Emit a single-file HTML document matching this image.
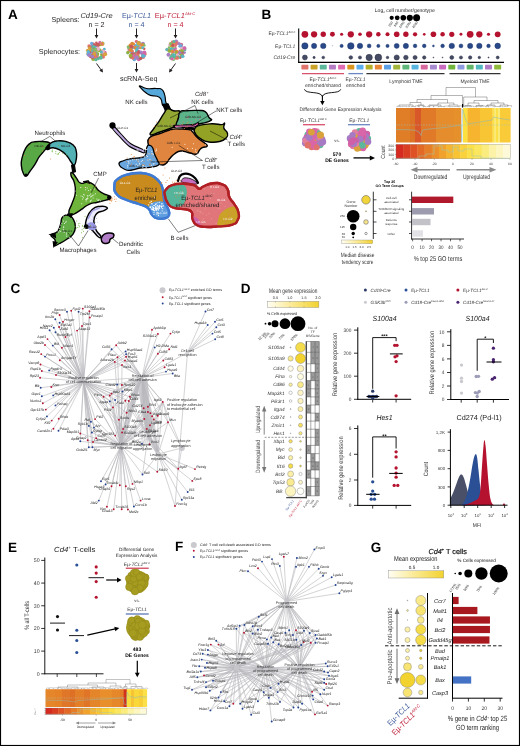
<!DOCTYPE html>
<html lang="en"><head><meta charset="utf-8"><title>Figure</title>
<style>
html,body{margin:0;padding:0;background:#fff;}
body{width:520px;height:746px;overflow:hidden;}
svg{display:block;text-rendering:geometricPrecision;font-family:'Liberation Sans', sans-serif;}
</style></head><body>
<svg width="520" height="746" viewBox="0 0 520 746">
<rect x="0" y="0" width="520" height="746" fill="#fff"/>
<g id="panel_a">
<text x="8.00" y="19.00" font-size="13.5" font-weight="bold" fill="#000">A</text>
<text x="79.50" y="21.50" font-size="7.2" text-anchor="end" fill="#231f20">Spleens:</text>
<text x="80.00" y="53.50" font-size="7.2" text-anchor="end" fill="#231f20">Splenocytes:</text>
<text x="96.50" y="17.50" font-size="7.2" text-anchor="middle" font-style="italic" fill="#231f20" textLength="32.00" lengthAdjust="spacingAndGlyphs">Cd19-Cre</text>
<text x="96.50" y="26.50" font-size="7.2" text-anchor="middle" fill="#231f20">n = 2</text>
<text x="136.50" y="17.50" font-size="7.2" text-anchor="middle" fill="#3d5a99" textLength="29.00" lengthAdjust="spacingAndGlyphs">Eµ-<tspan font-style="italic">TCL1</tspan></text>
<text x="136.50" y="26.50" font-size="7.2" text-anchor="middle" fill="#3d5a99">n = 4</text>
<text x="154.80" y="17.50" font-size="7.2" fill="#c0243c" textLength="40.50" lengthAdjust="spacingAndGlyphs">Eµ-<tspan font-style="italic">TCL1</tspan><tspan font-size="4" dy="-3" font-style="italic">Akt-C</tspan></text>
<text x="175.50" y="26.50" font-size="7.2" text-anchor="middle" fill="#c0243c">n = 4</text>
<line x1="96.50" y1="28.50" x2="96.50" y2="35.40" stroke="#231f20" stroke-width="1.0" />
<path d="M96.50,38.50 L94.60,34.90 L98.40,34.90 Z" fill="#231f20" />
<circle cx="97.32" cy="57.34" r="1.59" fill="#c85a5a" />
<circle cx="89.81" cy="51.65" r="1.79" fill="#e08a3a" />
<circle cx="96.54" cy="54.99" r="2.12" fill="#e08a3a" />
<circle cx="90.13" cy="48.74" r="1.61" fill="#5cb89a" />
<circle cx="97.21" cy="54.10" r="2.06" fill="#9aae3a" />
<circle cx="96.38" cy="42.89" r="1.33" fill="#c85a5a" />
<circle cx="104.72" cy="52.68" r="1.98" fill="#d268a8" />
<circle cx="89.03" cy="51.84" r="2.02" fill="#e5b4c8" />
<circle cx="98.24" cy="44.60" r="1.89" fill="#c85a5a" />
<circle cx="88.34" cy="53.57" r="2.02" fill="#d9a23a" />
<circle cx="103.18" cy="51.96" r="1.49" fill="#7fbf6a" />
<circle cx="90.02" cy="53.37" r="1.53" fill="#58b6c7" />
<circle cx="100.33" cy="44.40" r="1.73" fill="#9aae3a" />
<circle cx="89.17" cy="46.03" r="1.85" fill="#e0736c" />
<circle cx="102.54" cy="43.23" r="1.85" fill="#5cb89a" />
<circle cx="95.11" cy="45.46" r="1.74" fill="#c85a5a" />
<circle cx="89.67" cy="47.19" r="1.45" fill="#c85a5a" />
<circle cx="96.45" cy="53.76" r="1.68" fill="#7fbf6a" />
<circle cx="99.56" cy="50.32" r="1.96" fill="#9aae3a" />
<circle cx="97.85" cy="49.71" r="1.64" fill="#9aae3a" />
<circle cx="98.16" cy="49.10" r="1.80" fill="#e0736c" />
<circle cx="91.68" cy="55.45" r="1.74" fill="#d268a8" />
<circle cx="87.51" cy="50.18" r="1.54" fill="#d9a23a" />
<circle cx="102.10" cy="54.78" r="2.08" fill="#9aae3a" />
<circle cx="95.57" cy="55.11" r="1.86" fill="#a57fc4" />
<circle cx="93.25" cy="58.88" r="2.04" fill="#9aae3a" />
<circle cx="90.60" cy="56.57" r="1.60" fill="#c85a5a" />
<circle cx="95.55" cy="47.80" r="2.10" fill="#58b6c7" />
<circle cx="95.81" cy="57.84" r="1.88" fill="#d268a8" />
<circle cx="92.43" cy="52.31" r="1.53" fill="#a57fc4" />
<circle cx="102.78" cy="50.93" r="1.77" fill="#e0736c" />
<circle cx="91.70" cy="55.50" r="1.39" fill="#7fbf6a" />
<circle cx="92.38" cy="45.94" r="1.85" fill="#a57fc4" />
<circle cx="92.99" cy="47.40" r="1.69" fill="#c85a5a" />
<circle cx="103.90" cy="53.34" r="2.09" fill="#d268a8" />
<circle cx="93.27" cy="46.84" r="1.79" fill="#5cb89a" />
<circle cx="93.39" cy="54.42" r="1.59" fill="#c85a5a" />
<circle cx="96.07" cy="58.72" r="1.36" fill="#e0736c" />
<circle cx="104.37" cy="49.12" r="1.39" fill="#58b6c7" />
<circle cx="98.23" cy="58.71" r="1.48" fill="#5cb89a" />
<circle cx="93.53" cy="43.76" r="1.36" fill="#c85a5a" />
<circle cx="94.45" cy="55.33" r="1.98" fill="#e08a3a" />
<circle cx="100.14" cy="42.02" r="1.34" fill="#e5b4c8" />
<circle cx="91.67" cy="43.41" r="1.66" fill="#6aa9dc" />
<circle cx="97.19" cy="48.83" r="2.09" fill="#a57fc4" />
<circle cx="99.77" cy="42.52" r="1.43" fill="#d268a8" />
<circle cx="92.26" cy="57.64" r="1.35" fill="#c85a5a" />
<circle cx="94.91" cy="53.27" r="1.52" fill="#d268a8" />
<circle cx="89.58" cy="52.13" r="1.52" fill="#c85a5a" />
<circle cx="89.28" cy="55.30" r="1.41" fill="#e0736c" />
<circle cx="88.40" cy="51.70" r="1.80" fill="#58b6c7" />
<circle cx="88.50" cy="54.13" r="2.06" fill="#6aa9dc" />
<circle cx="102.96" cy="51.77" r="1.92" fill="#e5b4c8" />
<circle cx="91.84" cy="49.90" r="1.56" fill="#6aa9dc" />
<circle cx="102.35" cy="43.92" r="2.10" fill="#d9a23a" />
<circle cx="97.53" cy="48.67" r="2.04" fill="#e5b4c8" />
<circle cx="92.67" cy="50.18" r="2.03" fill="#9aae3a" />
<circle cx="95.86" cy="50.00" r="1.91" fill="#5cb89a" />
<circle cx="92.25" cy="50.41" r="1.29" fill="#58b6c7" />
<circle cx="89.08" cy="55.15" r="1.80" fill="#a57fc4" />
<circle cx="103.27" cy="57.00" r="1.73" fill="#e0736c" />
<circle cx="94.33" cy="53.81" r="1.73" fill="#d9a23a" />
<circle cx="100.73" cy="57.78" r="2.06" fill="#5cb89a" />
<circle cx="97.16" cy="49.78" r="1.81" fill="#9aae3a" />
<circle cx="101.41" cy="52.00" r="1.50" fill="#58b6c7" />
<circle cx="94.72" cy="50.24" r="1.55" fill="#e0736c" />
<circle cx="101.90" cy="44.09" r="1.31" fill="#e0736c" />
<circle cx="105.15" cy="54.33" r="2.00" fill="#d9a23a" />
<circle cx="90.32" cy="49.87" r="1.41" fill="#d9a23a" />
<circle cx="92.35" cy="56.52" r="1.77" fill="#a57fc4" />
<circle cx="95.93" cy="59.70" r="1.64" fill="#5cb89a" />
<circle cx="89.40" cy="47.81" r="1.60" fill="#d9a23a" />
<circle cx="95.04" cy="49.72" r="1.67" fill="#7fbf6a" />
<circle cx="97.97" cy="44.89" r="1.96" fill="#c85a5a" />
<circle cx="98.42" cy="49.10" r="1.81" fill="#e5b4c8" />
<line x1="136.50" y1="28.50" x2="136.50" y2="35.40" stroke="#231f20" stroke-width="1.0" />
<path d="M136.50,38.50 L134.60,34.90 L138.40,34.90 Z" fill="#231f20" />
<circle cx="137.06" cy="53.48" r="1.61" fill="#5cb89a" />
<circle cx="137.90" cy="51.20" r="1.74" fill="#d268a8" />
<circle cx="139.34" cy="42.77" r="1.46" fill="#58b6c7" />
<circle cx="131.56" cy="56.82" r="1.98" fill="#d268a8" />
<circle cx="138.79" cy="59.23" r="1.98" fill="#d268a8" />
<circle cx="138.07" cy="46.61" r="1.54" fill="#7fbf6a" />
<circle cx="142.93" cy="43.75" r="2.00" fill="#a57fc4" />
<circle cx="142.99" cy="54.25" r="1.85" fill="#58b6c7" />
<circle cx="136.83" cy="55.12" r="1.51" fill="#58b6c7" />
<circle cx="137.23" cy="49.83" r="1.52" fill="#e5b4c8" />
<circle cx="143.13" cy="44.73" r="1.71" fill="#9aae3a" />
<circle cx="132.37" cy="52.80" r="1.66" fill="#6aa9dc" />
<circle cx="133.95" cy="58.39" r="1.31" fill="#e0736c" />
<circle cx="127.77" cy="52.66" r="1.72" fill="#7fbf6a" />
<circle cx="131.44" cy="51.48" r="2.12" fill="#6aa9dc" />
<circle cx="144.93" cy="54.10" r="1.81" fill="#e08a3a" />
<circle cx="135.89" cy="55.97" r="1.91" fill="#a57fc4" />
<circle cx="134.05" cy="47.40" r="1.55" fill="#e0736c" />
<circle cx="135.53" cy="45.77" r="1.77" fill="#6aa9dc" />
<circle cx="143.27" cy="56.74" r="1.52" fill="#e0736c" />
<circle cx="144.29" cy="52.56" r="2.04" fill="#d268a8" />
<circle cx="135.94" cy="41.43" r="1.29" fill="#d268a8" />
<circle cx="135.22" cy="53.77" r="1.83" fill="#c85a5a" />
<circle cx="135.70" cy="48.15" r="1.80" fill="#e08a3a" />
<circle cx="135.59" cy="54.99" r="1.78" fill="#5cb89a" />
<circle cx="136.36" cy="51.29" r="1.31" fill="#5cb89a" />
<circle cx="131.28" cy="56.75" r="2.12" fill="#c85a5a" />
<circle cx="144.35" cy="55.78" r="1.64" fill="#6aa9dc" />
<circle cx="138.55" cy="52.02" r="1.90" fill="#c85a5a" />
<circle cx="135.20" cy="47.28" r="1.31" fill="#e08a3a" />
<circle cx="132.22" cy="47.88" r="1.31" fill="#58b6c7" />
<circle cx="134.33" cy="59.45" r="1.83" fill="#6aa9dc" />
<circle cx="132.27" cy="51.14" r="1.62" fill="#e0736c" />
<circle cx="138.00" cy="56.58" r="1.83" fill="#9aae3a" />
<circle cx="140.00" cy="44.77" r="1.30" fill="#d268a8" />
<circle cx="136.66" cy="57.24" r="1.93" fill="#9aae3a" />
<circle cx="139.19" cy="47.94" r="1.32" fill="#a57fc4" />
<circle cx="128.31" cy="46.81" r="1.62" fill="#7fbf6a" />
<circle cx="132.11" cy="43.69" r="1.91" fill="#e08a3a" />
<circle cx="132.16" cy="54.46" r="2.07" fill="#c85a5a" />
<circle cx="144.03" cy="45.23" r="1.56" fill="#7fbf6a" />
<circle cx="128.12" cy="52.09" r="1.54" fill="#9aae3a" />
<circle cx="129.39" cy="49.18" r="1.86" fill="#d268a8" />
<circle cx="133.72" cy="55.45" r="1.70" fill="#d268a8" />
<circle cx="144.18" cy="48.69" r="1.31" fill="#c85a5a" />
<circle cx="143.16" cy="57.08" r="1.84" fill="#e0736c" />
<circle cx="142.08" cy="44.88" r="1.67" fill="#e08a3a" />
<circle cx="136.60" cy="41.55" r="1.46" fill="#e0736c" />
<circle cx="137.69" cy="54.07" r="1.79" fill="#d268a8" />
<circle cx="143.05" cy="56.07" r="1.94" fill="#6aa9dc" />
<circle cx="128.52" cy="47.77" r="1.45" fill="#7fbf6a" />
<circle cx="130.26" cy="45.21" r="1.75" fill="#e08a3a" />
<circle cx="142.11" cy="47.37" r="1.34" fill="#e5b4c8" />
<circle cx="131.41" cy="46.86" r="2.01" fill="#c85a5a" />
<circle cx="137.09" cy="48.63" r="1.34" fill="#58b6c7" />
<circle cx="140.99" cy="47.65" r="1.57" fill="#d9a23a" />
<circle cx="142.70" cy="53.99" r="1.60" fill="#d268a8" />
<circle cx="130.60" cy="55.72" r="2.00" fill="#9aae3a" />
<circle cx="139.40" cy="52.27" r="1.80" fill="#a57fc4" />
<circle cx="130.69" cy="50.02" r="2.00" fill="#e08a3a" />
<circle cx="144.77" cy="54.06" r="1.44" fill="#d268a8" />
<circle cx="142.62" cy="47.75" r="1.38" fill="#58b6c7" />
<circle cx="141.11" cy="58.05" r="1.42" fill="#5cb89a" />
<circle cx="132.81" cy="58.15" r="1.49" fill="#e0736c" />
<circle cx="136.63" cy="49.83" r="1.54" fill="#58b6c7" />
<circle cx="143.13" cy="55.79" r="1.79" fill="#58b6c7" />
<circle cx="140.90" cy="52.61" r="2.00" fill="#a57fc4" />
<circle cx="137.31" cy="54.42" r="2.01" fill="#e0736c" />
<circle cx="133.57" cy="44.00" r="1.54" fill="#e08a3a" />
<circle cx="138.22" cy="43.63" r="2.07" fill="#58b6c7" />
<circle cx="138.47" cy="43.41" r="1.65" fill="#5cb89a" />
<circle cx="136.72" cy="57.69" r="2.11" fill="#a57fc4" />
<circle cx="138.59" cy="52.48" r="1.40" fill="#c85a5a" />
<circle cx="140.68" cy="58.44" r="1.59" fill="#c85a5a" />
<circle cx="138.88" cy="43.15" r="2.03" fill="#d9a23a" />
<line x1="175.50" y1="28.50" x2="175.50" y2="35.40" stroke="#231f20" stroke-width="1.0" />
<path d="M175.50,38.50 L173.60,34.90 L177.40,34.90 Z" fill="#231f20" />
<circle cx="170.06" cy="44.91" r="1.95" fill="#e5b4c8" />
<circle cx="171.89" cy="44.97" r="1.99" fill="#6aa9dc" />
<circle cx="170.57" cy="43.39" r="1.37" fill="#e08a3a" />
<circle cx="179.69" cy="46.28" r="1.36" fill="#6aa9dc" />
<circle cx="180.11" cy="50.86" r="1.51" fill="#9aae3a" />
<circle cx="180.27" cy="57.50" r="1.39" fill="#c85a5a" />
<circle cx="172.62" cy="51.65" r="2.10" fill="#e0736c" />
<circle cx="176.89" cy="54.68" r="2.11" fill="#5cb89a" />
<circle cx="173.57" cy="59.34" r="1.73" fill="#7fbf6a" />
<circle cx="173.01" cy="47.68" r="2.10" fill="#6aa9dc" />
<circle cx="184.40" cy="48.67" r="1.53" fill="#a57fc4" />
<circle cx="168.06" cy="55.08" r="1.50" fill="#a57fc4" />
<circle cx="173.51" cy="57.35" r="1.28" fill="#7fbf6a" />
<circle cx="175.17" cy="48.19" r="1.58" fill="#d268a8" />
<circle cx="170.61" cy="51.13" r="1.68" fill="#e5b4c8" />
<circle cx="177.91" cy="54.71" r="2.07" fill="#e5b4c8" />
<circle cx="172.10" cy="55.11" r="1.74" fill="#9aae3a" />
<circle cx="171.08" cy="55.77" r="1.28" fill="#e0736c" />
<circle cx="173.87" cy="43.41" r="2.09" fill="#d9a23a" />
<circle cx="176.12" cy="41.54" r="2.08" fill="#a57fc4" />
<circle cx="167.04" cy="49.81" r="1.49" fill="#e08a3a" />
<circle cx="182.06" cy="55.55" r="1.95" fill="#d268a8" />
<circle cx="184.61" cy="52.56" r="1.35" fill="#a57fc4" />
<circle cx="170.22" cy="50.05" r="1.40" fill="#d268a8" />
<circle cx="181.90" cy="47.35" r="1.54" fill="#a57fc4" />
<circle cx="172.93" cy="58.30" r="1.81" fill="#e5b4c8" />
<circle cx="172.34" cy="41.89" r="1.41" fill="#e0736c" />
<circle cx="182.10" cy="54.01" r="2.06" fill="#e0736c" />
<circle cx="176.37" cy="57.64" r="1.98" fill="#e08a3a" />
<circle cx="173.73" cy="47.62" r="2.11" fill="#7fbf6a" />
<circle cx="182.20" cy="51.83" r="1.99" fill="#5cb89a" />
<circle cx="182.74" cy="49.68" r="1.39" fill="#9aae3a" />
<circle cx="180.61" cy="54.31" r="1.40" fill="#9aae3a" />
<circle cx="174.06" cy="56.51" r="2.12" fill="#5cb89a" />
<circle cx="181.99" cy="49.56" r="1.69" fill="#e5b4c8" />
<circle cx="173.79" cy="54.93" r="1.67" fill="#5cb89a" />
<circle cx="182.21" cy="55.98" r="1.73" fill="#5cb89a" />
<circle cx="171.21" cy="45.80" r="1.56" fill="#d9a23a" />
<circle cx="169.13" cy="50.84" r="1.74" fill="#58b6c7" />
<circle cx="170.49" cy="56.81" r="1.93" fill="#e5b4c8" />
<circle cx="174.33" cy="49.60" r="1.53" fill="#58b6c7" />
<circle cx="174.41" cy="45.77" r="1.69" fill="#e5b4c8" />
<circle cx="173.87" cy="41.61" r="1.56" fill="#5cb89a" />
<circle cx="174.92" cy="50.01" r="1.74" fill="#d268a8" />
<circle cx="173.57" cy="54.82" r="1.52" fill="#58b6c7" />
<circle cx="170.81" cy="43.86" r="1.57" fill="#7fbf6a" />
<circle cx="170.71" cy="57.93" r="1.62" fill="#5cb89a" />
<circle cx="181.08" cy="44.87" r="2.10" fill="#a57fc4" />
<circle cx="169.08" cy="49.73" r="1.42" fill="#a57fc4" />
<circle cx="181.73" cy="48.04" r="1.86" fill="#e5b4c8" />
<circle cx="172.94" cy="45.22" r="1.80" fill="#c85a5a" />
<circle cx="166.85" cy="49.57" r="1.53" fill="#58b6c7" />
<circle cx="176.95" cy="43.17" r="1.89" fill="#e0736c" />
<circle cx="178.19" cy="57.21" r="1.81" fill="#5cb89a" />
<circle cx="177.29" cy="58.06" r="1.81" fill="#e0736c" />
<circle cx="184.97" cy="49.72" r="1.42" fill="#5cb89a" />
<circle cx="182.82" cy="56.37" r="1.69" fill="#58b6c7" />
<circle cx="181.99" cy="51.91" r="1.60" fill="#c85a5a" />
<circle cx="179.58" cy="52.34" r="1.89" fill="#a57fc4" />
<circle cx="181.72" cy="50.52" r="1.51" fill="#9aae3a" />
<circle cx="180.96" cy="44.76" r="1.74" fill="#e0736c" />
<circle cx="170.94" cy="48.92" r="1.53" fill="#58b6c7" />
<circle cx="172.03" cy="56.50" r="2.09" fill="#5cb89a" />
<circle cx="168.47" cy="54.58" r="1.82" fill="#a57fc4" />
<circle cx="172.19" cy="51.25" r="1.60" fill="#e08a3a" />
<circle cx="184.62" cy="48.07" r="1.79" fill="#a57fc4" />
<circle cx="179.07" cy="43.68" r="1.60" fill="#a57fc4" />
<circle cx="169.12" cy="47.57" r="1.39" fill="#7fbf6a" />
<circle cx="180.79" cy="45.61" r="1.64" fill="#6aa9dc" />
<circle cx="169.37" cy="50.77" r="1.88" fill="#9aae3a" />
<circle cx="184.43" cy="48.35" r="1.78" fill="#d268a8" />
<circle cx="175.51" cy="45.41" r="1.49" fill="#e0736c" />
<circle cx="171.92" cy="58.87" r="1.69" fill="#d268a8" />
<circle cx="176.69" cy="51.62" r="1.84" fill="#e08a3a" />
<circle cx="175.85" cy="52.36" r="1.39" fill="#9aae3a" />
<line x1="96.50" y1="63.50" x2="101.18" y2="69.99" stroke="#231f20" stroke-width="1.0" />
<path d="M103.00,72.50 L99.35,70.69 L102.43,68.47 Z" fill="#231f20" />
<line x1="136.50" y1="63.00" x2="136.50" y2="69.40" stroke="#231f20" stroke-width="1.0" />
<path d="M136.50,72.50 L134.60,68.90 L138.40,68.90 Z" fill="#231f20" />
<line x1="175.50" y1="63.50" x2="170.82" y2="69.99" stroke="#231f20" stroke-width="1.0" />
<path d="M169.00,72.50 L169.57,68.47 L172.65,70.69 Z" fill="#231f20" />
<text x="138.70" y="81.00" font-size="7.2" text-anchor="middle" fill="#231f20">scRNA-Seq</text>
<path d="M113.00,127.00 C114.17,128.33 117.17,132.00 120.00,135.00 C122.83,138.00 126.00,142.25 130.00,145.00 C134.00,147.75 141.67,150.42 144.00,151.50" fill="none" stroke="#000" stroke-width="4.0" stroke-linecap="round"/>
<path d="M114.00,128.50 C115.00,129.58 117.33,132.25 120.00,135.00 C122.67,137.75 126.08,142.28 130.00,145.00 C133.92,147.72 141.25,150.25 143.50,151.30" fill="none" stroke="#b9a3d9" stroke-width="2.0" stroke-linecap="round"/>
<circle cx="112.50" cy="125.40" r="3.10" fill="#000" />
<path d="M139.80,85.80 C141.08,85.69 142.13,87.78 146.50,88.50 C150.87,89.22 152.07,88.21 156.20,88.50 C160.33,88.79 159.71,87.76 162.00,89.60 C164.29,91.44 163.79,92.07 164.80,95.40 C165.81,98.73 165.03,99.46 165.80,102.10 C166.57,104.74 168.45,104.39 167.70,105.30 C166.95,106.21 164.79,107.13 163.00,105.50 C161.21,103.87 162.57,101.65 161.00,99.20 C159.43,96.75 159.93,97.31 157.10,96.30 C154.27,95.29 153.47,96.41 150.40,95.40 C147.33,94.39 147.92,94.23 145.60,92.50 C143.28,90.77 143.25,90.69 141.70,88.90 C140.15,87.11 138.52,85.91 139.80,85.80 Z" fill="#56a9da" stroke="#000" stroke-width="1.2" stroke-linejoin="round"/>
<path d="M162.6,104.3 L168,103.8 L171,110.5 L166,112 Z" fill="#000" stroke="#000" stroke-width="1.2" stroke-linejoin="round"/>
<path d="M149.40,137.70 C152.47,134.53 154.11,135.69 160.00,133.50 C165.89,131.31 166.38,130.70 171.50,129.50 C176.62,128.30 174.59,128.97 179.20,129.00 C183.81,129.03 185.20,128.80 188.80,129.60 C192.40,130.40 190.38,129.84 192.70,132.00 C195.02,134.16 194.17,134.63 197.50,137.70 C200.83,140.77 202.67,141.21 205.20,143.50 C207.73,145.79 207.77,145.18 207.00,146.30 C206.23,147.42 204.33,146.66 202.30,147.70 C200.27,148.74 200.95,148.52 199.40,150.20 C197.85,151.88 199.06,153.25 196.50,154.00 C193.94,154.75 193.93,153.80 189.80,153.00 C185.67,152.20 185.11,150.73 181.00,151.00 C176.89,151.27 177.44,151.92 174.40,154.00 C171.36,156.08 171.89,156.24 169.60,158.80 C167.31,161.36 168.36,162.05 165.80,163.60 C163.24,165.15 163.09,165.35 160.00,164.60 C156.91,163.85 156.52,163.63 154.20,160.80 C151.88,157.97 152.82,158.11 151.30,154.00 C149.78,149.89 149.01,149.75 148.50,145.40 C147.99,141.05 146.33,140.87 149.40,137.70 Z" fill="#e0853f" stroke="#000" stroke-width="1.4" stroke-linejoin="round"/>
<path d="M119.00,164.00 C118.73,161.60 120.53,161.97 124.00,160.50 C127.47,159.03 127.47,159.27 132.00,158.50 C136.53,157.73 137.40,158.53 141.00,157.60 C144.60,156.67 143.90,157.83 145.50,155.00 C147.10,152.17 145.93,149.59 147.00,147.00 C148.07,144.41 148.03,145.17 149.50,145.30 C150.97,145.43 151.17,145.18 152.50,147.50 C153.83,149.82 153.17,150.53 154.50,154.00 C155.83,157.47 156.43,157.57 157.50,160.50 C158.57,163.43 160.50,163.19 158.50,165.00 C156.50,166.81 154.93,166.50 150.00,167.30 C145.07,168.10 144.80,167.28 140.00,168.00 C135.20,168.72 136.00,169.60 132.00,170.00 C128.00,170.40 128.47,171.10 125.00,169.50 C121.53,167.90 119.27,166.40 119.00,164.00 Z" fill="#6aa7de" stroke="#000" stroke-width="1.3" stroke-linejoin="round"/>
<circle cx="136.71" cy="151.02" r="0.50" fill="#fff" />
<circle cx="146.53" cy="149.45" r="0.50" fill="#fff" />
<circle cx="143.08" cy="155.31" r="0.50" fill="#fff" />
<circle cx="128.74" cy="158.15" r="0.50" fill="#fff" />
<circle cx="128.12" cy="156.67" r="0.50" fill="#fff" />
<circle cx="129.10" cy="149.81" r="0.50" fill="#fff" />
<circle cx="139.74" cy="164.54" r="0.50" fill="#fff" />
<circle cx="130.71" cy="152.46" r="0.50" fill="#fff" />
<circle cx="145.82" cy="166.95" r="0.50" fill="#fff" />
<circle cx="144.31" cy="155.93" r="0.50" fill="#fff" />
<circle cx="156.29" cy="148.93" r="0.50" fill="#fff" />
<circle cx="152.75" cy="153.79" r="0.50" fill="#fff" />
<circle cx="131.33" cy="150.36" r="0.50" fill="#fff" />
<circle cx="136.25" cy="164.32" r="0.50" fill="#fff" />
<circle cx="132.42" cy="159.63" r="0.50" fill="#fff" />
<circle cx="146.17" cy="155.45" r="0.50" fill="#fff" />
<circle cx="143.43" cy="149.26" r="0.50" fill="#fff" />
<circle cx="128.79" cy="152.12" r="0.50" fill="#fff" />
<circle cx="147.41" cy="156.55" r="0.50" fill="#fff" />
<circle cx="136.42" cy="159.71" r="0.50" fill="#fff" />
<circle cx="140.60" cy="154.00" r="0.50" fill="#fff" />
<circle cx="150.83" cy="161.98" r="0.50" fill="#fff" />
<circle cx="134.32" cy="159.49" r="0.50" fill="#fff" />
<circle cx="142.76" cy="165.50" r="0.50" fill="#fff" />
<circle cx="148.88" cy="153.76" r="0.50" fill="#fff" />
<circle cx="156.41" cy="150.36" r="0.50" fill="#fff" />
<circle cx="139.54" cy="163.14" r="0.50" fill="#fff" />
<circle cx="131.56" cy="157.78" r="0.50" fill="#fff" />
<circle cx="128.18" cy="161.36" r="0.50" fill="#fff" />
<circle cx="149.94" cy="159.46" r="0.50" fill="#fff" />
<circle cx="153.26" cy="154.27" r="0.50" fill="#fff" />
<circle cx="147.86" cy="159.89" r="0.50" fill="#fff" />
<circle cx="144.40" cy="157.12" r="0.50" fill="#fff" />
<circle cx="152.20" cy="166.89" r="0.50" fill="#fff" />
<circle cx="141.22" cy="161.28" r="0.50" fill="#fff" />
<circle cx="128.82" cy="162.03" r="0.50" fill="#fff" />
<circle cx="146.41" cy="167.86" r="0.50" fill="#fff" />
<circle cx="151.66" cy="153.69" r="0.50" fill="#fff" />
<circle cx="138.57" cy="161.37" r="0.50" fill="#fff" />
<circle cx="127.68" cy="157.23" r="0.50" fill="#fff" />
<circle cx="132.04" cy="150.34" r="0.50" fill="#fff" />
<circle cx="128.77" cy="163.36" r="0.50" fill="#fff" />
<circle cx="130.88" cy="152.95" r="0.50" fill="#fff" />
<circle cx="138.73" cy="165.43" r="0.50" fill="#fff" />
<circle cx="129.42" cy="156.98" r="0.50" fill="#fff" />
<circle cx="143.48" cy="165.67" r="0.50" fill="#fff" />
<circle cx="151.58" cy="165.28" r="0.50" fill="#fff" />
<circle cx="135.35" cy="156.31" r="0.50" fill="#fff" />
<circle cx="137.76" cy="165.68" r="0.50" fill="#fff" />
<circle cx="155.73" cy="151.02" r="0.50" fill="#fff" />
<circle cx="132.29" cy="152.64" r="0.50" fill="#fff" />
<circle cx="134.00" cy="157.70" r="0.50" fill="#fff" />
<circle cx="144.67" cy="153.25" r="0.50" fill="#fff" />
<circle cx="127.12" cy="156.38" r="0.50" fill="#fff" />
<circle cx="138.08" cy="159.33" r="0.50" fill="#fff" />
<circle cx="155.59" cy="161.81" r="0.50" fill="#fff" />
<circle cx="142.46" cy="160.35" r="0.50" fill="#fff" />
<circle cx="147.29" cy="149.08" r="0.50" fill="#fff" />
<circle cx="153.99" cy="163.60" r="0.50" fill="#fff" />
<circle cx="153.24" cy="163.96" r="0.50" fill="#fff" />
<circle cx="138.77" cy="155.98" r="0.50" fill="#fff" />
<circle cx="130.11" cy="160.69" r="0.50" fill="#fff" />
<circle cx="128.87" cy="149.35" r="0.50" fill="#fff" />
<circle cx="133.26" cy="151.25" r="0.50" fill="#fff" />
<circle cx="137.20" cy="149.05" r="0.50" fill="#fff" />
<circle cx="127.01" cy="151.03" r="0.50" fill="#fff" />
<circle cx="130.04" cy="155.27" r="0.50" fill="#fff" />
<circle cx="127.77" cy="165.49" r="0.50" fill="#fff" />
<circle cx="145.42" cy="150.97" r="0.50" fill="#fff" />
<circle cx="134.57" cy="154.95" r="0.50" fill="#fff" />
<circle cx="137.92" cy="150.46" r="0.50" fill="#fff" />
<circle cx="152.47" cy="167.86" r="0.50" fill="#fff" />
<circle cx="140.98" cy="157.68" r="0.50" fill="#fff" />
<circle cx="129.58" cy="150.04" r="0.50" fill="#fff" />
<circle cx="137.28" cy="153.30" r="0.50" fill="#fff" />
<circle cx="151.87" cy="151.23" r="0.50" fill="#fff" />
<circle cx="127.69" cy="167.02" r="0.50" fill="#fff" />
<circle cx="142.85" cy="150.93" r="0.50" fill="#fff" />
<circle cx="143.30" cy="148.54" r="0.50" fill="#fff" />
<circle cx="142.84" cy="167.57" r="0.50" fill="#fff" />
<path d="M167.70,108.80 C170.29,108.03 170.17,110.03 173.50,110.80 C176.83,111.57 178.92,109.65 180.20,111.70 C181.48,113.75 179.34,114.74 178.30,118.50 C177.26,122.26 178.11,123.27 176.30,125.80 C174.49,128.33 175.85,126.35 171.50,128.00 C167.15,129.65 165.63,130.19 160.00,132.00 C154.37,133.81 151.95,135.87 150.40,134.80 C148.85,133.73 151.91,131.60 154.20,128.00 C156.49,124.40 156.44,125.11 159.00,121.30 C161.56,117.49 161.48,117.03 163.80,113.70 C166.12,110.37 165.11,109.57 167.70,108.80 Z" fill="#93a832" stroke="#000" stroke-width="1.4" stroke-linejoin="round"/>
<path d="M180.20,111.70 C182.52,109.65 182.12,111.15 187.00,110.80 C191.88,110.45 193.65,110.16 198.50,110.40 C203.35,110.64 202.40,109.81 205.20,111.70 C208.00,113.59 207.45,115.18 209.00,117.50 C210.55,119.82 212.79,118.85 211.00,120.40 C209.21,121.95 207.18,122.18 202.30,123.30 C197.42,124.42 197.85,124.09 192.70,124.60 C187.55,125.11 187.37,124.88 183.00,125.20 C178.63,125.52 177.55,127.59 176.30,125.80 C175.05,124.01 177.26,122.26 178.30,118.50 C179.34,114.74 177.88,113.75 180.20,111.70 Z" fill="#5cb389" stroke="#000" stroke-width="1.4" stroke-linejoin="round"/>
<path d="M174.40,126.10 C176.00,126.18 180.63,126.58 184.00,126.60 C187.37,126.62 192.27,126.72 194.60,126.20 C196.93,125.68 197.43,123.95 198.00,123.50" fill="none" stroke="#000" stroke-width="2.8" stroke-linecap="round"/>
<path d="M183.00,127.30 C184.17,127.45 187.75,127.75 190.00,128.20 C192.25,128.65 195.42,129.70 196.50,130.00" fill="none" stroke="#000" stroke-width="2.4" stroke-linecap="round"/>
<path d="M175.40,126.30 C176.83,126.27 180.90,126.15 184.00,126.10 C187.10,126.05 191.78,126.38 194.00,126.00 C196.22,125.62 196.75,124.17 197.30,123.80" fill="none" stroke="#e06bb2" stroke-width="1.2" stroke-linecap="round"/>
<path d="M194.60,129.00 C195.88,126.71 195.76,126.59 200.40,125.20 C205.04,123.81 206.37,123.96 212.00,123.80 C217.63,123.64 218.14,124.76 221.50,124.60 C224.86,124.44 223.99,122.29 224.60,123.20 C225.21,124.11 223.08,125.41 223.80,128.00 C224.52,130.59 226.63,130.31 227.30,132.90 C227.97,135.49 228.35,135.41 226.30,137.70 C224.25,139.99 224.21,140.35 219.60,141.50 C214.99,142.65 214.12,142.75 209.00,142.00 C203.88,141.25 203.97,140.89 200.40,138.70 C196.83,136.51 197.15,136.39 195.60,133.80 C194.05,131.21 193.32,131.29 194.60,129.00 Z" fill="#93a225" stroke="#000" stroke-width="1.4" stroke-linejoin="round"/>
<circle cx="187.10" cy="123.33" r="0.50" fill="#e0853f" />
<circle cx="174.20" cy="131.81" r="0.50" fill="#e0853f" />
<circle cx="185.27" cy="133.96" r="0.50" fill="#e0853f" />
<circle cx="154.58" cy="126.59" r="0.50" fill="#e0853f" />
<circle cx="170.91" cy="130.49" r="0.50" fill="#e0853f" />
<circle cx="188.10" cy="117.27" r="0.50" fill="#e0853f" />
<circle cx="188.06" cy="122.21" r="0.50" fill="#e0853f" />
<circle cx="183.20" cy="122.03" r="0.50" fill="#e0853f" />
<circle cx="177.11" cy="132.78" r="0.50" fill="#e0853f" />
<circle cx="173.21" cy="128.76" r="0.50" fill="#e0853f" />
<circle cx="184.57" cy="128.57" r="0.50" fill="#e0853f" />
<circle cx="173.94" cy="134.13" r="0.50" fill="#e0853f" />
<circle cx="187.58" cy="126.82" r="0.50" fill="#e0853f" />
<circle cx="207.94" cy="123.41" r="0.50" fill="#e0853f" />
<circle cx="185.98" cy="126.94" r="0.50" fill="#e0853f" />
<circle cx="176.59" cy="130.82" r="0.50" fill="#e0853f" />
<circle cx="177.67" cy="130.55" r="0.50" fill="#e0853f" />
<circle cx="156.67" cy="121.96" r="0.50" fill="#e0853f" />
<circle cx="182.38" cy="124.15" r="0.50" fill="#e0853f" />
<circle cx="162.68" cy="122.12" r="0.50" fill="#e0853f" />
<circle cx="190.20" cy="130.99" r="0.50" fill="#e0853f" />
<circle cx="192.68" cy="124.25" r="0.50" fill="#e0853f" />
<circle cx="188.01" cy="116.58" r="0.50" fill="#e06bb2" />
<circle cx="194.13" cy="124.77" r="0.50" fill="#e06bb2" />
<circle cx="180.88" cy="124.68" r="0.50" fill="#e06bb2" />
<circle cx="195.90" cy="119.47" r="0.50" fill="#e06bb2" />
<circle cx="172.22" cy="124.22" r="0.50" fill="#e06bb2" />
<circle cx="187.23" cy="118.19" r="0.50" fill="#e06bb2" />
<circle cx="191.20" cy="121.23" r="0.50" fill="#e06bb2" />
<circle cx="199.98" cy="116.94" r="0.50" fill="#e06bb2" />
<circle cx="197.09" cy="124.46" r="0.50" fill="#e06bb2" />
<circle cx="199.62" cy="119.46" r="0.50" fill="#e06bb2" />
<circle cx="142.56" cy="165.09" r="0.50" fill="#e0853f" />
<circle cx="151.15" cy="160.62" r="0.50" fill="#e0853f" />
<circle cx="164.24" cy="158.68" r="0.50" fill="#e0853f" />
<circle cx="127.03" cy="158.06" r="0.50" fill="#e0853f" />
<circle cx="131.46" cy="164.09" r="0.50" fill="#e0853f" />
<circle cx="153.17" cy="156.94" r="0.50" fill="#e0853f" />
<circle cx="149.90" cy="164.16" r="0.50" fill="#e0853f" />
<circle cx="150.79" cy="166.63" r="0.50" fill="#e0853f" />
<circle cx="149.39" cy="165.20" r="0.50" fill="#e0853f" />
<circle cx="164.91" cy="168.05" r="0.50" fill="#e0853f" />
<circle cx="143.28" cy="164.40" r="0.50" fill="#e0853f" />
<circle cx="131.24" cy="154.58" r="0.50" fill="#e0853f" />
<circle cx="130.37" cy="165.34" r="0.50" fill="#e0853f" />
<circle cx="137.68" cy="159.94" r="0.50" fill="#e0853f" />
<circle cx="148.08" cy="159.86" r="0.50" fill="#e0853f" />
<circle cx="144.08" cy="161.17" r="0.50" fill="#e0853f" />
<circle cx="167.91" cy="160.22" r="0.50" fill="#e0853f" />
<circle cx="155.31" cy="165.00" r="0.50" fill="#e0853f" />
<circle cx="148.02" cy="153.70" r="0.50" fill="#e0853f" />
<circle cx="144.45" cy="165.37" r="0.50" fill="#e0853f" />
<circle cx="133.54" cy="157.01" r="0.50" fill="#e0853f" />
<circle cx="160.07" cy="163.96" r="0.50" fill="#e0853f" />
<circle cx="150.08" cy="164.03" r="0.50" fill="#e0853f" />
<circle cx="151.66" cy="154.11" r="0.50" fill="#e0853f" />
<circle cx="134.36" cy="156.81" r="0.50" fill="#e0853f" />
<circle cx="159.23" cy="157.17" r="0.50" fill="#e0853f" />
<circle cx="140.98" cy="156.15" r="0.50" fill="#e0853f" />
<circle cx="134.68" cy="159.41" r="0.50" fill="#e0853f" />
<circle cx="138.20" cy="161.82" r="0.50" fill="#e0853f" />
<circle cx="126.40" cy="161.64" r="0.50" fill="#e0853f" />
<circle cx="184.87" cy="144.17" r="0.50" fill="#fff" />
<circle cx="195.80" cy="149.17" r="0.50" fill="#fff" />
<circle cx="172.16" cy="147.37" r="0.50" fill="#fff" />
<circle cx="192.33" cy="148.62" r="0.50" fill="#fff" />
<circle cx="196.24" cy="152.24" r="0.50" fill="#fff" />
<circle cx="195.33" cy="150.98" r="0.50" fill="#fff" />
<circle cx="200.67" cy="151.98" r="0.50" fill="#fff" />
<circle cx="193.61" cy="143.75" r="0.50" fill="#fff" />
<circle cx="197.17" cy="153.93" r="0.50" fill="#fff" />
<circle cx="187.62" cy="148.59" r="0.50" fill="#fff" />
<circle cx="205.52" cy="144.73" r="0.50" fill="#fff" />
<circle cx="193.75" cy="157.27" r="0.50" fill="#fff" />
<circle cx="182.58" cy="152.07" r="0.50" fill="#fff" />
<circle cx="205.09" cy="149.64" r="0.50" fill="#fff" />
<path d="M34.00,141.90 C37.39,141.34 38.26,141.05 42.50,141.50 C46.74,141.95 49.34,141.23 49.90,143.60 C50.46,145.97 47.43,146.91 44.60,150.40 C41.77,153.89 41.83,153.05 39.30,156.70 C36.77,160.35 37.63,160.15 35.10,164.10 C32.57,168.05 32.07,168.38 29.80,171.50 C27.53,174.62 28.28,175.21 26.60,175.80 C24.92,176.39 24.91,176.53 23.50,173.70 C22.09,170.87 21.59,169.73 21.30,165.20 C21.01,160.67 21.25,161.21 22.40,156.70 C23.55,152.19 23.63,151.79 25.60,148.30 C27.57,144.81 27.56,145.31 29.80,143.60 C32.04,141.89 30.61,142.46 34.00,141.90 Z" fill="#58a846" stroke="#000" stroke-width="1.4" stroke-linejoin="round"/>
<circle cx="26.00" cy="175.00" r="1.60" fill="#000" />
<path d="M49.90,143.60 C52.73,141.36 53.06,141.46 57.30,140.90 C61.54,140.34 61.56,140.38 65.80,141.50 C70.04,142.62 70.40,142.46 73.20,145.10 C76.00,147.74 75.47,147.75 76.30,151.40 C77.13,155.05 76.86,155.12 76.30,158.80 C75.74,162.48 75.59,164.35 74.20,165.20 C72.81,166.05 73.07,164.53 71.10,162.00 C69.13,159.47 69.63,158.79 66.80,155.70 C63.97,152.61 64.15,152.51 60.50,150.40 C56.85,148.29 56.78,148.09 53.10,147.80 C49.42,147.51 47.55,150.42 46.70,149.30 C45.85,148.18 47.07,145.84 49.90,143.60 Z" fill="#52b1b5" stroke="#000" stroke-width="1.4" stroke-linejoin="round"/>
<path d="M45.5,148 L50,144.5 L49,149.5 Z" fill="#000" stroke="#000" stroke-width="1" />
<path d="M71.6,165.4 L74.4,164.8 L75.4,171.6 L72.8,172.4 Z" fill="#000" stroke="#000" stroke-width="1.2" stroke-linejoin="round"/>
<circle cx="58.24" cy="154.26" r="0.50" fill="#6fb53b" />
<circle cx="52.38" cy="151.78" r="0.50" fill="#6fb53b" />
<circle cx="57.17" cy="154.06" r="0.50" fill="#6fb53b" />
<circle cx="55.86" cy="151.51" r="0.50" fill="#6fb53b" />
<circle cx="51.94" cy="151.10" r="0.50" fill="#6fb53b" />
<circle cx="59.57" cy="152.25" r="0.50" fill="#6fb53b" />
<circle cx="52.59" cy="149.90" r="0.50" fill="#6fb53b" />
<circle cx="66.67" cy="154.85" r="0.50" fill="#6fb53b" />
<circle cx="58.55" cy="145.52" r="0.50" fill="#6fb53b" />
<circle cx="58.49" cy="153.20" r="0.50" fill="#6fb53b" />
<circle cx="62.74" cy="153.07" r="0.50" fill="#6fb53b" />
<circle cx="55.73" cy="153.31" r="0.50" fill="#6fb53b" />
<circle cx="24.45" cy="155.17" r="0.50" fill="#e0853f" />
<circle cx="42.60" cy="146.49" r="0.50" fill="#e0853f" />
<circle cx="50.60" cy="159.05" r="0.50" fill="#e0853f" />
<circle cx="28.78" cy="146.67" r="0.50" fill="#e0853f" />
<circle cx="42.33" cy="150.92" r="0.50" fill="#e0853f" />
<path d="M72.10,172.60 C73.49,173.16 74.03,175.07 76.30,177.90 C78.57,180.73 77.48,182.08 80.60,183.20 C83.72,184.32 84.35,181.54 88.00,182.10 C91.65,182.66 91.47,183.03 94.30,185.30 C97.13,187.57 96.04,188.33 98.60,190.60 C101.16,192.87 101.10,192.39 103.90,193.80 C106.70,195.21 107.47,194.65 109.10,195.90 C110.73,197.15 110.83,197.38 110.00,198.50 C109.17,199.62 109.33,199.11 106.00,200.10 C102.67,201.09 102.03,201.08 97.50,202.20 C92.97,203.32 92.95,202.59 89.00,204.30 C85.05,206.01 86.09,206.33 82.70,208.60 C79.31,210.87 79.39,211.12 76.30,212.80 C73.21,214.48 73.07,215.19 71.10,214.90 C69.13,214.61 68.63,214.79 68.90,211.70 C69.17,208.61 70.39,208.37 72.10,203.30 C73.81,198.23 74.74,198.35 75.30,192.70 C75.86,187.05 75.32,186.61 74.20,182.10 C73.08,177.59 71.66,178.33 71.10,175.80 C70.54,173.27 70.71,172.04 72.10,172.60 Z" fill="#6fb53b" stroke="#000" stroke-width="1.4" stroke-linejoin="round"/>
<circle cx="109.30" cy="197.60" r="2.30" fill="#000" />
<path d="M83,181.6 L88.5,180.6 L90,183.5 Z" fill="#000" stroke="#000" stroke-width="0.8" />
<circle cx="85.61" cy="189.64" r="0.50" fill="#fff" />
<circle cx="100.72" cy="200.71" r="0.50" fill="#fff" />
<circle cx="80.83" cy="187.60" r="0.50" fill="#fff" />
<circle cx="98.22" cy="200.44" r="0.50" fill="#fff" />
<circle cx="98.93" cy="199.46" r="0.50" fill="#fff" />
<circle cx="82.77" cy="196.43" r="0.50" fill="#fff" />
<circle cx="75.04" cy="190.89" r="0.50" fill="#fff" />
<circle cx="87.65" cy="197.88" r="0.50" fill="#fff" />
<circle cx="83.63" cy="194.32" r="0.50" fill="#fff" />
<circle cx="90.75" cy="197.07" r="0.50" fill="#fff" />
<circle cx="91.83" cy="196.15" r="0.50" fill="#fff" />
<circle cx="86.06" cy="199.34" r="0.50" fill="#fff" />
<circle cx="88.30" cy="190.46" r="0.50" fill="#fff" />
<circle cx="84.24" cy="195.00" r="0.50" fill="#fff" />
<circle cx="87.34" cy="195.86" r="0.50" fill="#fff" />
<circle cx="88.00" cy="195.97" r="0.50" fill="#fff" />
<circle cx="87.19" cy="188.08" r="0.50" fill="#fff" />
<circle cx="90.53" cy="200.80" r="0.50" fill="#fff" />
<circle cx="90.61" cy="193.96" r="0.50" fill="#fff" />
<circle cx="90.68" cy="189.69" r="0.50" fill="#fff" />
<circle cx="76.62" cy="195.33" r="0.50" fill="#fff" />
<circle cx="82.42" cy="199.07" r="0.50" fill="#fff" />
<circle cx="81.50" cy="180.54" r="0.50" fill="#fff" />
<circle cx="81.76" cy="203.68" r="0.50" fill="#fff" />
<circle cx="85.71" cy="187.47" r="0.50" fill="#fff" />
<circle cx="83.42" cy="197.86" r="0.50" fill="#fff" />
<circle cx="90.98" cy="195.97" r="0.50" fill="#fff" />
<circle cx="96.90" cy="198.89" r="0.50" fill="#fff" />
<circle cx="87.87" cy="198.28" r="0.50" fill="#fff" />
<circle cx="97.93" cy="200.34" r="0.50" fill="#fff" />
<circle cx="94.14" cy="189.04" r="0.50" fill="#fff" />
<circle cx="87.11" cy="199.01" r="0.50" fill="#fff" />
<circle cx="86.22" cy="200.88" r="0.50" fill="#fff" />
<circle cx="91.58" cy="200.00" r="0.50" fill="#fff" />
<circle cx="86.73" cy="209.01" r="0.50" fill="#fff" />
<circle cx="95.44" cy="193.82" r="0.50" fill="#fff" />
<circle cx="88.54" cy="209.27" r="0.50" fill="#fff" />
<circle cx="85.94" cy="199.81" r="0.50" fill="#fff" />
<circle cx="93.88" cy="195.04" r="0.50" fill="#fff" />
<circle cx="81.00" cy="196.03" r="0.50" fill="#fff" />
<circle cx="90.16" cy="201.21" r="0.50" fill="#fff" />
<circle cx="92.70" cy="195.13" r="0.50" fill="#fff" />
<circle cx="93.12" cy="197.97" r="0.50" fill="#fff" />
<circle cx="89.24" cy="195.30" r="0.50" fill="#fff" />
<circle cx="86.54" cy="198.77" r="0.50" fill="#fff" />
<circle cx="84.73" cy="187.49" r="0.45" fill="#e0853f" />
<circle cx="90.02" cy="184.14" r="0.45" fill="#e0853f" />
<circle cx="87.82" cy="181.96" r="0.45" fill="#e0853f" />
<circle cx="86.59" cy="192.27" r="0.45" fill="#e0853f" />
<circle cx="92.83" cy="189.78" r="0.45" fill="#e0853f" />
<circle cx="88.84" cy="184.33" r="0.45" fill="#e0853f" />
<circle cx="99.14" cy="192.06" r="0.45" fill="#e0853f" />
<circle cx="95.47" cy="186.47" r="0.45" fill="#e0853f" />
<path d="M62.60,217.00 C64.84,214.63 66.07,214.94 68.90,215.50 C71.73,216.06 71.49,216.17 73.20,219.10 C74.91,222.03 75.30,222.55 75.30,226.50 C75.30,230.45 75.47,230.51 73.20,233.90 C70.93,237.29 70.48,236.64 66.80,239.20 C63.12,241.76 62.79,241.79 59.40,243.50 C56.01,245.21 55.22,246.45 54.10,245.60 C52.98,244.75 56.03,243.13 55.20,240.30 C54.37,237.47 50.44,237.27 51.00,235.00 C51.56,232.73 54.77,234.63 57.30,231.80 C59.83,228.97 59.09,228.35 60.50,224.40 C61.91,220.45 60.36,219.37 62.60,217.00 Z" fill="#62ad46" stroke="#000" stroke-width="1.4" stroke-linejoin="round"/>
<path d="M50,234.5 L55,233.5 L55.5,237.5 Z" fill="#000" stroke="#000" stroke-width="1.1" />
<path d="M53.2,241.8 L57,242.5 L53.8,246.6 Z" fill="#000" stroke="#000" stroke-width="1.1" />
<path d="M67,214.2 L72.5,213.6 L71,217.5 Z" fill="#000" stroke="#000" stroke-width="0.9" />
<circle cx="63.35" cy="220.99" r="0.50" fill="#fff" />
<circle cx="66.73" cy="236.14" r="0.50" fill="#fff" />
<circle cx="57.36" cy="230.71" r="0.50" fill="#fff" />
<circle cx="66.21" cy="221.31" r="0.50" fill="#fff" />
<circle cx="57.61" cy="225.14" r="0.50" fill="#fff" />
<circle cx="61.80" cy="223.28" r="0.50" fill="#fff" />
<circle cx="64.11" cy="232.37" r="0.50" fill="#fff" />
<circle cx="66.22" cy="234.86" r="0.50" fill="#fff" />
<circle cx="69.26" cy="237.40" r="0.50" fill="#fff" />
<circle cx="59.41" cy="228.22" r="0.50" fill="#fff" />
<circle cx="60.29" cy="225.08" r="0.50" fill="#fff" />
<circle cx="63.72" cy="231.03" r="0.50" fill="#fff" />
<circle cx="65.72" cy="222.27" r="0.50" fill="#fff" />
<circle cx="59.67" cy="230.87" r="0.50" fill="#fff" />
<circle cx="63.30" cy="229.29" r="0.50" fill="#fff" />
<circle cx="63.78" cy="226.82" r="0.50" fill="#fff" />
<circle cx="66.45" cy="232.95" r="0.50" fill="#fff" />
<circle cx="63.69" cy="227.30" r="0.50" fill="#fff" />
<circle cx="63.39" cy="216.03" r="0.50" fill="#fff" />
<circle cx="60.57" cy="231.21" r="0.50" fill="#fff" />
<circle cx="58.74" cy="232.10" r="0.50" fill="#fff" />
<circle cx="64.52" cy="223.42" r="0.50" fill="#fff" />
<path d="M85.90,226.50 C85.07,223.73 85.22,222.61 86.90,218.10 C88.58,213.59 88.81,212.72 92.20,209.60 C95.59,206.48 95.65,206.96 99.60,206.40 C103.55,205.84 105.85,206.35 107.00,207.50 C108.15,208.65 106.43,209.29 103.90,210.70 C101.37,212.11 100.06,210.83 97.50,212.80 C94.94,214.77 95.15,215.01 94.30,218.10 C93.45,221.19 93.71,221.01 94.30,224.40 C94.89,227.79 94.79,227.68 96.50,230.80 C98.21,233.92 100.17,234.45 100.70,236.10 C101.23,237.75 100.55,238.36 98.50,237.00 C96.45,235.64 95.27,233.27 93.00,231.00 C90.73,228.73 91.89,229.70 90.00,228.50 C88.11,227.30 86.73,229.27 85.90,226.50 Z" fill="#ecebfb" stroke="#000" stroke-width="1.5" stroke-linejoin="round"/>
<path d="M87.00,227.50 C86.58,226.33 87.50,223.83 88.50,223.00 C89.50,222.17 91.75,222.00 93.00,222.50 C94.25,223.00 95.58,224.83 96.00,226.00 C96.42,227.17 96.33,228.83 95.50,229.50 C94.67,230.17 92.42,230.33 91.00,230.00 C89.58,229.67 87.42,228.67 87.00,227.50 Z" fill="#9a98e4" />
<path d="M88.00,219.00 C88.75,217.67 90.58,212.83 92.50,211.00 C94.42,209.17 98.33,208.50 99.50,208.00" fill="none" stroke="#a9a7e6" stroke-width="1.6" />
<circle cx="86.20" cy="226.60" r="2.40" fill="#000" />
<circle cx="78.87" cy="225.59" r="0.50" fill="#6fb53b" />
<circle cx="82.07" cy="229.75" r="0.50" fill="#6fb53b" />
<circle cx="79.84" cy="223.17" r="0.50" fill="#6fb53b" />
<circle cx="79.35" cy="226.71" r="0.50" fill="#6fb53b" />
<circle cx="83.31" cy="228.32" r="0.50" fill="#6fb53b" />
<circle cx="76.75" cy="220.91" r="0.50" fill="#6fb53b" />
<circle cx="78.32" cy="223.67" r="0.50" fill="#6fb53b" />
<circle cx="75.00" cy="226.48" r="0.50" fill="#6fb53b" />
<circle cx="77.79" cy="227.47" r="0.50" fill="#6fb53b" />
<circle cx="82.35" cy="225.14" r="0.50" fill="#6fb53b" />
<circle cx="90.46" cy="225.55" r="0.50" fill="#6fb53b" />
<circle cx="84.96" cy="227.55" r="0.50" fill="#6fb53b" />
<circle cx="85.02" cy="216.31" r="0.50" fill="#6fb53b" />
<circle cx="76.62" cy="228.11" r="0.50" fill="#6fb53b" />
<circle cx="82.71" cy="237.51" r="0.50" fill="#6fb53b" />
<circle cx="81.45" cy="232.76" r="0.50" fill="#6fb53b" />
<circle cx="83.45" cy="231.26" r="0.50" fill="#6fb53b" />
<circle cx="82.30" cy="226.30" r="0.50" fill="#6fb53b" />
<circle cx="93.04" cy="216.61" r="0.45" fill="#7f8fe0" />
<circle cx="95.73" cy="216.91" r="0.45" fill="#7f8fe0" />
<circle cx="92.00" cy="232.60" r="0.45" fill="#7f8fe0" />
<circle cx="90.11" cy="222.10" r="0.45" fill="#7f8fe0" />
<circle cx="95.65" cy="222.13" r="0.45" fill="#7f8fe0" />
<circle cx="87.77" cy="223.29" r="0.45" fill="#7f8fe0" />
<circle cx="93.33" cy="225.55" r="0.45" fill="#7f8fe0" />
<circle cx="87.91" cy="230.76" r="0.45" fill="#7f8fe0" />
<circle cx="97.67" cy="222.09" r="0.45" fill="#7f8fe0" />
<circle cx="92.07" cy="219.86" r="0.45" fill="#7f8fe0" />
<circle cx="96.66" cy="218.48" r="0.45" fill="#7f8fe0" />
<circle cx="93.70" cy="219.60" r="0.45" fill="#7f8fe0" />
<path d="M101.70,237.10 C102.55,235.10 102.93,235.02 104.90,233.90 C106.87,232.78 106.83,232.90 109.10,232.90 C111.37,232.90 112.25,232.78 113.40,233.90 C114.55,235.02 114.25,235.69 113.40,237.10 C112.55,238.51 111.35,237.79 110.20,239.20 C109.05,240.61 110.51,241.25 109.10,242.40 C107.69,243.55 106.87,243.77 104.90,243.50 C102.93,243.23 102.55,243.11 101.70,241.40 C100.85,239.69 100.85,239.10 101.70,237.10 Z" fill="#b07cc6" stroke="#000" stroke-width="1.5" stroke-linejoin="round"/>
<path d="M181.00,181.50 C180.67,180.67 182.50,178.50 184.00,178.00 C185.50,177.50 188.17,178.00 190.00,178.50 C191.83,179.00 193.75,180.12 195.00,181.00 C196.25,181.88 198.00,183.30 197.50,183.80 C197.00,184.30 193.92,184.13 192.00,184.00 C190.08,183.87 187.83,183.42 186.00,183.00 C184.17,182.58 181.33,182.33 181.00,181.50 Z" fill="#c66fc0" stroke="#000" stroke-width="0.8" stroke-linejoin="round"/>
<path d="M178.00,181.00 C178.33,180.17 179.00,177.20 180.00,176.00 C181.00,174.80 182.33,174.05 184.00,173.80 C185.67,173.55 188.17,173.80 190.00,174.50 C191.83,175.20 193.67,176.62 195.00,178.00 C196.33,179.38 197.50,182.00 198.00,182.80" fill="none" stroke="#000" stroke-width="2.2" stroke-linecap="round"/>
<path d="M114.40,185.20 C114.80,180.91 114.90,181.38 118.50,178.50 C122.10,175.62 122.17,175.87 127.90,174.40 C133.63,172.93 133.89,172.79 140.00,173.00 C146.11,173.21 145.76,173.01 150.80,175.20 C155.84,177.39 155.81,177.81 158.90,181.20 C161.99,184.59 161.12,183.95 162.40,187.90 C163.68,191.85 163.06,192.05 163.70,196.00 C164.34,199.95 163.57,199.13 164.80,202.70 C166.03,206.27 167.18,206.17 168.30,209.40 C169.42,212.63 169.72,212.51 169.00,214.80 C168.28,217.09 168.67,217.07 165.60,218.00 C162.53,218.93 161.13,219.15 157.50,218.30 C153.87,217.45 154.53,217.55 152.00,214.80 C149.47,212.05 151.55,210.88 148.00,208.00 C144.45,205.12 144.43,206.13 138.70,204.00 C132.97,201.87 132.29,202.51 126.50,200.00 C120.71,197.49 120.23,198.55 117.00,194.60 C113.77,190.65 114.00,189.49 114.40,185.20 Z" fill="#c98a1e" stroke="#3f7bd3" stroke-width="2.4" stroke-linejoin="round"/>
<clipPath id="cllclip"><path d="M114.40,185.20 C114.80,180.91 114.90,181.38 118.50,178.50 C122.10,175.62 122.17,175.87 127.90,174.40 C133.63,172.93 133.89,172.79 140.00,173.00 C146.11,173.21 145.76,173.01 150.80,175.20 C155.84,177.39 155.81,177.81 158.90,181.20 C161.99,184.59 161.12,183.95 162.40,187.90 C163.68,191.85 163.06,192.05 163.70,196.00 C164.34,199.95 163.57,199.13 164.80,202.70 C166.03,206.27 167.18,206.17 168.30,209.40 C169.42,212.63 169.72,212.51 169.00,214.80 C168.28,217.09 168.67,217.07 165.60,218.00 C162.53,218.93 161.13,219.15 157.50,218.30 C153.87,217.45 154.53,217.55 152.00,214.80 C149.47,212.05 151.55,210.88 148.00,208.00 C144.45,205.12 144.43,206.13 138.70,204.00 C132.97,201.87 132.29,202.51 126.50,200.00 C120.71,197.49 120.23,198.55 117.00,194.60 C113.77,190.65 114.00,189.49 114.40,185.20 Z"/></clipPath><g clip-path="url(#cllclip)"><path d="M149.00,206.00 C149.67,204.00 151.83,202.75 154.00,202.00 C156.17,201.25 159.33,200.83 162.00,201.50 C164.67,202.17 168.50,203.58 170.00,206.00 C171.50,208.42 171.67,213.67 171.00,216.00 C170.33,218.33 168.50,219.33 166.00,220.00 C163.50,220.67 158.67,221.00 156.00,220.00 C153.33,219.00 151.17,216.33 150.00,214.00 C148.83,211.67 148.33,208.00 149.00,206.00 Z" fill="#5f9fe0" />
<circle cx="153.22" cy="209.66" r="0.55" fill="#fff" />
<circle cx="161.34" cy="207.47" r="0.55" fill="#fff" />
<circle cx="153.29" cy="209.93" r="0.55" fill="#fff" />
<circle cx="155.80" cy="208.43" r="0.55" fill="#fff" />
<circle cx="162.09" cy="210.89" r="0.55" fill="#fff" />
<circle cx="153.92" cy="214.35" r="0.55" fill="#fff" />
<circle cx="156.01" cy="209.86" r="0.55" fill="#fff" />
<circle cx="153.41" cy="207.37" r="0.55" fill="#fff" />
<circle cx="149.00" cy="212.86" r="0.55" fill="#fff" />
<circle cx="161.46" cy="203.85" r="0.55" fill="#fff" />
<circle cx="149.98" cy="202.64" r="0.55" fill="#fff" />
<circle cx="160.70" cy="206.12" r="0.55" fill="#fff" />
<circle cx="155.76" cy="206.56" r="0.55" fill="#fff" />
<circle cx="155.52" cy="204.24" r="0.55" fill="#fff" />
<circle cx="156.10" cy="203.19" r="0.55" fill="#fff" />
<circle cx="155.71" cy="208.43" r="0.55" fill="#fff" />
<circle cx="157.87" cy="206.80" r="0.55" fill="#fff" />
<circle cx="152.39" cy="207.98" r="0.55" fill="#fff" />
<circle cx="154.06" cy="212.20" r="0.55" fill="#fff" />
<circle cx="159.07" cy="207.15" r="0.55" fill="#fff" />
<circle cx="154.12" cy="205.39" r="0.55" fill="#fff" />
<circle cx="152.25" cy="206.44" r="0.55" fill="#fff" />
<circle cx="157.18" cy="209.05" r="0.55" fill="#fff" />
<circle cx="158.28" cy="213.80" r="0.55" fill="#fff" />
<circle cx="153.18" cy="207.54" r="0.55" fill="#fff" />
<circle cx="167.18" cy="201.90" r="0.55" fill="#fff" />
<circle cx="153.91" cy="208.01" r="0.55" fill="#fff" />
<circle cx="156.62" cy="208.72" r="0.55" fill="#fff" />
<circle cx="155.05" cy="208.60" r="0.55" fill="#fff" />
<circle cx="156.21" cy="209.81" r="0.55" fill="#fff" />
<circle cx="148.43" cy="204.84" r="0.55" fill="#fff" />
<circle cx="155.99" cy="204.40" r="0.55" fill="#fff" />
<circle cx="151.82" cy="209.38" r="0.55" fill="#fff" />
<circle cx="153.40" cy="209.40" r="0.55" fill="#fff" />
<circle cx="158.98" cy="208.42" r="0.55" fill="#fff" />
<circle cx="158.03" cy="207.19" r="0.55" fill="#fff" />
<circle cx="150.36" cy="207.41" r="0.55" fill="#fff" />
<circle cx="157.82" cy="205.91" r="0.55" fill="#fff" />
<circle cx="155.60" cy="209.75" r="0.55" fill="#fff" />
<circle cx="152.49" cy="209.42" r="0.55" fill="#fff" />
<circle cx="163.45" cy="205.84" r="0.55" fill="#fff" />
<circle cx="156.59" cy="207.05" r="0.55" fill="#fff" />
<circle cx="162.16" cy="208.45" r="0.55" fill="#fff" />
<circle cx="159.59" cy="205.43" r="0.55" fill="#fff" />
<circle cx="155.94" cy="207.47" r="0.55" fill="#fff" />
<circle cx="148.90" cy="211.82" r="0.55" fill="#fff" />
<circle cx="159.60" cy="202.25" r="0.55" fill="#fff" />
<circle cx="158.98" cy="207.11" r="0.55" fill="#fff" />
<circle cx="157.79" cy="208.60" r="0.55" fill="#fff" />
<circle cx="150.00" cy="206.86" r="0.55" fill="#fff" />
<circle cx="161.97" cy="205.78" r="0.55" fill="#fff" />
<circle cx="151.91" cy="203.42" r="0.55" fill="#fff" />
<circle cx="151.12" cy="208.51" r="0.55" fill="#fff" />
<circle cx="162.77" cy="208.79" r="0.55" fill="#fff" />
<circle cx="156.98" cy="214.20" r="0.55" fill="#fff" />
<circle cx="153.92" cy="205.48" r="0.55" fill="#fff" />
<circle cx="158.11" cy="209.15" r="0.55" fill="#fff" />
<circle cx="151.94" cy="203.99" r="0.55" fill="#fff" />
<circle cx="157.16" cy="208.24" r="0.55" fill="#fff" />
<circle cx="150.77" cy="206.89" r="0.55" fill="#fff" />
<circle cx="153.83" cy="208.88" r="0.55" fill="#fff" />
<circle cx="155.53" cy="207.24" r="0.55" fill="#fff" />
<circle cx="154.59" cy="210.66" r="0.55" fill="#fff" />
<circle cx="161.56" cy="206.40" r="0.55" fill="#fff" />
<circle cx="159.38" cy="205.23" r="0.55" fill="#fff" />
<circle cx="156.29" cy="209.75" r="0.55" fill="#fff" />
<circle cx="162.06" cy="206.35" r="0.55" fill="#fff" />
<circle cx="155.70" cy="208.09" r="0.55" fill="#fff" />
<circle cx="150.01" cy="207.55" r="0.55" fill="#fff" />
<circle cx="153.30" cy="208.61" r="0.55" fill="#fff" />
<circle cx="151.48" cy="201.57" r="0.55" fill="#fff" />
<circle cx="156.15" cy="208.28" r="0.55" fill="#fff" />
<circle cx="153.80" cy="210.17" r="0.55" fill="#fff" />
<circle cx="154.91" cy="205.68" r="0.55" fill="#fff" />
<circle cx="157.91" cy="202.80" r="0.55" fill="#fff" />
<circle cx="153.29" cy="207.44" r="0.55" fill="#fff" />
<circle cx="159.40" cy="207.01" r="0.55" fill="#fff" />
<circle cx="157.23" cy="205.53" r="0.55" fill="#fff" />
<circle cx="157.21" cy="212.49" r="0.55" fill="#fff" />
<circle cx="153.25" cy="214.60" r="0.55" fill="#fff" />
<circle cx="153.42" cy="207.55" r="0.55" fill="#fff" />
<circle cx="156.69" cy="210.57" r="0.55" fill="#fff" />
<circle cx="151.05" cy="201.20" r="0.55" fill="#fff" />
<circle cx="158.42" cy="209.89" r="0.55" fill="#fff" />
<circle cx="158.49" cy="215.39" r="0.55" fill="#fff" />
<circle cx="156.82" cy="208.26" r="0.55" fill="#fff" />
<circle cx="159.72" cy="208.61" r="0.55" fill="#fff" />
<circle cx="162.65" cy="203.79" r="0.55" fill="#fff" />
<circle cx="154.50" cy="197.17" r="0.55" fill="#fff" />
<circle cx="159.25" cy="206.38" r="0.55" fill="#fff" />
</g>
<path d="M114.40,185.20 C114.80,180.91 114.90,181.38 118.50,178.50 C122.10,175.62 122.17,175.87 127.90,174.40 C133.63,172.93 133.89,172.79 140.00,173.00 C146.11,173.21 145.76,173.01 150.80,175.20 C155.84,177.39 155.81,177.81 158.90,181.20 C161.99,184.59 161.12,183.95 162.40,187.90 C163.68,191.85 163.06,192.05 163.70,196.00 C164.34,199.95 163.57,199.13 164.80,202.70 C166.03,206.27 167.18,206.17 168.30,209.40 C169.42,212.63 169.72,212.51 169.00,214.80 C168.28,217.09 168.67,217.07 165.60,218.00 C162.53,218.93 161.13,219.15 157.50,218.30 C153.87,217.45 154.53,217.55 152.00,214.80 C149.47,212.05 151.55,210.88 148.00,208.00 C144.45,205.12 144.43,206.13 138.70,204.00 C132.97,201.87 132.29,202.51 126.50,200.00 C120.71,197.49 120.23,198.55 117.00,194.60 C113.77,190.65 114.00,189.49 114.40,185.20 Z" fill="none" stroke="#3f7bd3" stroke-width="2.4" stroke-linejoin="round"/>
<path d="M164.80,194.60 C164.29,190.65 164.40,191.71 166.40,189.20 C168.40,186.69 167.87,186.64 172.30,185.20 C176.73,183.76 177.24,183.80 183.00,183.80 C188.76,183.80 189.58,183.89 193.90,185.20 C198.22,186.51 196.69,188.35 199.20,188.70 C201.71,189.05 199.70,187.94 203.30,186.50 C206.90,185.06 207.69,183.86 212.70,183.30 C217.71,182.74 218.15,182.83 222.10,184.40 C226.05,185.97 225.55,185.76 227.50,189.20 C229.45,192.64 227.61,193.35 229.40,197.30 C231.19,201.25 231.83,200.05 234.20,204.00 C236.57,207.95 237.42,207.78 238.30,212.10 C239.18,216.42 239.31,216.81 237.50,220.20 C235.69,223.59 236.67,223.15 231.50,224.80 C226.33,226.45 225.27,225.84 218.10,226.40 C210.93,226.96 210.36,227.33 204.60,226.90 C198.84,226.47 199.73,226.96 196.50,224.80 C193.27,222.64 193.78,222.19 192.50,218.80 C191.22,215.41 193.49,214.61 191.70,212.10 C189.91,209.59 190.25,210.47 185.80,209.40 C181.35,208.33 179.67,209.54 175.00,208.10 C170.33,206.66 171.02,207.60 168.30,204.00 C165.58,200.40 165.31,198.55 164.80,194.60 Z" fill="#e0767a" stroke="#b01f24" stroke-width="2.4" stroke-linejoin="round"/>
<clipPath id="rtclip"><path d="M164.80,194.60 C164.29,190.65 164.40,191.71 166.40,189.20 C168.40,186.69 167.87,186.64 172.30,185.20 C176.73,183.76 177.24,183.80 183.00,183.80 C188.76,183.80 189.58,183.89 193.90,185.20 C198.22,186.51 196.69,188.35 199.20,188.70 C201.71,189.05 199.70,187.94 203.30,186.50 C206.90,185.06 207.69,183.86 212.70,183.30 C217.71,182.74 218.15,182.83 222.10,184.40 C226.05,185.97 225.55,185.76 227.50,189.20 C229.45,192.64 227.61,193.35 229.40,197.30 C231.19,201.25 231.83,200.05 234.20,204.00 C236.57,207.95 237.42,207.78 238.30,212.10 C239.18,216.42 239.31,216.81 237.50,220.20 C235.69,223.59 236.67,223.15 231.50,224.80 C226.33,226.45 225.27,225.84 218.10,226.40 C210.93,226.96 210.36,227.33 204.60,226.90 C198.84,226.47 199.73,226.96 196.50,224.80 C193.27,222.64 193.78,222.19 192.50,218.80 C191.22,215.41 193.49,214.61 191.70,212.10 C189.91,209.59 190.25,210.47 185.80,209.40 C181.35,208.33 179.67,209.54 175.00,208.10 C170.33,206.66 171.02,207.60 168.30,204.00 C165.58,200.40 165.31,198.55 164.80,194.60 Z"/></clipPath><g clip-path="url(#rtclip)"><path d="M163.00,190.00 C164.50,187.67 168.83,185.00 172.00,184.00 C175.17,183.00 179.58,183.17 182.00,184.00 C184.42,184.83 185.83,186.67 186.50,189.00 C187.17,191.33 186.58,195.42 186.00,198.00 C185.42,200.58 184.67,203.00 183.00,204.50 C181.33,206.00 178.50,206.75 176.00,207.00 C173.50,207.25 170.17,207.50 168.00,206.00 C165.83,204.50 163.83,200.67 163.00,198.00 C162.17,195.33 161.50,192.33 163.00,190.00 Z" fill="#55b59a" />
<path d="M221.00,213.00 C222.67,211.00 225.50,209.00 228.00,208.00 C230.50,207.00 233.67,206.00 236.00,207.00 C238.33,208.00 241.33,210.83 242.00,214.00 C242.67,217.17 242.67,223.33 240.00,226.00 C237.33,228.67 229.67,229.67 226.00,230.00 C222.33,230.33 219.33,229.67 218.00,228.00 C216.67,226.33 217.50,222.50 218.00,220.00 C218.50,217.50 219.33,215.00 221.00,213.00 Z" fill="#c9a227" />
<path d="M191.00,217.00 C192.00,215.92 194.50,216.67 196.00,217.50 C197.50,218.33 199.33,220.25 200.00,222.00 C200.67,223.75 201.00,226.83 200.00,228.00 C199.00,229.17 195.67,229.67 194.00,229.00 C192.33,228.33 190.50,226.00 190.00,224.00 C189.50,222.00 190.00,218.08 191.00,217.00 Z" fill="#cf5fa6" />
<circle cx="216.09" cy="223.23" r="0.50" fill="#e8a0a2" />
<circle cx="204.93" cy="203.96" r="0.50" fill="#e8a0a2" />
<circle cx="199.01" cy="199.30" r="0.50" fill="#e8a0a2" />
<circle cx="197.44" cy="211.11" r="0.50" fill="#e8a0a2" />
<circle cx="205.44" cy="206.53" r="0.50" fill="#e8a0a2" />
<circle cx="202.92" cy="213.31" r="0.50" fill="#e8a0a2" />
<circle cx="210.93" cy="204.87" r="0.50" fill="#e8a0a2" />
<circle cx="212.98" cy="204.79" r="0.50" fill="#e8a0a2" />
<circle cx="191.17" cy="217.64" r="0.50" fill="#e8a0a2" />
<circle cx="210.58" cy="198.34" r="0.50" fill="#e8a0a2" />
<circle cx="217.95" cy="208.76" r="0.50" fill="#e8a0a2" />
<circle cx="186.23" cy="218.88" r="0.50" fill="#e8a0a2" />
<circle cx="209.00" cy="213.13" r="0.50" fill="#e8a0a2" />
<circle cx="207.37" cy="204.80" r="0.50" fill="#e8a0a2" />
<circle cx="186.42" cy="213.77" r="0.50" fill="#e8a0a2" />
<circle cx="205.36" cy="203.71" r="0.50" fill="#e8a0a2" />
<circle cx="209.21" cy="206.62" r="0.50" fill="#e8a0a2" />
<circle cx="213.11" cy="203.03" r="0.50" fill="#e8a0a2" />
<circle cx="204.56" cy="188.89" r="0.50" fill="#e8a0a2" />
<circle cx="199.92" cy="211.41" r="0.50" fill="#e8a0a2" />
<circle cx="221.04" cy="203.09" r="0.50" fill="#e8a0a2" />
<circle cx="203.54" cy="218.67" r="0.50" fill="#e8a0a2" />
<circle cx="201.09" cy="211.87" r="0.50" fill="#e8a0a2" />
<circle cx="225.14" cy="206.32" r="0.50" fill="#e8a0a2" />
<circle cx="219.72" cy="200.32" r="0.50" fill="#e8a0a2" />
<circle cx="207.49" cy="205.38" r="0.50" fill="#e8a0a2" />
<circle cx="206.38" cy="215.04" r="0.50" fill="#e8a0a2" />
<circle cx="233.68" cy="200.68" r="0.50" fill="#e8a0a2" />
<circle cx="198.10" cy="209.98" r="0.50" fill="#e8a0a2" />
<circle cx="192.34" cy="209.98" r="0.50" fill="#e8a0a2" />
<circle cx="211.86" cy="203.78" r="0.50" fill="#e8a0a2" />
<circle cx="211.37" cy="193.61" r="0.50" fill="#e8a0a2" />
<circle cx="214.12" cy="193.64" r="0.50" fill="#e8a0a2" />
<circle cx="196.64" cy="201.55" r="0.50" fill="#e8a0a2" />
<circle cx="200.19" cy="212.87" r="0.50" fill="#e8a0a2" />
<circle cx="205.98" cy="202.82" r="0.50" fill="#e8a0a2" />
<circle cx="211.52" cy="218.65" r="0.50" fill="#e8a0a2" />
<circle cx="205.07" cy="208.93" r="0.50" fill="#e8a0a2" />
<circle cx="219.88" cy="208.14" r="0.50" fill="#e8a0a2" />
<circle cx="189.59" cy="225.92" r="0.50" fill="#e8a0a2" />
<circle cx="191.04" cy="188.08" r="0.45" fill="#e0853f" />
<circle cx="179.80" cy="200.09" r="0.45" fill="#e0853f" />
<circle cx="184.83" cy="201.35" r="0.45" fill="#e0853f" />
<circle cx="178.64" cy="192.73" r="0.45" fill="#e0853f" />
<circle cx="180.51" cy="203.17" r="0.45" fill="#e0853f" />
<circle cx="174.55" cy="192.86" r="0.45" fill="#e0853f" />
<circle cx="179.88" cy="188.31" r="0.45" fill="#e0853f" />
<circle cx="178.70" cy="195.82" r="0.45" fill="#e0853f" />
<circle cx="182.25" cy="194.49" r="0.45" fill="#e0853f" />
<circle cx="175.59" cy="196.03" r="0.45" fill="#e0853f" />
<circle cx="179.75" cy="194.68" r="0.45" fill="#e0853f" />
<circle cx="180.06" cy="201.75" r="0.45" fill="#e0853f" />
<circle cx="185.93" cy="206.52" r="0.45" fill="#e0853f" />
<circle cx="176.08" cy="195.90" r="0.45" fill="#e0853f" />
<circle cx="167.59" cy="207.50" r="0.45" fill="#e0853f" />
<circle cx="176.38" cy="197.83" r="0.45" fill="#e0853f" />
<circle cx="182.61" cy="191.21" r="0.45" fill="#e0853f" />
<circle cx="182.32" cy="197.87" r="0.45" fill="#e0853f" />
<circle cx="216.87" cy="215.46" r="0.45" fill="#e0767a" />
<circle cx="231.97" cy="204.66" r="0.45" fill="#e0767a" />
<circle cx="230.04" cy="215.05" r="0.45" fill="#e0767a" />
<circle cx="228.37" cy="216.21" r="0.45" fill="#e0767a" />
<circle cx="232.52" cy="212.88" r="0.45" fill="#e0767a" />
<circle cx="230.37" cy="211.95" r="0.45" fill="#e0767a" />
<circle cx="229.64" cy="209.93" r="0.45" fill="#e0767a" />
<circle cx="225.46" cy="222.66" r="0.45" fill="#e0767a" />
<circle cx="228.23" cy="213.21" r="0.45" fill="#e0767a" />
<circle cx="220.28" cy="210.05" r="0.45" fill="#e0767a" />
<circle cx="226.97" cy="218.70" r="0.45" fill="#e0767a" />
<circle cx="228.13" cy="216.62" r="0.45" fill="#e0767a" />
<circle cx="225.79" cy="220.76" r="0.45" fill="#e0767a" />
<circle cx="224.05" cy="211.25" r="0.45" fill="#e0767a" />
</g>
<path d="M164.80,194.60 C164.29,190.65 164.40,191.71 166.40,189.20 C168.40,186.69 167.87,186.64 172.30,185.20 C176.73,183.76 177.24,183.80 183.00,183.80 C188.76,183.80 189.58,183.89 193.90,185.20 C198.22,186.51 196.69,188.35 199.20,188.70 C201.71,189.05 199.70,187.94 203.30,186.50 C206.90,185.06 207.69,183.86 212.70,183.30 C217.71,182.74 218.15,182.83 222.10,184.40 C226.05,185.97 225.55,185.76 227.50,189.20 C229.45,192.64 227.61,193.35 229.40,197.30 C231.19,201.25 231.83,200.05 234.20,204.00 C236.57,207.95 237.42,207.78 238.30,212.10 C239.18,216.42 239.31,216.81 237.50,220.20 C235.69,223.59 236.67,223.15 231.50,224.80 C226.33,226.45 225.27,225.84 218.10,226.40 C210.93,226.96 210.36,227.33 204.60,226.90 C198.84,226.47 199.73,226.96 196.50,224.80 C193.27,222.64 193.78,222.19 192.50,218.80 C191.22,215.41 193.49,214.61 191.70,212.10 C189.91,209.59 190.25,210.47 185.80,209.40 C181.35,208.33 179.67,209.54 175.00,208.10 C170.33,206.66 171.02,207.60 168.30,204.00 C165.58,200.40 165.31,198.55 164.80,194.60 Z" fill="none" stroke="#b01f24" stroke-width="2.4" stroke-linejoin="round"/>
<circle cx="116.11" cy="199.11" r="0.50" fill="#e0853f" />
<circle cx="112.03" cy="197.96" r="0.50" fill="#e0853f" />
<circle cx="112.10" cy="200.12" r="0.50" fill="#e0853f" />
<circle cx="114.24" cy="196.82" r="0.50" fill="#e0853f" />
<circle cx="114.49" cy="199.32" r="0.50" fill="#e0853f" />
<circle cx="109.50" cy="200.39" r="0.50" fill="#e0853f" />
<circle cx="112.02" cy="198.40" r="0.50" fill="#e0853f" />
<circle cx="115.79" cy="201.38" r="0.50" fill="#e0853f" />
<circle cx="110.59" cy="199.79" r="0.50" fill="#e0853f" />
<circle cx="109.93" cy="203.17" r="0.50" fill="#e0853f" />
<circle cx="111.27" cy="201.15" r="0.50" fill="#e0853f" />
<circle cx="110.73" cy="200.46" r="0.50" fill="#e0853f" />
<circle cx="120.77" cy="194.43" r="0.50" fill="#e0853f" />
<circle cx="111.48" cy="199.90" r="0.50" fill="#e0853f" />
<circle cx="169.54" cy="177.99" r="0.50" fill="#e0853f" />
<circle cx="180.76" cy="180.24" r="0.50" fill="#e0853f" />
<circle cx="161.78" cy="182.56" r="0.50" fill="#e0853f" />
<circle cx="161.39" cy="183.45" r="0.50" fill="#e0853f" />
<circle cx="167.11" cy="180.43" r="0.50" fill="#e0853f" />
<circle cx="176.30" cy="180.35" r="0.50" fill="#e0853f" />
<circle cx="163.04" cy="174.91" r="0.50" fill="#e0853f" />
<circle cx="175.91" cy="182.22" r="0.50" fill="#e0853f" />
<circle cx="165.92" cy="182.58" r="0.50" fill="#e0853f" />
<circle cx="172.48" cy="181.94" r="0.50" fill="#e0853f" />
<circle cx="158.71" cy="179.09" r="0.50" fill="#e0853f" />
<circle cx="174.50" cy="182.20" r="0.50" fill="#e0853f" />
<text x="49.90" y="135.20" font-size="6.1" text-anchor="middle" fill="#231f20">Neutrophils</text>
<line x1="49.90" y1="136.40" x2="40.40" y2="141.90" stroke="#000" stroke-width="0.5" />
<line x1="49.90" y1="136.40" x2="56.30" y2="141.90" stroke="#000" stroke-width="0.5" />
<text x="100.00" y="176.30" font-size="6.1" text-anchor="middle" fill="#231f20">CMP</text>
<line x1="98.60" y1="177.90" x2="91.20" y2="192.70" stroke="#000" stroke-width="0.5" />
<text x="78.00" y="252.00" font-size="6.1" text-anchor="middle" fill="#231f20">Macrophages</text>
<line x1="78.50" y1="246.00" x2="67.90" y2="232.90" stroke="#000" stroke-width="0.5" />
<line x1="78.50" y1="246.00" x2="88.00" y2="230.80" stroke="#000" stroke-width="0.5" />
<text x="119.00" y="245.70" font-size="6.1" fill="#231f20">Dendritic</text>
<text x="126.50" y="253.50" font-size="6.1" fill="#231f20">Cells</text>
<line x1="118.50" y1="243.50" x2="112.50" y2="238.50" stroke="#000" stroke-width="0.5" />
<text x="125.30" y="103.60" font-size="6.1" fill="#231f20">NK cells</text>
<text x="200.50" y="96.00" font-size="6.1" text-anchor="middle" font-style="italic" fill="#231f20">Cd8</text>
<text x="206.80" y="93.50" font-size="3.4" fill="#231f20">+</text>
<text x="202.50" y="103.60" font-size="6.1" text-anchor="middle" fill="#231f20">NK cells</text>
<line x1="195.00" y1="105.50" x2="170.00" y2="118.00" stroke="#000" stroke-width="0.5" />
<line x1="195.00" y1="105.50" x2="198.00" y2="113.50" stroke="#000" stroke-width="0.5" />
<text x="216.30" y="111.80" font-size="6.1" fill="#231f20">NKT cells</text>
<line x1="216.00" y1="111.00" x2="191.50" y2="126.00" stroke="#000" stroke-width="0.5" />
<text x="229.50" y="139.30" font-size="6.1" font-style="italic" fill="#231f20">Cd4</text>
<text x="240.50" y="136.80" font-size="3.4" fill="#231f20">+</text>
<text x="227.50" y="146.20" font-size="6.1" fill="#231f20">T cells</text>
<line x1="227.50" y1="140.00" x2="210.00" y2="131.00" stroke="#000" stroke-width="0.5" />
<text x="204.50" y="162.30" font-size="6.1" font-style="italic" fill="#231f20">Cd8</text>
<text x="215.50" y="159.80" font-size="3.4" fill="#231f20">+</text>
<text x="202.00" y="169.20" font-size="6.1" fill="#231f20">T cells</text>
<line x1="202.50" y1="160.50" x2="178.80" y2="145.50" stroke="#000" stroke-width="0.5" />
<line x1="202.50" y1="160.50" x2="150.00" y2="162.00" stroke="#000" stroke-width="0.5" />
<text x="170.50" y="239.50" font-size="6.1" fill="#231f20">B cells</text>
<line x1="178.20" y1="232.30" x2="168.30" y2="218.80" stroke="#000" stroke-width="0.5" />
<line x1="178.20" y1="232.30" x2="195.20" y2="225.60" stroke="#000" stroke-width="0.5" />
<text x="135.40" y="192.00" font-size="6.2" fill="#231f20" textLength="22.00" lengthAdjust="spacingAndGlyphs">Eµ-<tspan font-style="italic">TCL1</tspan></text>
<text x="134.60" y="199.50" font-size="6.2" fill="#231f20" textLength="21.60" lengthAdjust="spacingAndGlyphs">enriched</text>
<text x="181.20" y="200.00" font-size="6.2" fill="#231f20" textLength="31.50" lengthAdjust="spacingAndGlyphs">Eµ-<tspan font-style="italic">TCL1</tspan><tspan font-size="3.4" dy="-2.6" font-style="italic">Akt-C</tspan></text>
<text x="175.50" y="207.00" font-size="6.2" fill="#231f20" textLength="44.00" lengthAdjust="spacingAndGlyphs">enriched/shared</text>
<text x="117.30" y="129.00" font-size="3.1" fill="#222">CLP-C1</text>
<text x="34.50" y="146.50" font-size="3.1" fill="#222">NB-C1</text>
<text x="61.00" y="146.50" font-size="3.1" fill="#222">NB-C2</text>
<text x="62.30" y="231.80" font-size="3.1" fill="#222">MB-C1</text>
<text x="87.00" y="228.20" font-size="3.1" fill="#222">MB-C2</text>
<text x="157.00" y="127.00" font-size="3.1" fill="#222">Cd8-NK-C1</text>
<text x="185.00" y="118.20" font-size="3.1" fill="#222">Cd8-NK-C2</text>
<text x="166.70" y="143.60" font-size="3.1" fill="#222">Cd8-T-C1</text>
<text x="128.80" y="166.80" font-size="3.1" fill="#222">Cd8-T-C2</text>
<text x="171.00" y="172.00" font-size="3.1" fill="#222">CLP-C2</text>
<text x="119.80" y="183.50" font-size="3.1" fill="#fff">CLL-C1</text>
<text x="156.20" y="214.00" font-size="3.1" fill="#fff">CLL-C2</text>
<text x="174.50" y="193.80" font-size="3.1" fill="#fff">RT-C3</text>
<text x="210.00" y="188.00" font-size="3.1" fill="#fff">RT-C4</text>
<text x="216.70" y="200.50" font-size="3.1" fill="#fff">RT-C1</text>
<text x="223.50" y="219.80" font-size="3.1" fill="#fff">RT-C2</text>
<text x="196.50" y="222.60" font-size="3.1" fill="#fff">RT-C5</text>
</g>
<g id="panel_b">
<text x="261.50" y="19.30" font-size="13.5" font-weight="bold" fill="#000">B</text>
<text x="404.80" y="12.20" font-size="5.1" text-anchor="middle" fill="#231f20" textLength="60.00" lengthAdjust="spacingAndGlyphs">Log<tspan font-size="2.8" dy="1">2</tspan><tspan dy="-1"> cell number/genotype</tspan></text>
<circle cx="391.70" cy="17.80" r="2.10" fill="#000" />
<text x="393.10" y="22.60" font-size="3.3" text-anchor="end" fill="#222" transform="rotate(-55 393.10 22.60)">250</text>
<circle cx="397.20" cy="17.80" r="2.40" fill="#000" />
<text x="398.60" y="22.60" font-size="3.3" text-anchor="end" fill="#222" transform="rotate(-55 398.60 22.60)">500</text>
<circle cx="403.30" cy="17.80" r="2.80" fill="#000" />
<text x="404.70" y="22.60" font-size="3.3" text-anchor="end" fill="#222" transform="rotate(-55 404.70 22.60)">1000</text>
<circle cx="409.80" cy="17.80" r="3.10" fill="#000" />
<text x="411.20" y="22.60" font-size="3.3" text-anchor="end" fill="#222" transform="rotate(-55 411.20 22.60)">2000</text>
<circle cx="416.60" cy="17.80" r="3.50" fill="#000" />
<text x="418.00" y="22.60" font-size="3.3" text-anchor="end" fill="#222" transform="rotate(-55 418.00 22.60)">4000</text>
<line x1="298.70" y1="28.50" x2="298.70" y2="62.90" stroke="#000" stroke-width="1.1" />
<line x1="298.20" y1="62.35" x2="504.00" y2="62.35" stroke="#000" stroke-width="1.1" />
<text x="295.60" y="35.00" font-size="5.0" text-anchor="end" fill="#333">Eµ-<tspan font-style="italic">TCL1</tspan><tspan font-size="2.8" dy="-2" font-style="italic">Akt-C</tspan></text>
<text x="295.20" y="47.50" font-size="5.0" text-anchor="end" fill="#333">Eµ-<tspan font-style="italic">TCL1</tspan></text>
<text x="295.20" y="59.00" font-size="5.0" text-anchor="end" font-style="italic" fill="#333">Cd19-Cre</text>
<circle cx="304.90" cy="34.30" r="3.36" fill="#b5122f" />
<circle cx="304.90" cy="45.90" r="3.16" fill="#284887" stroke="#1c3870" stroke-width="0.5" />
<circle cx="304.90" cy="57.50" r="2.49" fill="#454b63" stroke="#2a2f45" stroke-width="0.5" />
<rect x="301.40" y="64.80" width="7.00" height="4.60" fill="#e0736c" rx="0.6"/>
<circle cx="314.08" cy="34.30" r="3.14" fill="#b5122f" />
<circle cx="314.08" cy="45.90" r="2.60" fill="#284887" stroke="#1c3870" stroke-width="0.5" />
<circle cx="314.08" cy="57.50" r="1.14" fill="#454b63" stroke="#2a2f45" stroke-width="0.5" />
<rect x="310.58" y="64.80" width="7.00" height="4.60" fill="#c9a227" rx="0.6"/>
<circle cx="323.26" cy="34.30" r="2.69" fill="#b5122f" />
<circle cx="323.26" cy="45.90" r="2.71" fill="#284887" stroke="#1c3870" stroke-width="0.5" />
<circle cx="323.26" cy="57.50" r="1.37" fill="#454b63" stroke="#2a2f45" stroke-width="0.5" />
<rect x="319.76" y="64.80" width="7.00" height="4.60" fill="#5cb89a" rx="0.6"/>
<circle cx="332.44" cy="34.30" r="2.46" fill="#b5122f" />
<circle cx="332.44" cy="45.90" r="0.14" fill="#284887" stroke="#1c3870" stroke-width="0.5" />
<rect x="328.94" y="64.80" width="7.00" height="4.60" fill="#b57cc4" rx="0.6"/>
<circle cx="341.62" cy="34.30" r="1.57" fill="#b5122f" />
<circle cx="341.62" cy="45.90" r="1.59" fill="#284887" stroke="#1c3870" stroke-width="0.5" />
<rect x="338.12" y="64.80" width="7.00" height="4.60" fill="#e06bb2" rx="0.6"/>
<circle cx="350.80" cy="34.30" r="3.14" fill="#b5122f" />
<circle cx="350.80" cy="45.90" r="3.27" fill="#284887" stroke="#1c3870" stroke-width="0.5" />
<circle cx="350.80" cy="57.50" r="1.82" fill="#454b63" stroke="#2a2f45" stroke-width="0.5" />
<rect x="347.30" y="64.80" width="7.00" height="4.60" fill="#d9951e" rx="0.6"/>
<circle cx="359.98" cy="34.30" r="1.79" fill="#b5122f" />
<circle cx="359.98" cy="45.90" r="2.71" fill="#284887" stroke="#1c3870" stroke-width="0.5" />
<circle cx="359.98" cy="57.50" r="1.59" fill="#454b63" stroke="#2a2f45" stroke-width="0.5" />
<rect x="356.48" y="64.80" width="7.00" height="4.60" fill="#5aaef0" rx="0.6"/>
<circle cx="369.16" cy="34.30" r="3.14" fill="#b5122f" />
<circle cx="369.16" cy="45.90" r="1.93" fill="#284887" stroke="#1c3870" stroke-width="0.5" />
<circle cx="369.16" cy="57.50" r="3.16" fill="#454b63" stroke="#2a2f45" stroke-width="0.5" />
<rect x="365.66" y="64.80" width="7.00" height="4.60" fill="#b5b02a" rx="0.6"/>
<circle cx="378.34" cy="34.30" r="2.24" fill="#b5122f" />
<circle cx="378.34" cy="45.90" r="1.59" fill="#284887" stroke="#1c3870" stroke-width="0.5" />
<circle cx="378.34" cy="57.50" r="3.38" fill="#454b63" stroke="#2a2f45" stroke-width="0.5" />
<rect x="374.84" y="64.80" width="7.00" height="4.60" fill="#e8863a" rx="0.6"/>
<circle cx="387.52" cy="34.30" r="2.02" fill="#b5122f" />
<circle cx="387.52" cy="45.90" r="1.59" fill="#284887" stroke="#1c3870" stroke-width="0.5" />
<circle cx="387.52" cy="57.50" r="1.26" fill="#454b63" stroke="#2a2f45" stroke-width="0.5" />
<rect x="384.02" y="64.80" width="7.00" height="4.60" fill="#5b9fe6" rx="0.6"/>
<circle cx="396.70" cy="34.30" r="2.80" fill="#b5122f" />
<circle cx="396.70" cy="45.90" r="2.49" fill="#284887" stroke="#1c3870" stroke-width="0.5" />
<circle cx="396.70" cy="57.50" r="2.60" fill="#454b63" stroke="#2a2f45" stroke-width="0.5" />
<rect x="393.20" y="64.80" width="7.00" height="4.60" fill="#a0b53a" rx="0.6"/>
<circle cx="405.88" cy="34.30" r="2.69" fill="#b5122f" />
<circle cx="405.88" cy="45.90" r="2.60" fill="#284887" stroke="#1c3870" stroke-width="0.5" />
<circle cx="405.88" cy="57.50" r="2.26" fill="#454b63" stroke="#2a2f45" stroke-width="0.5" />
<rect x="402.38" y="64.80" width="7.00" height="4.60" fill="#5fb87a" rx="0.6"/>
<circle cx="415.06" cy="34.30" r="2.13" fill="#b5122f" />
<circle cx="415.06" cy="45.90" r="1.82" fill="#284887" stroke="#1c3870" stroke-width="0.5" />
<circle cx="415.06" cy="57.50" r="2.04" fill="#454b63" stroke="#2a2f45" stroke-width="0.5" />
<rect x="411.56" y="64.80" width="7.00" height="4.60" fill="#58b5e0" rx="0.6"/>
<circle cx="424.24" cy="34.30" r="1.34" fill="#b5122f" />
<circle cx="424.24" cy="45.90" r="1.82" fill="#284887" stroke="#1c3870" stroke-width="0.5" />
<circle cx="424.24" cy="57.50" r="1.70" fill="#454b63" stroke="#2a2f45" stroke-width="0.5" />
<rect x="420.74" y="64.80" width="7.00" height="4.60" fill="#d8699f" rx="0.6"/>
<circle cx="433.42" cy="34.30" r="2.80" fill="#b5122f" />
<circle cx="433.42" cy="45.90" r="0.92" fill="#284887" stroke="#1c3870" stroke-width="0.5" />
<circle cx="433.42" cy="57.50" r="0.47" fill="#454b63" stroke="#2a2f45" stroke-width="0.5" />
<rect x="429.92" y="64.80" width="7.00" height="4.60" fill="#a78ad0" rx="0.6"/>
<circle cx="442.60" cy="34.30" r="2.24" fill="#b5122f" />
<circle cx="442.60" cy="45.90" r="1.82" fill="#284887" stroke="#1c3870" stroke-width="0.5" />
<circle cx="442.60" cy="57.50" r="0.47" fill="#454b63" stroke="#2a2f45" stroke-width="0.5" />
<rect x="439.10" y="64.80" width="7.00" height="4.60" fill="#c86bc0" rx="0.6"/>
<circle cx="451.78" cy="34.30" r="2.58" fill="#b5122f" />
<circle cx="451.78" cy="45.90" r="2.71" fill="#284887" stroke="#1c3870" stroke-width="0.5" />
<circle cx="451.78" cy="57.50" r="1.93" fill="#454b63" stroke="#2a2f45" stroke-width="0.5" />
<rect x="448.28" y="64.80" width="7.00" height="4.60" fill="#6fb53b" rx="0.6"/>
<circle cx="460.96" cy="34.30" r="1.46" fill="#b5122f" />
<circle cx="460.96" cy="45.90" r="1.93" fill="#284887" stroke="#1c3870" stroke-width="0.5" />
<circle cx="460.96" cy="57.50" r="1.59" fill="#454b63" stroke="#2a2f45" stroke-width="0.5" />
<rect x="457.46" y="64.80" width="7.00" height="4.60" fill="#8f9be0" rx="0.6"/>
<circle cx="470.14" cy="34.30" r="3.36" fill="#b5122f" />
<circle cx="470.14" cy="45.90" r="2.60" fill="#284887" stroke="#1c3870" stroke-width="0.5" />
<circle cx="470.14" cy="57.50" r="1.70" fill="#454b63" stroke="#2a2f45" stroke-width="0.5" />
<rect x="466.64" y="64.80" width="7.00" height="4.60" fill="#62b566" rx="0.6"/>
<circle cx="479.32" cy="34.30" r="3.14" fill="#b5122f" />
<circle cx="479.32" cy="45.90" r="2.71" fill="#284887" stroke="#1c3870" stroke-width="0.5" />
<circle cx="479.32" cy="57.50" r="1.26" fill="#454b63" stroke="#2a2f45" stroke-width="0.5" />
<rect x="475.82" y="64.80" width="7.00" height="4.60" fill="#52b8c0" rx="0.6"/>
<circle cx="488.50" cy="34.30" r="1.57" fill="#b5122f" />
<circle cx="488.50" cy="45.90" r="1.82" fill="#284887" stroke="#1c3870" stroke-width="0.5" />
<circle cx="488.50" cy="57.50" r="0.58" fill="#454b63" stroke="#2a2f45" stroke-width="0.5" />
<rect x="485.00" y="64.80" width="7.00" height="4.60" fill="#b07cc6" rx="0.6"/>
<circle cx="497.68" cy="34.30" r="2.91" fill="#b5122f" />
<circle cx="497.68" cy="45.90" r="2.82" fill="#284887" stroke="#1c3870" stroke-width="0.5" />
<circle cx="497.68" cy="57.50" r="1.48" fill="#454b63" stroke="#2a2f45" stroke-width="0.5" />
<rect x="494.18" y="64.80" width="7.00" height="4.60" fill="#8fba3a" rx="0.6"/>
<line x1="302.00" y1="73.60" x2="344.00" y2="73.60" stroke="#d9506c" stroke-width="1.3" />
<line x1="348.40" y1="73.60" x2="363.00" y2="73.60" stroke="#6b86c2" stroke-width="1.3" />
<line x1="366.40" y1="73.60" x2="444.50" y2="73.60" stroke="#333" stroke-width="1.3" />
<line x1="449.50" y1="73.60" x2="500.50" y2="73.60" stroke="#333" stroke-width="1.3" />
<text x="323.00" y="80.50" font-size="5.0" text-anchor="middle" fill="#333">Eµ-<tspan font-style="italic">TCL1</tspan><tspan font-size="2.8" dy="-2" font-style="italic">Akt-C</tspan></text>
<text x="323.00" y="86.80" font-size="5.0" text-anchor="middle" fill="#333">enriched/shared</text>
<text x="355.60" y="80.50" font-size="5.0" text-anchor="middle" fill="#333">Eµ-<tspan font-style="italic">TCL1</tspan></text>
<text x="355.60" y="86.80" font-size="5.0" text-anchor="middle" fill="#333">enriched</text>
<text x="406.00" y="82.90" font-size="5.0" text-anchor="middle" fill="#333">Lymphoid TME</text>
<text x="475.00" y="82.90" font-size="5.0" text-anchor="middle" fill="#333">Myeloid TME</text>
<path d="M304.4,89.3 C306,94.5 320.5,90.5 322.4,96.5 C324.3,90.5 339,94.5 340.8,89.3" fill="none" stroke="#000" stroke-width="0.9" />
<line x1="322.40" y1="95.50" x2="322.40" y2="101.60" stroke="#000" stroke-width="1.1" />
<path d="M322.40,105.30 L320.20,101.10 L324.60,101.10 Z" fill="#000" />
<text x="340.50" y="110.60" font-size="5.1" text-anchor="middle" fill="#333" textLength="82.00" lengthAdjust="spacingAndGlyphs">Differential Gene Expression Analysis</text>
<text x="313.50" y="122.00" font-size="5.0" text-anchor="middle" fill="#333">Eµ-<tspan font-style="italic">TCL1</tspan><tspan font-size="2.8" dy="-2" font-style="italic">Akt-C</tspan></text>
<line x1="303.00" y1="124.70" x2="325.00" y2="124.70" stroke="#d9506c" stroke-width="1.3" />
<text x="359.30" y="122.00" font-size="5.0" text-anchor="middle" fill="#333">Eµ-<tspan font-style="italic">TCL1</tspan></text>
<line x1="348.00" y1="124.70" x2="370.00" y2="124.70" stroke="#6b86c2" stroke-width="1.3" />
<circle cx="315.07" cy="135.10" r="3.36" fill="#5cb89a" />
<circle cx="315.82" cy="133.80" r="3.49" fill="#5cb89a" />
<circle cx="305.09" cy="143.18" r="3.10" fill="#a77bc4" />
<circle cx="317.69" cy="140.36" r="2.98" fill="#d966a8" />
<circle cx="321.94" cy="139.40" r="3.49" fill="#a77bc4" />
<circle cx="312.63" cy="134.82" r="2.94" fill="#d966a8" />
<circle cx="311.29" cy="138.89" r="2.95" fill="#5cb89a" />
<circle cx="316.65" cy="131.39" r="3.14" fill="#e27f9f" />
<circle cx="320.07" cy="140.88" r="3.43" fill="#a77bc4" />
<circle cx="311.46" cy="136.52" r="2.91" fill="#d966a8" />
<circle cx="311.16" cy="145.55" r="3.29" fill="#5cb89a" />
<circle cx="318.05" cy="133.80" r="3.44" fill="#5cb89a" />
<circle cx="319.00" cy="137.99" r="3.19" fill="#5cb89a" />
<circle cx="314.73" cy="141.91" r="3.58" fill="#cf5fa6" />
<circle cx="317.83" cy="135.93" r="3.05" fill="#e0736c" />
<circle cx="307.75" cy="134.91" r="3.30" fill="#5cb89a" />
<circle cx="314.33" cy="131.12" r="3.08" fill="#d966a8" />
<circle cx="317.94" cy="142.74" r="2.95" fill="#e0736c" />
<circle cx="314.36" cy="139.66" r="2.91" fill="#d966a8" />
<circle cx="316.38" cy="137.77" r="3.57" fill="#a77bc4" />
<circle cx="317.62" cy="144.77" r="3.17" fill="#5cb89a" />
<circle cx="319.97" cy="137.12" r="3.47" fill="#e27f9f" />
<circle cx="310.84" cy="143.23" r="3.34" fill="#cf5fa6" />
<circle cx="320.50" cy="134.99" r="3.52" fill="#d9a23a" />
<circle cx="311.57" cy="147.28" r="2.98" fill="#e0736c" />
<circle cx="312.96" cy="140.29" r="3.39" fill="#d9a23a" />
<circle cx="309.46" cy="135.36" r="3.24" fill="#a77bc4" />
<circle cx="307.74" cy="143.37" r="2.95" fill="#d9a23a" />
<circle cx="306.79" cy="137.64" r="3.33" fill="#cf5fa6" />
<circle cx="307.46" cy="140.23" r="3.04" fill="#d966a8" />
<circle cx="313.38" cy="137.30" r="3.07" fill="#d966a8" />
<circle cx="309.24" cy="140.91" r="3.30" fill="#d966a8" />
<circle cx="312.92" cy="144.93" r="3.22" fill="#d966a8" />
<circle cx="322.88" cy="142.02" r="3.31" fill="#a77bc4" />
<circle cx="312.86" cy="143.28" r="3.23" fill="#d966a8" />
<circle cx="305.10" cy="139.29" r="2.91" fill="#a77bc4" />
<circle cx="305.55" cy="140.85" r="3.12" fill="#e27f9f" />
<circle cx="309.39" cy="131.74" r="3.28" fill="#d966a8" />
<circle cx="315.63" cy="144.09" r="3.39" fill="#d966a8" />
<circle cx="309.15" cy="137.36" r="3.53" fill="#a77bc4" />
<circle cx="320.12" cy="144.97" r="3.25" fill="#5cb89a" />
<circle cx="315.23" cy="146.83" r="3.31" fill="#d966a8" />
<circle cx="316.83" cy="147.32" r="2.98" fill="#e0736c" />
<circle cx="321.03" cy="143.13" r="3.17" fill="#a77bc4" />
<circle cx="307.86" cy="145.27" r="3.28" fill="#e0736c" />
<circle cx="311.42" cy="132.25" r="3.32" fill="#d9a23a" />
<circle cx="359.49" cy="145.25" r="3.19" fill="#d9a23a" />
<circle cx="360.99" cy="141.61" r="3.28" fill="#e0736c" />
<circle cx="363.59" cy="141.39" r="3.58" fill="#e27f9f" />
<circle cx="353.33" cy="145.85" r="3.51" fill="#e27f9f" />
<circle cx="367.98" cy="138.39" r="3.06" fill="#5cb89a" />
<circle cx="363.59" cy="133.31" r="3.44" fill="#a77bc4" />
<circle cx="355.85" cy="139.40" r="3.20" fill="#d966a8" />
<circle cx="356.25" cy="133.03" r="2.93" fill="#d9a23a" />
<circle cx="366.89" cy="133.97" r="3.28" fill="#cf5fa6" />
<circle cx="364.03" cy="138.18" r="3.20" fill="#d966a8" />
<circle cx="355.06" cy="135.04" r="2.94" fill="#5cb89a" />
<circle cx="359.28" cy="131.27" r="3.22" fill="#5cb89a" />
<circle cx="358.36" cy="134.89" r="3.23" fill="#5cb89a" />
<circle cx="365.12" cy="145.16" r="3.42" fill="#d9a23a" />
<circle cx="365.38" cy="140.04" r="3.44" fill="#e0736c" />
<circle cx="357.21" cy="136.62" r="3.25" fill="#a77bc4" />
<circle cx="352.66" cy="138.04" r="3.60" fill="#cf5fa6" />
<circle cx="360.37" cy="147.49" r="3.52" fill="#d9a23a" />
<circle cx="354.89" cy="132.42" r="3.06" fill="#e27f9f" />
<circle cx="355.03" cy="137.13" r="3.15" fill="#d9a23a" />
<circle cx="357.04" cy="146.41" r="3.01" fill="#e27f9f" />
<circle cx="363.98" cy="142.44" r="3.13" fill="#a77bc4" />
<circle cx="359.77" cy="137.34" r="3.45" fill="#d9a23a" />
<circle cx="366.11" cy="136.06" r="2.90" fill="#a77bc4" />
<circle cx="363.32" cy="135.93" r="3.19" fill="#d966a8" />
<circle cx="357.75" cy="140.57" r="2.94" fill="#cf5fa6" />
<circle cx="358.60" cy="143.28" r="3.57" fill="#e0736c" />
<circle cx="361.27" cy="135.70" r="3.53" fill="#d966a8" />
<circle cx="362.33" cy="137.64" r="3.16" fill="#cf5fa6" />
<circle cx="360.93" cy="143.22" r="3.40" fill="#5cb89a" />
<circle cx="351.37" cy="143.98" r="3.54" fill="#d966a8" />
<circle cx="357.41" cy="148.34" r="3.45" fill="#d9a23a" />
<circle cx="350.19" cy="138.46" r="3.46" fill="#a77bc4" />
<circle cx="356.32" cy="143.79" r="2.99" fill="#e27f9f" />
<circle cx="366.40" cy="143.08" r="3.31" fill="#d9a23a" />
<circle cx="362.60" cy="130.97" r="3.38" fill="#d966a8" />
<circle cx="363.26" cy="148.07" r="3.12" fill="#d966a8" />
<circle cx="361.23" cy="133.40" r="3.55" fill="#d966a8" />
<circle cx="360.02" cy="139.15" r="3.34" fill="#a77bc4" />
<circle cx="362.54" cy="145.41" r="3.14" fill="#5cb89a" />
<circle cx="355.79" cy="140.58" r="3.06" fill="#cf5fa6" />
<circle cx="353.67" cy="143.52" r="3.38" fill="#a77bc4" />
<circle cx="352.52" cy="135.29" r="3.25" fill="#a77bc4" />
<circle cx="367.99" cy="141.75" r="3.32" fill="#a77bc4" />
<circle cx="353.37" cy="140.07" r="2.93" fill="#cf5fa6" />
<circle cx="351.65" cy="141.61" r="3.45" fill="#cf5fa6" />
<text x="337.00" y="141.50" font-size="4.2" text-anchor="middle" fill="#333">vs.</text>
<text x="337.00" y="156.20" font-size="5.0" text-anchor="middle" font-weight="bold" fill="#000">570</text>
<text x="337.00" y="162.40" font-size="5.0" text-anchor="middle" font-weight="bold" fill="#000">DE Genes</text>
<line x1="353.50" y1="157.90" x2="370.30" y2="157.90" stroke="#000" stroke-width="1.3" />
<path d="M375.00,157.90 L369.80,160.40 L369.80,155.40 Z" fill="#000" />
<rect x="396.00" y="108.00" width="14.30" height="34.50" fill="#e07e28" />
<rect x="410.00" y="108.00" width="5.30" height="34.50" fill="#dc7427" />
<rect x="415.00" y="108.00" width="6.30" height="34.50" fill="#d9582a" />
<rect x="421.00" y="108.00" width="15.30" height="34.50" fill="#e07a28" />
<rect x="436.00" y="108.00" width="18.30" height="34.50" fill="#e58c2c" />
<rect x="454.00" y="108.00" width="7.50" height="34.50" fill="#e6902c" />
<rect x="461.20" y="108.00" width="1.00" height="34.50" fill="#e0e0d8" />
<rect x="461.90" y="108.00" width="1.40" height="34.50" fill="#ffffff" />
<rect x="463.00" y="108.00" width="4.80" height="34.50" fill="#fbe040" />
<rect x="467.50" y="108.00" width="12.80" height="34.50" fill="#f7b52f" />
<rect x="480.00" y="108.00" width="12.80" height="34.50" fill="#f8c535" />
<rect x="492.50" y="108.00" width="2.30" height="34.50" fill="#fbe04a" />
<rect x="494.50" y="108.00" width="1.80" height="34.50" fill="#fcea78" />
<rect x="496.00" y="108.00" width="2.30" height="34.50" fill="#fbe04a" />
<rect x="498.00" y="108.00" width="2.30" height="34.50" fill="#fcea78" />
<rect x="500.00" y="108.00" width="10.60" height="34.50" fill="#f9cb38" />
<line x1="396.00" y1="125.00" x2="510.30" y2="125.00" stroke="#9fc4b8" stroke-width="0.5" stroke-dasharray="1.5 1.2"/>
<path d="M396.00,129.50 L406.00,129.70 L415.00,130.20 L419.00,132.00 L421.00,135.50 L422.50,130.00 L428.00,129.20 L440.00,128.00 L452.00,126.50 L461.00,125.00 L461.80,141.50 L462.60,109.00 L464.00,113.80 L466.00,121.00 L468.00,123.80 L480.00,122.00 L492.00,120.00 L493.50,117.00 L500.00,118.50 L510.00,120.00" fill="none" stroke="#8fb9b4" stroke-width="0.55" />
<rect x="396.00" y="144.30" width="7.44" height="14.50" fill="#d42a20" />
<rect x="403.14" y="144.30" width="7.44" height="14.50" fill="#d93d22" />
<rect x="410.29" y="144.30" width="7.44" height="14.50" fill="#de5224" />
<rect x="417.43" y="144.30" width="7.44" height="14.50" fill="#e26a26" />
<rect x="424.57" y="144.30" width="7.44" height="14.50" fill="#e67d28" />
<rect x="431.72" y="144.30" width="7.44" height="14.50" fill="#ea8f2a" />
<rect x="438.86" y="144.30" width="7.44" height="14.50" fill="#f0a22c" />
<rect x="446.01" y="144.30" width="7.44" height="14.50" fill="#f5b530" />
<rect x="453.15" y="144.30" width="7.44" height="14.50" fill="#f8c434" />
<rect x="460.29" y="144.30" width="7.44" height="14.50" fill="#fad23c" />
<rect x="467.44" y="144.30" width="7.44" height="14.50" fill="#fbe048" />
<rect x="474.58" y="144.30" width="7.44" height="14.50" fill="#fbe660" />
<rect x="481.73" y="144.30" width="7.44" height="14.50" fill="#fbec80" />
<rect x="488.87" y="144.30" width="7.44" height="14.50" fill="#fcf2a8" />
<rect x="496.01" y="144.30" width="7.44" height="14.50" fill="#fdf6c0" />
<rect x="503.16" y="144.30" width="7.44" height="14.50" fill="#fef9d8" />
<rect x="396.00" y="144.30" width="114.30" height="14.50" fill="none" stroke="#777" stroke-width="0.3" />
<path d="M396.00,158.30 L419.00,158.30 L419.00,156.00 L426.00,156.00 L426.00,154.00 L434.00,154.00 L434.00,146.00 L442.00,146.00 L442.00,150.00 L448.00,150.00 L448.00,152.00 L453.00,152.00 L453.00,147.00 L458.00,147.00 L458.00,151.00 L464.00,151.00 L464.00,149.00 L472.00,149.00 L472.00,156.00 L481.00,156.00 L481.00,158.00 L510.00,158.30" fill="none" stroke="#9fc4b8" stroke-width="0.5" />
<line x1="453.00" y1="144.30" x2="453.00" y2="158.80" stroke="#9fc4b8" stroke-width="0.4" stroke-dasharray="1.2 1"/>
<text x="394.20" y="146.80" font-size="3.5" text-anchor="end" fill="#333">300</text>
<line x1="394.80" y1="145.60" x2="396.00" y2="145.60" stroke="#333" stroke-width="0.3" />
<text x="394.20" y="151.20" font-size="3.5" text-anchor="end" fill="#333">200</text>
<line x1="394.80" y1="150.00" x2="396.00" y2="150.00" stroke="#333" stroke-width="0.3" />
<text x="394.20" y="155.60" font-size="3.5" text-anchor="end" fill="#333">100</text>
<line x1="394.80" y1="154.40" x2="396.00" y2="154.40" stroke="#333" stroke-width="0.3" />
<text x="394.20" y="160.00" font-size="3.5" text-anchor="end" fill="#333">0</text>
<line x1="394.80" y1="158.80" x2="396.00" y2="158.80" stroke="#333" stroke-width="0.3" />
<text x="384.60" y="152.00" font-size="6.0" text-anchor="middle" fill="#333" textLength="13.50" lengthAdjust="spacingAndGlyphs" transform="rotate(-90 384.60 152.00)">Count</text>
<text x="396.00" y="165.30" font-size="3.4" text-anchor="middle" fill="#333">-60</text>
<line x1="396.00" y1="158.80" x2="396.00" y2="160.00" stroke="#333" stroke-width="0.3" />
<text x="415.00" y="165.30" font-size="3.4" text-anchor="middle" fill="#333">-40</text>
<line x1="415.00" y1="158.80" x2="415.00" y2="160.00" stroke="#333" stroke-width="0.3" />
<text x="434.30" y="165.30" font-size="3.4" text-anchor="middle" fill="#333">-20</text>
<line x1="434.30" y1="158.80" x2="434.30" y2="160.00" stroke="#333" stroke-width="0.3" />
<text x="453.00" y="165.30" font-size="3.4" text-anchor="middle" fill="#333">0</text>
<line x1="453.00" y1="158.80" x2="453.00" y2="160.00" stroke="#333" stroke-width="0.3" />
<text x="472.00" y="165.30" font-size="3.4" text-anchor="middle" fill="#333">20</text>
<line x1="472.00" y1="158.80" x2="472.00" y2="160.00" stroke="#333" stroke-width="0.3" />
<text x="491.00" y="165.30" font-size="3.4" text-anchor="middle" fill="#333">40</text>
<line x1="491.00" y1="158.80" x2="491.00" y2="160.00" stroke="#333" stroke-width="0.3" />
<text x="510.00" y="165.30" font-size="3.4" text-anchor="middle" fill="#333">60</text>
<line x1="510.00" y1="158.80" x2="510.00" y2="160.00" stroke="#333" stroke-width="0.3" />
<line x1="416.00" y1="169.70" x2="450.00" y2="169.70" stroke="#8a8a8a" stroke-width="1.6" />
<path d="M410.50,169.70 L417.50,166.90 L417.50,172.50 Z" fill="#8a8a8a" />
<line x1="456.50" y1="169.70" x2="491.00" y2="169.70" stroke="#8a8a8a" stroke-width="1.6" />
<path d="M496.50,169.70 L489.50,166.90 L489.50,172.50 Z" fill="#8a8a8a" />
<text x="430.60" y="178.80" font-size="6.6" text-anchor="middle" fill="#333" textLength="33.50" lengthAdjust="spacingAndGlyphs">Downregulated</text>
<text x="476.50" y="178.80" font-size="6.6" text-anchor="middle" fill="#333" textLength="27.00" lengthAdjust="spacingAndGlyphs">Upregulated</text>
<path d="M446,95.5 V87.5 H475.5 V97 M431,99.5 V95.5 H462.5 V106.5 M463.7,106.5 V97 H487 V100.5 M417,102.5 V99.5 H447.5 V103 M410,105 V102.5 H421 V105 M438,105 V103 H454 V105 M474,103 V100.5 H498 V103 M468,105.5 V103 H479 V105.5 M491,105 V103 H504 V105 M399,106.5 V105 H413 V106.5 M418,106.5 V105 H424 V106.5 M429,106.5 V105 H441 V106.5 M449,106.5 V105 H458 V106.5 M465,106.5 V105.5 H471 V106.5 M476,106.5 V105.5 H483 V106.5 M487,106.5 V105 H495 V106.5 M500,106.5 V105 H508 V106.5 " fill="none" stroke="#444" stroke-width="0.4" />
<path d="M397.0,107.2 V106.3 H400.7 V107.2 M401.9,107.2 V106.3 H406.7 V107.2 M408.1,107.2 V106.1 H409.7 V107.2 M411.2,107.2 V106.5 H414.9 V107.2 M415.4,107.2 V105.8 H418.5 V107.2 M419.5,107.2 V105.6 H423.0 V107.2 M423.5,107.2 V106.5 H426.0 V107.2 M427.2,107.2 V106.4 H429.3 V107.2 M429.8,107.2 V105.7 H433.4 V107.2 M433.7,107.2 V105.8 H438.3 V107.2 M438.8,107.2 V106.5 H443.8 V107.2 M444.4,107.2 V106.1 H449.3 V107.2 M450.4,107.2 V106.5 H452.6 V107.2 M453.7,107.2 V106.5 H458.6 V107.2 M459.3,107.2 V105.8 H462.1 V107.2 M462.5,107.2 V105.9 H464.3 V107.2 M465.3,107.2 V106.3 H466.8 V107.2 M467.5,107.2 V106.4 H470.1 V107.2 M471.0,107.2 V106.1 H473.6 V107.2 M474.7,107.2 V106.6 H476.4 V107.2 M476.7,107.2 V106.4 H480.9 V107.2 M481.2,107.2 V106.0 H485.4 V107.2 M486.4,107.2 V105.6 H488.0 V107.2 M488.5,107.2 V105.8 H493.3 V107.2 M494.5,107.2 V106.5 H499.3 V107.2 M500.0,107.2 V106.1 H502.7 V107.2 M504.0,107.2 V106.3 H505.9 V107.2 M507.1,107.2 V105.6 H511.6 V107.2 " fill="none" stroke="#444" stroke-width="0.3" />
<line x1="462.60" y1="104.00" x2="462.60" y2="107.50" stroke="#000" stroke-width="1.2" />
<text x="389.60" y="183.00" font-size="3.5" text-anchor="middle" font-weight="bold" fill="#000">Top 25</text>
<text x="389.60" y="187.30" font-size="3.5" text-anchor="middle" font-weight="bold" fill="#000">GO Term Groups</text>
<line x1="373.30" y1="191.70" x2="373.30" y2="239.00" stroke="#000" stroke-width="0.8" />
<line x1="373.30" y1="199.80" x2="376.50" y2="199.80" stroke="#000" stroke-width="0.7" />
<line x1="373.30" y1="211.30" x2="376.50" y2="211.30" stroke="#000" stroke-width="0.7" />
<line x1="373.30" y1="222.00" x2="376.50" y2="222.00" stroke="#000" stroke-width="0.7" />
<line x1="373.30" y1="233.50" x2="376.50" y2="233.50" stroke="#000" stroke-width="0.7" />
<circle cx="366.00" cy="199.80" r="4.30" fill="#f1d33a" stroke="#555" stroke-width="0.5" />
<circle cx="366.00" cy="211.30" r="0.60" fill="#e5c84a" stroke="#555" stroke-width="0.3" />
<circle cx="366.00" cy="222.00" r="2.30" fill="#f8e48c" stroke="#555" stroke-width="0.5" />
<circle cx="366.00" cy="233.50" r="1.20" fill="#fff" stroke="#444" stroke-width="0.5" />
<text x="351.00" y="203.00" font-size="3.6" text-anchor="middle" fill="#333">Gene</text>
<text x="351.00" y="207.30" font-size="3.6" text-anchor="middle" fill="#333">Number</text>
<circle cx="353.20" cy="216.20" r="6.30" fill="#000" />
<text x="345.00" y="217.30" font-size="3.0" text-anchor="end" fill="#333">250</text>
<circle cx="353.20" cy="227.00" r="3.20" fill="#000" />
<text x="345.00" y="228.10" font-size="3.0" text-anchor="end" fill="#333">125</text>
<circle cx="353.20" cy="233.50" r="1.70" fill="#000" />
<text x="345.00" y="234.60" font-size="3.0" text-anchor="end" fill="#333">63</text>
<circle cx="353.20" cy="237.30" r="0.90" fill="#000" />
<text x="345.00" y="238.40" font-size="3.0" text-anchor="end" fill="#333">31</text>
<defs><linearGradient id="key2" x1="0" x2="1" y1="0" y2="0"><stop offset="0" stop-color="#fffef2"/><stop offset="0.5" stop-color="#fbeb94"/><stop offset="1" stop-color="#f0cf2e"/></linearGradient></defs>
<rect x="341.50" y="240.00" width="31.20" height="3.70" fill="url(#key2)" stroke="#777" stroke-width="0.3" />
<text x="347.30" y="248.00" font-size="3.0" text-anchor="middle" fill="#333">1.0</text>
<text x="354.50" y="248.00" font-size="3.0" text-anchor="middle" fill="#333">1.5</text>
<text x="361.70" y="248.00" font-size="3.0" text-anchor="middle" fill="#333">2.0</text>
<text x="369.00" y="248.00" font-size="3.0" text-anchor="middle" fill="#333">2.5</text>
<text x="357.60" y="257.00" font-size="6.2" text-anchor="middle" fill="#333" textLength="33.70" lengthAdjust="spacingAndGlyphs">Median disease</text>
<text x="357.60" y="264.30" font-size="6.2" text-anchor="middle" fill="#333" textLength="31.50" lengthAdjust="spacingAndGlyphs">tendency score</text>
<text x="391.30" y="198.60" font-size="3.0" text-anchor="middle" fill="#333">Cell-cell</text>
<text x="391.30" y="202.60" font-size="3.0" text-anchor="middle" fill="#333">associated</text>
<text x="391.30" y="210.10" font-size="3.0" text-anchor="middle" fill="#333">TCR/BCR signaling</text>
<text x="391.30" y="214.10" font-size="3.0" text-anchor="middle" fill="#333">associated</text>
<text x="391.30" y="220.80" font-size="3.0" text-anchor="middle" fill="#333">Defence</text>
<text x="391.30" y="224.80" font-size="3.0" text-anchor="middle" fill="#333">response</text>
<text x="391.30" y="234.50" font-size="3.0" text-anchor="middle" fill="#333">Other</text>
<line x1="411.60" y1="191.70" x2="411.60" y2="239.40" stroke="#000" stroke-width="0.8" />
<line x1="411.20" y1="239.00" x2="464.00" y2="239.00" stroke="#000" stroke-width="0.8" />
<line x1="409.00" y1="199.80" x2="411.60" y2="199.80" stroke="#000" stroke-width="0.7" />
<line x1="409.00" y1="211.30" x2="411.60" y2="211.30" stroke="#000" stroke-width="0.7" />
<line x1="409.00" y1="222.00" x2="411.60" y2="222.00" stroke="#000" stroke-width="0.7" />
<line x1="409.00" y1="233.50" x2="411.60" y2="233.50" stroke="#000" stroke-width="0.7" />
<rect x="412.00" y="196.60" width="41.30" height="6.40" fill="#b0182b" />
<rect x="412.00" y="208.10" width="22.00" height="6.40" fill="#9c9cae" />
<rect x="412.00" y="218.80" width="18.50" height="6.40" fill="#c2c2c8" />
<rect x="412.00" y="230.30" width="11.00" height="6.40" fill="#e2e2e6" />
<line x1="412.60" y1="239.00" x2="412.60" y2="241.30" stroke="#000" stroke-width="0.6" />
<text x="412.60" y="249.00" font-size="5.0" text-anchor="middle" fill="#333" textLength="2.60" lengthAdjust="spacingAndGlyphs">0</text>
<line x1="422.08" y1="239.00" x2="422.08" y2="241.30" stroke="#000" stroke-width="0.6" />
<text x="422.08" y="249.00" font-size="5.0" text-anchor="middle" fill="#333" textLength="5.00" lengthAdjust="spacingAndGlyphs">10</text>
<line x1="431.56" y1="239.00" x2="431.56" y2="241.30" stroke="#000" stroke-width="0.6" />
<text x="431.56" y="249.00" font-size="5.0" text-anchor="middle" fill="#333" textLength="5.00" lengthAdjust="spacingAndGlyphs">20</text>
<line x1="441.04" y1="239.00" x2="441.04" y2="241.30" stroke="#000" stroke-width="0.6" />
<text x="441.04" y="249.00" font-size="5.0" text-anchor="middle" fill="#333" textLength="5.00" lengthAdjust="spacingAndGlyphs">30</text>
<line x1="450.52" y1="239.00" x2="450.52" y2="241.30" stroke="#000" stroke-width="0.6" />
<text x="450.52" y="249.00" font-size="5.0" text-anchor="middle" fill="#333" textLength="5.00" lengthAdjust="spacingAndGlyphs">40</text>
<line x1="460.00" y1="239.00" x2="460.00" y2="241.30" stroke="#000" stroke-width="0.6" />
<text x="460.00" y="249.00" font-size="5.0" text-anchor="middle" fill="#333" textLength="5.00" lengthAdjust="spacingAndGlyphs">50</text>
<text x="438.00" y="261.00" font-size="7.0" text-anchor="middle" fill="#333" textLength="48.50" lengthAdjust="spacingAndGlyphs">% top 25 GO terms</text>
</g>
<g id="panel_c">
<text x="10.50" y="292.50" font-size="13.5" font-weight="bold" fill="#000">C</text>
<circle cx="162.50" cy="290.20" r="3.00" fill="#c9c9ce" />
<text x="169.00" y="291.40" font-size="3.6" fill="#222" textLength="53.00" lengthAdjust="spacingAndGlyphs">Eµ-<tspan font-style="italic">TCL1</tspan><tspan font-size="2.2" dy="-1.2" font-style="italic">Akt-C</tspan><tspan dy="1.2"> enriched GO terms</tspan></text>
<circle cx="162.70" cy="297.30" r="0.95" fill="#b5122f" />
<text x="169.00" y="298.60" font-size="3.6" fill="#222" textLength="43.00" lengthAdjust="spacingAndGlyphs">Eµ-<tspan font-style="italic">TCL1</tspan><tspan font-size="2.2" dy="-1.2" font-style="italic">Akt-C</tspan><tspan dy="1.2"> significant genes</tspan></text>
<circle cx="162.70" cy="303.50" r="0.95" fill="#1f3f8f" />
<text x="169.00" y="304.80" font-size="3.6" fill="#222" textLength="41.50" lengthAdjust="spacingAndGlyphs">Eµ-<tspan font-style="italic">TCL1</tspan> significant genes</text>
<path d="M136.50,379.00 L147.50,379.00 L152.50,432.00 L145.50,433.00 Z" fill="#cbcbcf" />
<path d="M137.00,381.00 L142.00,381.00 L123.50,444.00 L119.50,443.00 Z" fill="#cfcfd3" />
<path d="M146.50,436.00 L150.50,435.00 L159.50,453.00 L156.50,454.50 Z" fill="#cfcfd3" />
<path d="M67.0,311.8L83.5,381.5M71.2,310.7L83.5,381.5M82.8,308.6L83.5,381.5M89.4,311.2L83.5,381.5M78.6,311.8L83.5,381.5M89.8,317.5L83.5,381.5M59.6,315.0L83.5,381.5M55.3,319.2L83.5,381.5M63.0,321.7L83.5,381.5M59.6,322.8L83.5,381.5M53.8,327.7L83.5,381.5M59.1,327.0L83.5,381.5M49.6,330.2L83.5,381.5M55.5,332.3L83.5,381.5M82.0,326.0L83.5,381.5M77.1,330.6L83.5,381.5M65.5,337.0L83.5,381.5M47.5,339.1L83.5,381.5M45.0,345.0L83.5,381.5M52.8,345.6L83.5,381.5M61.9,347.8L83.5,381.5M41.2,354.1L83.5,381.5M45.0,356.6L83.5,381.5M59.8,360.2L83.5,381.5M40.5,364.5L83.5,381.5M41.8,371.0L83.5,381.5M49.2,370.4L83.5,381.5M56.0,375.0L83.5,381.5M40.1,377.8L83.5,381.5M40.7,387.8L83.5,381.5M51.3,387.0L83.5,381.5M41.8,396.3L83.5,381.5M53.2,395.4L83.5,381.5M42.8,403.3L83.5,381.5M55.5,405.4L83.5,381.5M45.8,409.6L83.5,381.5M46.9,416.4L83.5,381.5M51.7,420.6L83.5,381.5M58.7,418.7L83.5,381.5M53.4,428.7L83.5,381.5M58.5,430.8L83.5,381.5M80.3,433.5L83.5,381.5M80.3,433.5L121.0,446.0M90.9,421.7L83.5,381.5M90.9,421.7L121.0,446.0M95.1,419.1L83.5,381.5M95.1,419.1L121.0,446.0M88.8,425.9L83.5,381.5M88.8,425.9L121.0,446.0M94.0,427.6L83.5,381.5M94.0,427.6L121.0,446.0M91.9,432.5L83.5,381.5M91.9,432.5L121.0,446.0M96.2,438.2L83.5,381.5M96.2,438.2L121.0,446.0M87.7,440.3L83.5,381.5M87.7,440.3L121.0,446.0M80.3,441.3L83.5,381.5M80.3,441.3L121.0,446.0M93.0,442.0L83.5,381.5M93.0,442.0L121.0,446.0M88.8,447.3L83.5,381.5M88.8,447.3L121.0,446.0M92.4,447.3L83.5,381.5M92.4,447.3L121.0,446.0M115.2,435.6L83.5,381.5M115.2,435.6L121.0,446.0M115.2,435.6L142.0,377.5M111.6,349.2L83.5,381.5M111.6,349.2L142.0,377.5M116.2,345.2L83.5,381.5M116.2,345.2L142.0,377.5M117.5,357.3L83.5,381.5M117.5,357.3L142.0,377.5M117.5,357.3L121.0,446.0M114.8,361.9L83.5,381.5M114.8,361.9L142.0,377.5M114.8,361.9L121.0,446.0M125.6,351.4L83.5,381.5M125.6,351.4L142.0,377.5M126.1,354.1L83.5,381.5M126.1,354.1L142.0,377.5M126.1,356.8L83.5,381.5M126.1,356.8L142.0,377.5M125.0,360.5L83.5,381.5M125.0,360.5L142.0,377.5M122.0,364.9L83.5,381.5M122.0,364.9L142.0,377.5M122.0,364.9L121.0,446.0M152.0,329.8L142.0,377.5M170.5,333.6L142.0,377.5M157.9,333.9L142.0,377.5M154.7,347.4L142.0,377.5M169.2,349.2L142.0,377.5M157.9,353.8L142.0,377.5M163.3,360.5L142.0,377.5M164.6,367.3L142.0,377.5M166.0,371.6L142.0,377.5M172.7,373.5L142.0,377.5M205.5,311.5L187.5,352.5M207.7,325.0L187.5,352.5M215.0,321.8L187.5,352.5M216.3,327.2L187.5,352.5M212.5,333.6L187.5,352.5M215.2,339.3L187.5,352.5M117.2,384.5L83.5,381.5M117.2,384.5L142.0,377.5M117.2,384.5L121.0,446.0M121.9,385.0L83.5,381.5M121.9,385.0L142.0,377.5M121.9,385.0L121.0,446.0M122.5,391.5L83.5,381.5M122.5,391.5L142.0,377.5M122.5,391.5L121.0,446.0M111.5,393.6L83.5,381.5M111.5,393.6L142.0,377.5M111.5,393.6L121.0,446.0M109.8,395.5L83.5,381.5M109.8,395.5L142.0,377.5M109.8,395.5L121.0,446.0M103.5,396.8L83.5,381.5M103.5,396.8L142.0,377.5M103.5,396.8L121.0,446.0M109.8,401.4L83.5,381.5M109.8,401.4L142.0,377.5M109.8,401.4L121.0,446.0M115.1,400.0L83.5,381.5M115.1,400.0L142.0,377.5M115.1,400.0L121.0,446.0M129.9,396.8L83.5,381.5M129.9,396.8L142.0,377.5M129.9,396.8L121.0,446.0M129.9,396.8L148.0,436.0M128.8,401.0L83.5,381.5M128.8,401.0L142.0,377.5M128.8,401.0L121.0,446.0M128.8,401.0L148.0,436.0M125.3,400.8L142.0,377.5M125.3,400.8L121.0,446.0M125.3,400.8L148.0,436.0M113.0,407.4L83.5,381.5M113.0,407.4L142.0,377.5M113.0,407.4L121.0,446.0M143.7,408.2L142.0,377.5M143.7,408.2L121.0,446.0M143.7,408.2L148.0,436.0M147.9,406.7L142.0,377.5M147.9,406.7L121.0,446.0M147.9,406.7L148.0,436.0M147.9,406.7L158.2,454.0M126.7,412.7L83.5,381.5M126.7,412.7L142.0,377.5M126.7,412.7L121.0,446.0M147.9,412.0L142.0,377.5M147.9,412.0L121.0,446.0M147.9,412.0L148.0,436.0M147.9,412.0L143.0,448.0M150.4,413.1L142.0,377.5M150.4,413.1L121.0,446.0M150.4,413.1L148.0,436.0M150.4,413.1L158.2,454.0M152.1,416.3L142.0,377.5M152.1,416.3L121.0,446.0M152.1,416.3L148.0,436.0M152.1,416.3L158.2,454.0M152.1,416.3L163.0,402.0M157.8,415.8L142.0,377.5M157.8,415.8L148.0,436.0M157.8,415.8L158.2,454.0M153.8,419.4L142.0,377.5M153.8,419.4L121.0,446.0M153.8,419.4L148.0,436.0M153.8,419.4L158.2,454.0M153.8,419.4L163.0,402.0M118.9,419.8L83.5,381.5M118.9,419.8L142.0,377.5M118.9,419.8L121.0,446.0M144.3,419.0L142.0,377.5M144.3,419.0L121.0,446.0M144.3,419.0L148.0,436.0M168.0,422.2L142.0,377.5M168.0,422.2L148.0,436.0M168.0,422.2L158.2,454.0M168.0,422.2L181.8,448.0M168.0,422.2L163.0,402.0M150.0,425.3L142.0,377.5M150.0,425.3L121.0,446.0M150.0,425.3L148.0,436.0M150.0,425.3L158.2,454.0M123.1,428.9L83.5,381.5M123.1,428.9L142.0,377.5M123.1,428.9L121.0,446.0M123.1,428.9L148.0,436.0M123.1,428.9L143.0,448.0M146.8,428.9L142.0,377.5M146.8,428.9L121.0,446.0M146.8,428.9L148.0,436.0M146.8,428.9L158.2,454.0M122.1,432.5L83.5,381.5M122.1,432.5L142.0,377.5M122.1,432.5L121.0,446.0M122.1,432.5L148.0,436.0M122.1,432.5L143.0,448.0M142.0,443.8L142.0,377.5M142.0,443.8L121.0,446.0M142.0,443.8L148.0,436.0M149.6,444.2L142.0,377.5M149.6,444.2L121.0,446.0M149.6,444.2L148.0,436.0M149.6,444.2L158.2,454.0M162.7,401.9L142.0,377.5M162.7,401.9L121.0,446.0M162.7,401.9L148.0,436.0M162.7,401.9L158.2,454.0M162.7,401.9L181.8,448.0M162.7,401.9L163.0,402.0M101.0,481.2L121.0,446.0M105.6,484.4L121.0,446.0M119.8,485.2L121.0,446.0M111.5,486.3L121.0,446.0M132.5,483.9L121.0,446.0M125.8,486.3L121.0,446.0M142.5,474.5L121.0,446.0M142.5,474.5L158.2,454.0M142.5,474.5L148.0,436.0M157.3,471.8L121.0,446.0M157.3,471.8L158.2,454.0M178.3,468.8L158.2,454.0M178.3,468.8L181.8,448.0M178.3,468.8L148.0,436.0M195.0,469.1L158.2,454.0M192.3,480.9L158.2,454.0M187.7,492.0L158.2,454.0M181.8,499.8L158.2,454.0M175.0,506.0L158.2,454.0M175.0,506.0L187.5,352.5M98.8,500.6L121.0,446.0M106.9,506.8L121.0,446.0M113.7,509.2L121.0,446.0M121.7,509.2L121.0,446.0M127.9,509.5L121.0,446.0M140.6,500.6L121.0,446.0M133.9,506.5L121.0,446.0M83.5,381.5L142.0,377.5M142.0,377.5L148.0,436.0M121.0,446.0L148.0,436.0M148.0,436.0L158.2,454.0M158.2,454.0L181.8,448.0M142.0,377.5L187.5,352.5M163.0,402.0L142.0,377.5M83.5,381.5L121.0,446.0M143.0,448.0L148.0,436.0M142.0,377.5L121.0,446.0" fill="none" stroke="#b7b7bc" stroke-width="0.62" />
<circle cx="181.80" cy="448.00" r="3.00" fill="#c9c9ce" />
<circle cx="158.20" cy="454.00" r="2.60" fill="#c9c9ce" />
<circle cx="187.50" cy="352.50" r="2.00" fill="#d5d5d9" />
<circle cx="67.00" cy="311.80" r="0.95" fill="#1f3f8f" />
<circle cx="71.20" cy="310.70" r="0.95" fill="#b5122f" />
<circle cx="82.80" cy="308.60" r="0.95" fill="#b5122f" />
<circle cx="89.40" cy="311.20" r="0.95" fill="#b5122f" />
<circle cx="78.60" cy="311.80" r="0.95" fill="#1f3f8f" />
<circle cx="89.80" cy="317.50" r="0.95" fill="#b5122f" />
<circle cx="59.60" cy="315.00" r="0.95" fill="#b5122f" />
<circle cx="55.30" cy="319.20" r="0.95" fill="#1f3f8f" />
<circle cx="63.00" cy="321.70" r="0.95" fill="#b5122f" />
<circle cx="59.60" cy="322.80" r="0.95" fill="#1f3f8f" />
<circle cx="53.80" cy="327.70" r="0.95" fill="#1f3f8f" />
<circle cx="59.10" cy="327.00" r="0.95" fill="#b5122f" />
<circle cx="49.60" cy="330.20" r="0.95" fill="#1f3f8f" />
<circle cx="55.50" cy="332.30" r="0.95" fill="#1f3f8f" />
<circle cx="82.00" cy="326.00" r="0.95" fill="#b5122f" />
<circle cx="77.10" cy="330.60" r="0.95" fill="#b5122f" />
<circle cx="65.50" cy="337.00" r="0.95" fill="#b5122f" />
<circle cx="47.50" cy="339.10" r="0.95" fill="#b5122f" />
<circle cx="45.00" cy="345.00" r="0.95" fill="#b5122f" />
<circle cx="52.80" cy="345.60" r="0.95" fill="#1f3f8f" />
<circle cx="61.90" cy="347.80" r="0.95" fill="#b5122f" />
<circle cx="41.20" cy="354.10" r="0.95" fill="#b5122f" />
<circle cx="45.00" cy="356.60" r="0.95" fill="#1f3f8f" />
<circle cx="59.80" cy="360.20" r="0.95" fill="#b5122f" />
<circle cx="40.50" cy="364.50" r="0.95" fill="#b5122f" />
<circle cx="41.80" cy="371.00" r="0.95" fill="#b5122f" />
<circle cx="49.20" cy="370.40" r="0.95" fill="#1f3f8f" />
<circle cx="56.00" cy="375.00" r="0.95" fill="#b5122f" />
<circle cx="40.10" cy="377.80" r="0.95" fill="#b5122f" />
<circle cx="40.70" cy="387.80" r="0.95" fill="#1f3f8f" />
<circle cx="51.30" cy="387.00" r="0.95" fill="#b5122f" />
<circle cx="41.80" cy="396.30" r="0.95" fill="#1f3f8f" />
<circle cx="53.20" cy="395.40" r="0.95" fill="#1f3f8f" />
<circle cx="42.80" cy="403.30" r="0.95" fill="#b5122f" />
<circle cx="55.50" cy="405.40" r="0.95" fill="#1f3f8f" />
<circle cx="45.80" cy="409.60" r="0.95" fill="#b5122f" />
<circle cx="46.90" cy="416.40" r="0.95" fill="#1f3f8f" />
<circle cx="51.70" cy="420.60" r="0.95" fill="#b5122f" />
<circle cx="58.70" cy="418.70" r="0.95" fill="#b5122f" />
<circle cx="53.40" cy="428.70" r="0.95" fill="#b5122f" />
<circle cx="58.50" cy="430.80" r="0.95" fill="#1f3f8f" />
<circle cx="80.30" cy="433.50" r="0.95" fill="#b5122f" />
<circle cx="90.90" cy="421.70" r="0.95" fill="#1f3f8f" />
<circle cx="95.10" cy="419.10" r="0.95" fill="#b5122f" />
<circle cx="88.80" cy="425.90" r="0.95" fill="#1f3f8f" />
<circle cx="94.00" cy="427.60" r="0.95" fill="#1f3f8f" />
<circle cx="91.90" cy="432.50" r="0.95" fill="#1f3f8f" />
<circle cx="96.20" cy="438.20" r="0.95" fill="#b5122f" />
<circle cx="87.70" cy="440.30" r="0.95" fill="#b5122f" />
<circle cx="80.30" cy="441.30" r="0.95" fill="#1f3f8f" />
<circle cx="93.00" cy="442.00" r="0.95" fill="#b5122f" />
<circle cx="88.80" cy="447.30" r="0.95" fill="#1f3f8f" />
<circle cx="92.40" cy="447.30" r="0.95" fill="#1f3f8f" />
<circle cx="115.20" cy="435.60" r="0.95" fill="#b5122f" />
<circle cx="111.60" cy="349.20" r="0.95" fill="#1f3f8f" />
<circle cx="116.20" cy="345.20" r="0.95" fill="#b5122f" />
<circle cx="117.50" cy="357.30" r="0.95" fill="#b5122f" />
<circle cx="114.80" cy="361.90" r="0.95" fill="#b5122f" />
<circle cx="125.60" cy="351.40" r="0.95" fill="#1f3f8f" />
<circle cx="126.10" cy="354.10" r="0.95" fill="#1f3f8f" />
<circle cx="126.10" cy="356.80" r="0.95" fill="#b5122f" />
<circle cx="125.00" cy="360.50" r="0.95" fill="#b5122f" />
<circle cx="122.00" cy="364.90" r="0.95" fill="#b5122f" />
<circle cx="152.00" cy="329.80" r="0.95" fill="#b5122f" />
<circle cx="170.50" cy="333.60" r="0.95" fill="#b5122f" />
<circle cx="157.90" cy="333.90" r="0.95" fill="#b5122f" />
<circle cx="154.70" cy="347.40" r="0.95" fill="#1f3f8f" />
<circle cx="169.20" cy="349.20" r="0.95" fill="#b5122f" />
<circle cx="157.90" cy="353.80" r="0.95" fill="#b5122f" />
<circle cx="163.30" cy="360.50" r="0.95" fill="#b5122f" />
<circle cx="164.60" cy="367.30" r="0.95" fill="#b5122f" />
<circle cx="166.00" cy="371.60" r="0.95" fill="#1f3f8f" />
<circle cx="172.70" cy="373.50" r="0.95" fill="#1f3f8f" />
<circle cx="205.50" cy="311.50" r="0.95" fill="#1f3f8f" />
<circle cx="207.70" cy="325.00" r="0.95" fill="#1f3f8f" />
<circle cx="215.00" cy="321.80" r="0.95" fill="#1f3f8f" />
<circle cx="216.30" cy="327.20" r="0.95" fill="#1f3f8f" />
<circle cx="212.50" cy="333.60" r="0.95" fill="#1f3f8f" />
<circle cx="215.20" cy="339.30" r="0.95" fill="#1f3f8f" />
<circle cx="117.20" cy="384.50" r="0.95" fill="#1f3f8f" />
<circle cx="121.90" cy="385.00" r="0.95" fill="#b5122f" />
<circle cx="122.50" cy="391.50" r="0.95" fill="#1f3f8f" />
<circle cx="111.50" cy="393.60" r="0.95" fill="#b5122f" />
<circle cx="109.80" cy="395.50" r="0.95" fill="#b5122f" />
<circle cx="103.50" cy="396.80" r="0.95" fill="#b5122f" />
<circle cx="109.80" cy="401.40" r="0.95" fill="#1f3f8f" />
<circle cx="115.10" cy="400.00" r="0.95" fill="#1f3f8f" />
<circle cx="129.90" cy="396.80" r="0.95" fill="#b5122f" />
<circle cx="128.80" cy="401.00" r="0.95" fill="#b5122f" />
<circle cx="125.30" cy="400.80" r="0.95" fill="#b5122f" />
<circle cx="113.00" cy="407.40" r="0.95" fill="#b5122f" />
<circle cx="143.70" cy="408.20" r="0.95" fill="#b5122f" />
<circle cx="147.90" cy="406.70" r="0.95" fill="#b5122f" />
<circle cx="126.70" cy="412.70" r="0.95" fill="#b5122f" />
<circle cx="147.90" cy="412.00" r="0.95" fill="#b5122f" />
<circle cx="150.40" cy="413.10" r="0.95" fill="#b5122f" />
<circle cx="152.10" cy="416.30" r="0.95" fill="#b5122f" />
<circle cx="157.80" cy="415.80" r="0.95" fill="#b5122f" />
<circle cx="153.80" cy="419.40" r="0.95" fill="#b5122f" />
<circle cx="118.90" cy="419.80" r="0.95" fill="#b5122f" />
<circle cx="144.30" cy="419.00" r="0.95" fill="#b5122f" />
<circle cx="168.00" cy="422.20" r="0.95" fill="#b5122f" />
<circle cx="150.00" cy="425.30" r="0.95" fill="#b5122f" />
<circle cx="123.10" cy="428.90" r="0.95" fill="#b5122f" />
<circle cx="146.80" cy="428.90" r="0.95" fill="#b5122f" />
<circle cx="122.10" cy="432.50" r="0.95" fill="#b5122f" />
<circle cx="142.00" cy="443.80" r="0.95" fill="#1f3f8f" />
<circle cx="149.60" cy="444.20" r="0.95" fill="#b5122f" />
<circle cx="162.70" cy="401.90" r="0.95" fill="#b5122f" />
<circle cx="101.00" cy="481.20" r="0.95" fill="#1f3f8f" />
<circle cx="105.60" cy="484.40" r="0.95" fill="#1f3f8f" />
<circle cx="119.80" cy="485.20" r="0.95" fill="#b5122f" />
<circle cx="111.50" cy="486.30" r="0.95" fill="#b5122f" />
<circle cx="132.50" cy="483.90" r="0.95" fill="#b5122f" />
<circle cx="125.80" cy="486.30" r="0.95" fill="#b5122f" />
<circle cx="142.50" cy="474.50" r="0.95" fill="#1f3f8f" />
<circle cx="157.30" cy="471.80" r="0.95" fill="#b5122f" />
<circle cx="178.30" cy="468.80" r="0.95" fill="#b5122f" />
<circle cx="195.00" cy="469.10" r="0.95" fill="#b5122f" />
<circle cx="192.30" cy="480.90" r="0.95" fill="#b5122f" />
<circle cx="187.70" cy="492.00" r="0.95" fill="#1f3f8f" />
<circle cx="181.80" cy="499.80" r="0.95" fill="#1f3f8f" />
<circle cx="175.00" cy="506.00" r="0.95" fill="#b5122f" />
<circle cx="98.80" cy="500.60" r="0.95" fill="#1f3f8f" />
<circle cx="106.90" cy="506.80" r="0.95" fill="#b5122f" />
<circle cx="113.70" cy="509.20" r="0.95" fill="#b5122f" />
<circle cx="121.70" cy="509.20" r="0.95" fill="#b5122f" />
<circle cx="127.90" cy="509.50" r="0.95" fill="#b5122f" />
<circle cx="140.60" cy="500.60" r="0.95" fill="#b5122f" />
<circle cx="133.90" cy="506.50" r="0.95" fill="#1f3f8f" />
<text x="65.80" y="310.90" font-size="3.5" text-anchor="end" font-style="italic" fill="#222">Serinc3</text>
<text x="72.40" y="309.80" font-size="3.5" font-style="italic" fill="#222">Fgd2</text>
<text x="84.00" y="307.70" font-size="3.5" font-style="italic" fill="#222">S100a4</text>
<text x="90.60" y="310.30" font-size="3.5" font-style="italic" fill="#222">Gadd45b</text>
<text x="79.80" y="315.00" font-size="3.5" font-style="italic" fill="#222">Trp2M</text>
<text x="91.00" y="316.60" font-size="3.5" font-style="italic" fill="#222">Pmaip1</text>
<text x="58.40" y="314.10" font-size="3.5" text-anchor="end" font-style="italic" fill="#222">Phlp</text>
<text x="54.10" y="318.30" font-size="3.5" text-anchor="end" font-style="italic" fill="#222">Itm2b</text>
<text x="64.20" y="320.80" font-size="3.5" font-style="italic" fill="#222">Hmgcr</text>
<text x="60.80" y="326.00" font-size="3.5" font-style="italic" fill="#222">Eef1a1</text>
<text x="52.60" y="326.80" font-size="3.5" text-anchor="end" font-style="italic" fill="#222">Nacc2</text>
<text x="60.30" y="330.20" font-size="3.5" font-style="italic" fill="#222">Zeb2</text>
<text x="48.40" y="329.30" font-size="3.5" text-anchor="end" font-style="italic" fill="#222">Hcls1</text>
<text x="56.70" y="335.50" font-size="3.5" font-style="italic" fill="#222">Runbf1</text>
<text x="83.20" y="325.10" font-size="3.5" font-style="italic" fill="#222">Dpx1</text>
<text x="78.30" y="329.70" font-size="3.5" font-style="italic" fill="#222">Akap13</text>
<text x="66.70" y="336.10" font-size="3.5" font-style="italic" fill="#222">Syf</text>
<text x="46.30" y="338.20" font-size="3.5" text-anchor="end" font-style="italic" fill="#222">Atpif1</text>
<text x="43.80" y="344.10" font-size="3.5" text-anchor="end" font-style="italic" fill="#222">Ube2b</text>
<text x="54.00" y="344.70" font-size="3.5" font-style="italic" fill="#222">Bid</text>
<text x="63.10" y="346.90" font-size="3.5" font-style="italic" fill="#222">Nfam1</text>
<text x="40.00" y="353.20" font-size="3.5" text-anchor="end" font-style="italic" fill="#222">Rassf2</text>
<text x="46.20" y="355.70" font-size="3.5" font-style="italic" fill="#222">Pcox1</text>
<text x="61.00" y="359.30" font-size="3.5" font-style="italic" fill="#222">Arhgap1Y</text>
<text x="39.30" y="363.60" font-size="3.5" text-anchor="end" font-style="italic" fill="#222">Vamp8</text>
<text x="40.60" y="370.10" font-size="3.5" text-anchor="end" font-style="italic" fill="#222">Rap1b</text>
<text x="50.40" y="369.50" font-size="3.5" font-style="italic" fill="#222">Ppp4r3</text>
<text x="57.20" y="374.10" font-size="3.5" font-style="italic" fill="#222">S100a13</text>
<text x="38.90" y="376.90" font-size="3.5" text-anchor="end" font-style="italic" fill="#222">Rpl23</text>
<text x="39.50" y="386.90" font-size="3.5" text-anchor="end" font-style="italic" fill="#222">Blk</text>
<text x="52.50" y="386.10" font-size="3.5" font-style="italic" fill="#222">Krer</text>
<text x="40.60" y="395.40" font-size="3.5" text-anchor="end" font-style="italic" fill="#222">Gipc1</text>
<text x="54.40" y="394.50" font-size="3.5" font-style="italic" fill="#222">Hsp90ab1</text>
<text x="41.60" y="402.40" font-size="3.5" text-anchor="end" font-style="italic" fill="#222">Nucks1</text>
<text x="56.70" y="404.50" font-size="3.5" font-style="italic" fill="#222">Ywhaq</text>
<text x="44.20" y="410.70" font-size="3.5" text-anchor="end" font-style="italic" fill="#222">Gpr137b</text>
<text x="45.70" y="419.60" font-size="3.5" text-anchor="end" font-style="italic" fill="#222">Cyfip2</text>
<text x="50.50" y="423.80" font-size="3.5" text-anchor="end" font-style="italic" fill="#222">Klf2</text>
<text x="59.90" y="417.80" font-size="3.5" font-style="italic" fill="#222">Rhob</text>
<text x="52.20" y="431.90" font-size="3.5" text-anchor="end" font-style="italic" fill="#222">Camk2n1</text>
<text x="59.70" y="429.90" font-size="3.5" font-style="italic" fill="#222">Pdia3</text>
<text x="79.10" y="432.60" font-size="3.5" text-anchor="end" font-style="italic" fill="#222">Map3k1</text>
<text x="89.70" y="420.80" font-size="3.5" text-anchor="end" font-style="italic" fill="#222">Rel</text>
<text x="96.30" y="418.20" font-size="3.5" font-style="italic" fill="#222">Ptk2</text>
<text x="87.60" y="425.00" font-size="3.5" text-anchor="end" font-style="italic" fill="#222">Syk1b</text>
<text x="95.20" y="426.70" font-size="3.5" font-style="italic" fill="#222">Ahr</text>
<text x="93.10" y="431.60" font-size="3.5" font-style="italic" fill="#222">Cyfep</text>
<text x="97.40" y="437.30" font-size="3.5" font-style="italic" fill="#222">Cnih</text>
<text x="86.50" y="439.40" font-size="3.5" text-anchor="end" font-style="italic" fill="#222">Gnaq2</text>
<text x="79.10" y="440.40" font-size="3.5" text-anchor="end" font-style="italic" fill="#222">Apoe</text>
<text x="94.20" y="441.10" font-size="3.5" font-style="italic" fill="#222">Lamtor2</text>
<text x="87.60" y="450.50" font-size="3.5" text-anchor="end" font-style="italic" fill="#222">Gnb2l1</text>
<text x="93.60" y="450.50" font-size="3.5" font-style="italic" fill="#222">Myc</text>
<text x="114.00" y="434.70" font-size="3.5" text-anchor="end" font-style="italic" fill="#222">Gpr183</text>
<text x="110.40" y="348.30" font-size="3.5" text-anchor="end" font-style="italic" fill="#222">Cd36</text>
<text x="117.40" y="344.30" font-size="3.5" font-style="italic" fill="#222">Adrb2</text>
<text x="116.30" y="356.40" font-size="3.5" text-anchor="end" font-style="italic" fill="#222">Plaur</text>
<text x="113.60" y="361.00" font-size="3.5" text-anchor="end" font-style="italic" fill="#222">Adora2b</text>
<text x="126.80" y="350.50" font-size="3.5" font-style="italic" fill="#222">Hsp90aa1</text>
<text x="127.70" y="355.20" font-size="3.5" font-style="italic" fill="#222">Fos3</text>
<text x="127.70" y="357.90" font-size="3.5" font-style="italic" fill="#222">Hsph1</text>
<text x="126.60" y="361.60" font-size="3.5" font-style="italic" fill="#222">Dnaja1</text>
<text x="123.20" y="368.10" font-size="3.5" font-style="italic" fill="#222">Nes1</text>
<text x="153.20" y="328.90" font-size="3.5" font-style="italic" fill="#222">Apbb1ip</text>
<text x="171.70" y="332.70" font-size="3.5" font-style="italic" fill="#222">Cytip</text>
<text x="156.70" y="337.10" font-size="3.5" text-anchor="end" font-style="italic" fill="#222">S100a12</text>
<text x="155.90" y="346.50" font-size="3.5" font-style="italic" fill="#222">H2-DMa</text>
<text x="170.40" y="348.30" font-size="3.5" font-style="italic" fill="#222">Ntd1</text>
<text x="159.10" y="352.90" font-size="3.5" font-style="italic" fill="#222">Cd86</text>
<text x="164.50" y="359.60" font-size="3.5" font-style="italic" fill="#222">Cd83</text>
<text x="165.80" y="366.40" font-size="3.5" font-style="italic" fill="#222">Lgals1</text>
<text x="167.20" y="370.70" font-size="3.5" font-style="italic" fill="#222">Hspa9</text>
<text x="173.90" y="376.70" font-size="3.5" font-style="italic" fill="#222">Btla</text>
<text x="206.70" y="310.60" font-size="3.5" font-style="italic" fill="#222">Cct7</text>
<text x="206.50" y="324.10" font-size="3.5" text-anchor="end" font-style="italic" fill="#222">Hspa1b</text>
<text x="216.20" y="320.90" font-size="3.5" font-style="italic" fill="#222">Cct6</text>
<text x="217.50" y="326.30" font-size="3.5" font-style="italic" fill="#222">Cct3</text>
<text x="213.70" y="332.70" font-size="3.5" font-style="italic" fill="#222">Cct5</text>
<text x="216.40" y="338.40" font-size="3.5" font-style="italic" fill="#222">Cct8</text>
<text x="115.60" y="385.60" font-size="3.5" text-anchor="end" font-style="italic" fill="#222">Cited2</text>
<text x="123.50" y="386.10" font-size="3.5" font-style="italic" fill="#222">Rcos22</text>
<text x="123.70" y="390.60" font-size="3.5" font-style="italic" fill="#222">Klbp1</text>
<text x="112.70" y="392.70" font-size="3.5" font-style="italic" fill="#222">Spsr</text>
<text x="102.30" y="395.90" font-size="3.5" text-anchor="end" font-style="italic" fill="#222">Ptms</text>
<text x="108.20" y="402.50" font-size="3.5" text-anchor="end" font-style="italic" fill="#222">Iqgap</text>
<text x="131.10" y="395.90" font-size="3.5" font-style="italic" fill="#222">Rhoa</text>
<text x="130.00" y="400.10" font-size="3.5" font-style="italic" fill="#222">Cd44</text>
<text x="124.10" y="404.00" font-size="3.5" text-anchor="end" font-style="italic" fill="#222">Fulul</text>
<text x="111.80" y="410.60" font-size="3.5" text-anchor="end" font-style="italic" fill="#222">Pik3r</text>
<text x="142.50" y="407.30" font-size="3.5" text-anchor="end" font-style="italic" fill="#222">Cd274</text>
<text x="149.10" y="405.80" font-size="3.5" font-style="italic" fill="#222">Rht1</text>
<text x="127.90" y="411.80" font-size="3.5" font-style="italic" fill="#222">Wnk1</text>
<text x="146.30" y="413.10" font-size="3.5" text-anchor="end" font-style="italic" fill="#222">Ebsa</text>
<text x="153.30" y="415.40" font-size="3.5" font-style="italic" fill="#222">Itga4</text>
<text x="159.00" y="414.90" font-size="3.5" font-style="italic" fill="#222">Duap3</text>
<text x="155.00" y="422.60" font-size="3.5" font-style="italic" fill="#222">Selp</text>
<text x="120.10" y="418.90" font-size="3.5" font-style="italic" fill="#222">Sorbs</text>
<text x="143.10" y="422.20" font-size="3.5" text-anchor="end" font-style="italic" fill="#222">Myadm</text>
<text x="169.20" y="421.30" font-size="3.5" font-style="italic" fill="#222">Msn</text>
<text x="151.20" y="424.40" font-size="3.5" font-style="italic" fill="#222">Lgals3</text>
<text x="124.30" y="428.00" font-size="3.5" font-style="italic" fill="#222">S100a8</text>
<text x="148.00" y="432.10" font-size="3.5" font-style="italic" fill="#222">Pik3ca</text>
<text x="123.70" y="433.60" font-size="3.5" font-style="italic" fill="#222">S100a9</text>
<text x="140.80" y="442.90" font-size="3.5" text-anchor="end" font-style="italic" fill="#222">Bcl2a</text>
<text x="150.80" y="443.30" font-size="3.5" font-style="italic" fill="#222">Vnn1</text>
<text x="161.50" y="401.00" font-size="3.5" text-anchor="end" font-style="italic" fill="#222">Itgb2</text>
<text x="102.20" y="480.30" font-size="3.5" font-style="italic" fill="#222">Egr1</text>
<text x="104.40" y="487.60" font-size="3.5" text-anchor="end" font-style="italic" fill="#222">Hspa1</text>
<text x="118.60" y="484.30" font-size="3.5" text-anchor="end" font-style="italic" fill="#222">Tmsb4x</text>
<text x="110.30" y="489.50" font-size="3.5" text-anchor="end" font-style="italic" fill="#222">Dnajb1</text>
<text x="133.70" y="483.00" font-size="3.5" font-style="italic" fill="#222">Nfkp1</text>
<text x="127.00" y="489.50" font-size="3.5" font-style="italic" fill="#222">Rgs2</text>
<text x="143.70" y="473.60" font-size="3.5" font-style="italic" fill="#222">Sell</text>
<text x="158.50" y="470.90" font-size="3.5" font-style="italic" fill="#222">Stk10</text>
<text x="179.50" y="467.90" font-size="3.5" font-style="italic" fill="#222">Itgb7</text>
<text x="196.20" y="468.20" font-size="3.5" font-style="italic" fill="#222">Retnlg</text>
<text x="193.50" y="480.00" font-size="3.5" font-style="italic" fill="#222">Epx8</text>
<text x="188.90" y="491.10" font-size="3.5" font-style="italic" fill="#222">Il16</text>
<text x="183.00" y="498.90" font-size="3.5" font-style="italic" fill="#222">Rpl13a</text>
<text x="176.20" y="505.10" font-size="3.5" font-style="italic" fill="#222">Fcer1g</text>
<text x="97.60" y="503.80" font-size="3.5" text-anchor="end" font-style="italic" fill="#222">Abl2</text>
<text x="105.70" y="510.00" font-size="3.5" text-anchor="end" font-style="italic" fill="#222">Vim</text>
<text x="112.50" y="512.40" font-size="3.5" text-anchor="end" font-style="italic" fill="#222">Gna13</text>
<text x="121.70" y="507.60" font-size="3.5" text-anchor="middle" font-style="italic" fill="#222">Tmsb10</text>
<text x="129.10" y="512.70" font-size="3.5" font-style="italic" fill="#222">Mef2c</text>
<text x="141.80" y="499.70" font-size="3.5" font-style="italic" fill="#222">Lmna</text>
<text x="135.10" y="505.60" font-size="3.5" font-style="italic" fill="#222">Coro1b</text>
<text x="83.50" y="378.80" font-size="3.7" text-anchor="middle" fill="#333">Positive regulation</text>
<text x="83.50" y="383.20" font-size="3.7" text-anchor="middle" fill="#333">of cell communication</text>
<text x="142.60" y="376.60" font-size="3.7" text-anchor="middle" fill="#333">Regulation of</text>
<text x="142.60" y="381.00" font-size="3.7" text-anchor="middle" fill="#333">cell-cell adhesion</text>
<text x="187.50" y="351.60" font-size="3.7" text-anchor="middle" fill="#333">Cell-cell</text>
<text x="187.50" y="356.00" font-size="3.7" text-anchor="middle" fill="#333">recognition</text>
<text x="166.90" y="401.20" font-size="3.7" fill="#333">Positive regulation</text>
<text x="166.90" y="405.60" font-size="3.7" fill="#333">of leukocyte adhesion</text>
<text x="166.90" y="410.00" font-size="3.7" fill="#333">to endothelial cell</text>
<text x="121.40" y="444.60" font-size="3.7" text-anchor="middle" fill="#333">Regulation of</text>
<text x="121.40" y="449.00" font-size="3.7" text-anchor="middle" fill="#333">cell migration</text>
<text x="147.90" y="432.80" font-size="3.7" text-anchor="middle" fill="#333">Leukocyte</text>
<text x="147.90" y="437.20" font-size="3.7" text-anchor="middle" fill="#333">cell-cell adhesion</text>
<text x="142.60" y="445.60" font-size="3.7" text-anchor="middle" fill="#333">Leukocyte</text>
<text x="142.60" y="450.00" font-size="3.7" text-anchor="middle" fill="#333">aggregation</text>
<text x="180.70" y="442.40" font-size="3.7" text-anchor="middle" fill="#333">Lymphocyte</text>
<text x="180.70" y="446.80" font-size="3.7" text-anchor="middle" fill="#333">aggregation</text>
<text x="158.50" y="455.60" font-size="3.7" text-anchor="middle" fill="#333">Leukocyte</text>
<text x="158.50" y="460.00" font-size="3.7" text-anchor="middle" fill="#333">migration</text>
</g>
<g id="panel_d">
<text x="240.80" y="293.00" font-size="13.5" font-weight="bold" fill="#000">D</text>
<text x="293.20" y="292.80" font-size="6.6" text-anchor="middle" fill="#333" textLength="48.30" lengthAdjust="spacingAndGlyphs">Mean gene expression</text>
<text x="275.50" y="299.00" font-size="3.8" text-anchor="middle" fill="#333">0.5</text>
<text x="289.80" y="299.00" font-size="3.8" text-anchor="middle" fill="#333">1.0</text>
<text x="304.00" y="299.00" font-size="3.8" text-anchor="middle" fill="#333">1.5</text>
<text x="318.00" y="299.00" font-size="3.8" text-anchor="middle" fill="#333">2.0</text>
<defs><linearGradient id="key3" x1="0" x2="1" y1="0" y2="0"><stop offset="0" stop-color="#fffef4"/><stop offset="0.45" stop-color="#fbeb9a"/><stop offset="1" stop-color="#f2d22e"/></linearGradient></defs>
<rect x="267.20" y="301.30" width="51.70" height="6.20" fill="url(#key3)" stroke="#888" stroke-width="0.4" />
<line x1="275.50" y1="301.30" x2="275.50" y2="302.50" stroke="#666" stroke-width="0.35" />
<line x1="275.50" y1="306.30" x2="275.50" y2="307.50" stroke="#666" stroke-width="0.35" />
<line x1="289.80" y1="301.30" x2="289.80" y2="302.50" stroke="#666" stroke-width="0.35" />
<line x1="289.80" y1="306.30" x2="289.80" y2="307.50" stroke="#666" stroke-width="0.35" />
<line x1="304.00" y1="301.30" x2="304.00" y2="302.50" stroke="#666" stroke-width="0.35" />
<line x1="304.00" y1="306.30" x2="304.00" y2="307.50" stroke="#666" stroke-width="0.35" />
<text x="267.00" y="315.20" font-size="4.0" fill="#222" textLength="30.00" lengthAdjust="spacingAndGlyphs">% Cells expressed</text>
<circle cx="265.50" cy="323.70" r="0.90" fill="#000" />
<circle cx="269.60" cy="323.70" r="1.80" fill="#000" />
<circle cx="275.00" cy="323.70" r="3.50" fill="#000" />
<circle cx="285.00" cy="323.70" r="5.40" fill="#000" />
<circle cx="298.00" cy="323.70" r="7.40" fill="#000" />
<text x="266.50" y="333.50" font-size="3.5" text-anchor="end" fill="#222" transform="rotate(-45 266.50 333.50)">12.5%</text>
<text x="270.00" y="333.50" font-size="3.5" text-anchor="end" fill="#222" transform="rotate(-45 270.00 333.50)">25%</text>
<text x="275.50" y="333.50" font-size="3.5" text-anchor="end" fill="#222" transform="rotate(-45 275.50 333.50)">50%</text>
<text x="285.00" y="335.00" font-size="3.5" text-anchor="end" fill="#222" transform="rotate(-45 285.00 335.00)">75%</text>
<text x="298.00" y="335.00" font-size="3.5" text-anchor="end" fill="#222" transform="rotate(-45 298.00 335.00)">100%</text>
<text x="312.80" y="329.00" font-size="3.4" text-anchor="middle" fill="#333">No. of</text>
<text x="312.80" y="333.00" font-size="3.4" text-anchor="middle" fill="#333">TF</text>
<text x="312.80" y="337.20" font-size="3.4" text-anchor="middle" fill="#333">BS/Gene</text>
<rect x="306.50" y="341.50" width="12.80" height="154.30" fill="#fff" />
<text x="284.60" y="349.10" font-size="4.8" text-anchor="end" font-style="italic" fill="#333">S100a4</text>
<circle cx="290.60" cy="347.40" r="0.50" fill="#bbb" stroke="#777" stroke-width="0.4" />
<circle cx="300.50" cy="347.40" r="4.90" fill="#f5dc4a" stroke="#777" stroke-width="0.4" />
<rect x="310.80" y="341.50" width="4.30" height="10.80" fill="#9a9a9a" />
<text x="312.95" y="347.90" font-size="2.6" text-anchor="middle" fill="#555">4</text>
<rect x="315.10" y="341.50" width="4.20" height="10.80" fill="#9a9a9a" />
<text x="317.20" y="347.90" font-size="2.6" text-anchor="middle" fill="#555">3</text>
<text x="284.60" y="360.20" font-size="4.8" text-anchor="end" font-style="italic" fill="#333">S100a9</text>
<circle cx="290.60" cy="358.50" r="2.60" fill="#fae98c" stroke="#777" stroke-width="0.4" />
<circle cx="300.50" cy="358.50" r="5.00" fill="#f2d22e" stroke="#777" stroke-width="0.4" />
<rect x="310.80" y="352.30" width="4.30" height="11.50" fill="#9a9a9a" />
<text x="312.95" y="359.05" font-size="2.6" text-anchor="middle" fill="#555">3</text>
<rect x="315.10" y="352.30" width="4.20" height="11.50" fill="#9a9a9a" />
<text x="317.20" y="359.05" font-size="2.6" text-anchor="middle" fill="#555">2</text>
<text x="284.60" y="370.30" font-size="4.8" text-anchor="end" font-style="italic" fill="#333">Cd44</text>
<circle cx="290.60" cy="368.60" r="2.70" fill="#fffbe4" stroke="#777" stroke-width="0.4" />
<circle cx="300.50" cy="368.60" r="3.30" fill="#fdf3c0" stroke="#777" stroke-width="0.4" />
<rect x="315.10" y="363.80" width="4.20" height="8.60" fill="#9a9a9a" />
<text x="317.20" y="369.10" font-size="2.6" text-anchor="middle" fill="#555">1</text>
<text x="284.60" y="378.30" font-size="4.8" text-anchor="end" font-style="italic" fill="#333">Flna</text>
<circle cx="290.60" cy="376.60" r="1.20" fill="#fffbe4" stroke="#777" stroke-width="0.4" />
<circle cx="300.50" cy="376.60" r="3.10" fill="#fffbe0" stroke="#777" stroke-width="0.4" />
<rect x="310.80" y="372.40" width="4.30" height="8.20" fill="#9a9a9a" />
<text x="312.95" y="377.50" font-size="2.6" text-anchor="middle" fill="#555">1</text>
<rect x="315.10" y="372.40" width="4.20" height="8.20" fill="#9a9a9a" />
<text x="317.20" y="377.50" font-size="2.6" text-anchor="middle" fill="#555">4</text>
<text x="284.60" y="386.40" font-size="4.8" text-anchor="end" font-style="italic" fill="#333">Cd86</text>
<circle cx="290.60" cy="384.70" r="1.70" fill="#fcee9c" stroke="#777" stroke-width="0.4" />
<circle cx="300.50" cy="384.70" r="3.00" fill="#faea8c" stroke="#777" stroke-width="0.4" />
<rect x="306.50" y="380.60" width="4.30" height="8.20" fill="#9a9a9a" />
<text x="308.65" y="385.70" font-size="2.6" text-anchor="middle" fill="#555">1</text>
<rect x="315.10" y="380.60" width="4.20" height="8.20" fill="#9a9a9a" />
<text x="317.20" y="385.70" font-size="2.6" text-anchor="middle" fill="#555">3</text>
<text x="284.60" y="394.50" font-size="4.8" text-anchor="end" font-style="italic" fill="#333">Map3k1</text>
<circle cx="290.60" cy="392.80" r="1.70" fill="#fff" stroke="#777" stroke-width="0.4" />
<circle cx="300.50" cy="392.80" r="2.80" fill="#fdf5c8" stroke="#777" stroke-width="0.4" />
<rect x="306.50" y="388.80" width="4.30" height="8.10" fill="#9a9a9a" />
<text x="308.65" y="393.85" font-size="2.6" text-anchor="middle" fill="#555">4</text>
<rect x="315.10" y="388.80" width="4.20" height="8.10" fill="#9a9a9a" />
<text x="317.20" y="393.85" font-size="2.6" text-anchor="middle" fill="#555">2</text>
<text x="284.60" y="402.70" font-size="4.8" text-anchor="end" font-style="italic" fill="#333">Pik3r1</text>
<circle cx="290.60" cy="401.00" r="1.30" fill="#fff" stroke="#777" stroke-width="0.4" />
<circle cx="300.50" cy="401.00" r="2.70" fill="#fdf3c0" stroke="#777" stroke-width="0.4" />
<rect x="315.10" y="396.90" width="4.20" height="8.10" fill="#9a9a9a" />
<text x="317.20" y="401.95" font-size="2.6" text-anchor="middle" fill="#555">1</text>
<text x="284.60" y="410.80" font-size="4.8" text-anchor="end" font-style="italic" fill="#333">Itga4</text>
<circle cx="290.60" cy="409.10" r="0.50" fill="#bbb" stroke="#777" stroke-width="0.4" />
<circle cx="300.50" cy="409.10" r="2.50" fill="#fcf0a8" stroke="#777" stroke-width="0.4" />
<rect x="306.50" y="405.00" width="4.30" height="8.10" fill="#9a9a9a" />
<text x="308.65" y="410.05" font-size="2.6" text-anchor="middle" fill="#555">2</text>
<text x="284.60" y="418.70" font-size="4.8" text-anchor="end" font-style="italic" fill="#333">Cd274</text>
<circle cx="290.60" cy="417.00" r="0.40" fill="#bbb" stroke="#777" stroke-width="0.4" />
<circle cx="300.50" cy="417.00" r="2.00" fill="#fbea80" stroke="#777" stroke-width="0.4" />
<rect x="315.10" y="413.10" width="4.20" height="8.00" fill="#9a9a9a" />
<text x="317.20" y="418.10" font-size="2.6" text-anchor="middle" fill="#555">3</text>
<text x="284.60" y="426.90" font-size="4.8" text-anchor="end" font-style="italic" fill="#333">Zmiz1</text>
<circle cx="290.60" cy="425.20" r="0.40" fill="#bbb" stroke="#777" stroke-width="0.4" />
<circle cx="300.50" cy="425.20" r="2.00" fill="#f8e060" stroke="#777" stroke-width="0.4" />
<text x="284.60" y="435.00" font-size="4.8" text-anchor="end" font-style="italic" fill="#333">Hes1</text>
<circle cx="290.60" cy="433.30" r="0.40" fill="#bbb" stroke="#777" stroke-width="0.4" />
<circle cx="300.50" cy="433.30" r="1.60" fill="#fbea80" stroke="#777" stroke-width="0.4" />
<rect x="315.10" y="429.20" width="4.20" height="8.10" fill="#9a9a9a" />
<text x="317.20" y="434.25" font-size="2.6" text-anchor="middle" fill="#555">1</text>
<text x="284.60" y="443.00" font-size="4.8" text-anchor="end" font-style="italic" fill="#333">Xbp1</text>
<circle cx="290.60" cy="441.30" r="1.70" fill="#f8e060" stroke="#777" stroke-width="0.4" />
<circle cx="300.50" cy="441.30" r="0.90" fill="#f8e060" stroke="#777" stroke-width="0.4" />
<rect x="315.10" y="437.30" width="4.20" height="8.10" fill="#9a9a9a" />
<text x="317.20" y="442.35" font-size="2.6" text-anchor="middle" fill="#555">4</text>
<text x="284.60" y="451.30" font-size="4.8" text-anchor="end" font-style="italic" fill="#333">Myc</text>
<circle cx="290.60" cy="449.60" r="1.90" fill="#fcf0a8" stroke="#777" stroke-width="0.4" />
<circle cx="300.50" cy="449.60" r="0.80" fill="#fcf0a8" stroke="#777" stroke-width="0.4" />
<rect x="306.50" y="445.40" width="4.30" height="8.20" fill="#9a9a9a" />
<text x="308.65" y="450.50" font-size="2.6" text-anchor="middle" fill="#555">1</text>
<text x="284.60" y="459.40" font-size="4.8" text-anchor="end" font-style="italic" fill="#333">Bid</text>
<circle cx="290.60" cy="457.70" r="2.20" fill="#fcf0a8" stroke="#777" stroke-width="0.4" />
<circle cx="300.50" cy="457.70" r="0.80" fill="#fcf0a8" stroke="#777" stroke-width="0.4" />
<rect x="310.80" y="453.60" width="4.30" height="8.20" fill="#9a9a9a" />
<text x="312.95" y="458.70" font-size="2.6" text-anchor="middle" fill="#555">3</text>
<text x="284.60" y="467.70" font-size="4.8" text-anchor="end" font-style="italic" fill="#333">Il16</text>
<circle cx="290.60" cy="466.00" r="2.30" fill="#f5dc4a" stroke="#777" stroke-width="0.4" />
<circle cx="300.50" cy="466.00" r="0.90" fill="#f5dc4a" stroke="#777" stroke-width="0.4" />
<rect x="310.80" y="461.80" width="4.30" height="8.20" fill="#9a9a9a" />
<text x="312.95" y="466.90" font-size="2.6" text-anchor="middle" fill="#555">2</text>
<rect x="315.10" y="461.80" width="4.20" height="8.20" fill="#9a9a9a" />
<text x="317.20" y="466.90" font-size="2.6" text-anchor="middle" fill="#555">1</text>
<text x="284.60" y="475.70" font-size="4.8" text-anchor="end" font-style="italic" fill="#333">Bcl2</text>
<circle cx="290.60" cy="474.00" r="3.00" fill="#fcf0a8" stroke="#777" stroke-width="0.4" />
<circle cx="300.50" cy="474.00" r="1.60" fill="#fff" stroke="#777" stroke-width="0.4" />
<rect x="306.50" y="470.00" width="4.30" height="8.20" fill="#9a9a9a" />
<text x="308.65" y="475.10" font-size="2.6" text-anchor="middle" fill="#555">2</text>
<text x="284.60" y="484.00" font-size="4.8" text-anchor="end" font-style="italic" fill="#333">Trp53</text>
<circle cx="290.60" cy="482.30" r="3.80" fill="#fbeb90" stroke="#777" stroke-width="0.4" />
<circle cx="300.50" cy="482.30" r="2.00" fill="#fdf5c8" stroke="#777" stroke-width="0.4" />
<rect x="315.10" y="478.20" width="4.20" height="8.30" fill="#9a9a9a" />
<text x="317.20" y="483.35" font-size="2.6" text-anchor="middle" fill="#555">3</text>
<text x="282.70" y="492.90" font-size="4.8" text-anchor="end" font-style="italic" fill="#333">Blk</text>
<circle cx="290.60" cy="491.20" r="5.20" fill="#fdf5c0" stroke="#777" stroke-width="0.4" />
<circle cx="300.50" cy="491.20" r="3.40" fill="#fffef8" stroke="#777" stroke-width="0.4" />
<rect x="306.50" y="486.50" width="4.30" height="9.30" fill="#9a9a9a" />
<text x="308.65" y="492.15" font-size="2.6" text-anchor="middle" fill="#555">4</text>
<rect x="315.10" y="486.50" width="4.20" height="9.30" fill="#9a9a9a" />
<text x="317.20" y="492.15" font-size="2.6" text-anchor="middle" fill="#555">2</text>
<line x1="306.50" y1="341.50" x2="319.30" y2="341.50" stroke="#444" stroke-width="0.45" />
<line x1="306.50" y1="352.30" x2="319.30" y2="352.30" stroke="#444" stroke-width="0.45" />
<line x1="306.50" y1="363.80" x2="319.30" y2="363.80" stroke="#444" stroke-width="0.45" />
<line x1="306.50" y1="372.40" x2="319.30" y2="372.40" stroke="#444" stroke-width="0.45" />
<line x1="306.50" y1="380.60" x2="319.30" y2="380.60" stroke="#444" stroke-width="0.45" />
<line x1="306.50" y1="388.80" x2="319.30" y2="388.80" stroke="#444" stroke-width="0.45" />
<line x1="306.50" y1="396.90" x2="319.30" y2="396.90" stroke="#444" stroke-width="0.45" />
<line x1="306.50" y1="405.00" x2="319.30" y2="405.00" stroke="#444" stroke-width="0.45" />
<line x1="306.50" y1="413.10" x2="319.30" y2="413.10" stroke="#444" stroke-width="0.45" />
<line x1="306.50" y1="421.10" x2="319.30" y2="421.10" stroke="#444" stroke-width="0.45" />
<line x1="306.50" y1="429.20" x2="319.30" y2="429.20" stroke="#444" stroke-width="0.45" />
<line x1="306.50" y1="437.30" x2="319.30" y2="437.30" stroke="#444" stroke-width="0.45" />
<line x1="306.50" y1="445.40" x2="319.30" y2="445.40" stroke="#444" stroke-width="0.45" />
<line x1="306.50" y1="453.60" x2="319.30" y2="453.60" stroke="#444" stroke-width="0.45" />
<line x1="306.50" y1="461.80" x2="319.30" y2="461.80" stroke="#444" stroke-width="0.45" />
<line x1="306.50" y1="470.00" x2="319.30" y2="470.00" stroke="#444" stroke-width="0.45" />
<line x1="306.50" y1="478.20" x2="319.30" y2="478.20" stroke="#444" stroke-width="0.45" />
<line x1="306.50" y1="486.50" x2="319.30" y2="486.50" stroke="#444" stroke-width="0.45" />
<line x1="306.50" y1="495.80" x2="319.30" y2="495.80" stroke="#444" stroke-width="0.45" />
<line x1="310.80" y1="341.50" x2="310.80" y2="495.80" stroke="#444" stroke-width="0.45" />
<line x1="315.10" y1="341.50" x2="315.10" y2="495.80" stroke="#444" stroke-width="0.45" />
<line x1="319.30" y1="341.50" x2="319.30" y2="495.80" stroke="#444" stroke-width="0.45" />
<line x1="306.30" y1="341.30" x2="306.30" y2="498.20" stroke="#444" stroke-width="1.3" />
<line x1="286.20" y1="497.60" x2="306.90" y2="497.60" stroke="#444" stroke-width="1.3" />
<line x1="264.60" y1="437.30" x2="306.00" y2="437.30" stroke="#555" stroke-width="0.6" stroke-dasharray="2 1.4"/>
<line x1="264.20" y1="410.00" x2="264.20" y2="434.60" stroke="#777" stroke-width="0.9" />
<path d="M264.20,405.80 L262.00,411.50 L266.40,411.50 Z" fill="#777" />
<line x1="264.20" y1="440.00" x2="264.20" y2="468.50" stroke="#777" stroke-width="0.9" />
<path d="M264.20,472.70 L262.00,467.00 L266.40,467.00 Z" fill="#777" />
<text x="259.60" y="419.50" font-size="6.2" text-anchor="middle" fill="#444" textLength="27.00" lengthAdjust="spacingAndGlyphs" transform="rotate(-90 259.60 419.50)">Upregulated</text>
<text x="259.60" y="456.50" font-size="6.2" text-anchor="middle" fill="#444" textLength="33.00" lengthAdjust="spacingAndGlyphs" transform="rotate(-90 259.60 456.50)">Downregulated</text>
<text x="294.00" y="500.80" font-size="3.0" text-anchor="end" fill="#3d5a99" transform="rotate(-55 294.00 500.80)">Eµ-<tspan font-style="italic">TCL1</tspan></text>
<text x="302.00" y="500.80" font-size="3.0" text-anchor="end" fill="#c0243c" transform="rotate(-55 302.00 500.80)">Eµ-<tspan font-style="italic">TCL1 Akt-C</tspan></text>
<text x="310.00" y="500.50" font-size="3.0" text-anchor="end" fill="#222" transform="rotate(-55 310.00 500.50)">FoxO3</text>
<text x="314.50" y="500.50" font-size="3.0" text-anchor="end" fill="#222" transform="rotate(-55 314.50 500.50)">Tcf3</text>
<text x="319.00" y="500.50" font-size="3.0" text-anchor="end" fill="#222" transform="rotate(-55 319.00 500.50)">Notch1</text>
<circle cx="365.40" cy="290.10" r="1.50" fill="#2b3a67" />
<text x="370.60" y="291.70" font-size="4.6" fill="#333"><tspan font-style="italic">Cd19-Cre</tspan></text>
<circle cx="406.00" cy="290.10" r="1.50" fill="#2a4f94" />
<text x="411.20" y="291.70" font-size="4.6" fill="#333">Eµ-<tspan font-style="italic">TCL1</tspan></text>
<circle cx="457.90" cy="290.10" r="1.50" fill="#b5122f" />
<text x="463.10" y="291.70" font-size="4.6" fill="#333">Eµ-<tspan font-style="italic">TCL1</tspan><tspan font-size="2.5" dy="-1.6" font-style="italic">Akt-C</tspan></text>
<circle cx="365.40" cy="302.20" r="1.50" fill="#c9c9cf" />
<text x="370.60" y="303.80" font-size="4.6" fill="#333"><tspan font-style="italic">GSK3b</tspan><tspan font-size="2.5" dy="-1.6" font-style="italic">fl/fl/fl</tspan></text>
<circle cx="406.00" cy="302.20" r="1.50" fill="#9c9cb8" />
<text x="411.20" y="303.80" font-size="4.6" fill="#333"><tspan font-style="italic">Cd19-Cre</tspan><tspan font-size="2.5" dy="-1.6" font-style="italic">Foxo1-ADA</tspan></text>
<circle cx="457.90" cy="302.20" r="1.50" fill="#4a2370" />
<text x="463.10" y="303.80" font-size="4.6" fill="#333"><tspan font-style="italic">Cd19-Cre</tspan><tspan font-size="2.5" dy="-1.6" font-style="italic">Notch1-IC</tspan></text>
<text x="384.60" y="321.20" font-size="7.4" text-anchor="middle" font-style="italic" fill="#222" textLength="24.00" lengthAdjust="spacingAndGlyphs">S100a4</text>
<line x1="357.80" y1="327.30" x2="357.80" y2="399.80" stroke="#000" stroke-width="1.0" />
<line x1="357.30" y1="399.30" x2="411.20" y2="399.30" stroke="#000" stroke-width="1.0" />
<line x1="354.00" y1="330.10" x2="357.80" y2="330.10" stroke="#000" stroke-width="0.8" />
<text x="351.40" y="331.85" font-size="5.0" text-anchor="end" fill="#333" textLength="7.95" lengthAdjust="spacingAndGlyphs">300</text>
<line x1="354.00" y1="353.20" x2="357.80" y2="353.20" stroke="#000" stroke-width="0.8" />
<text x="351.40" y="354.95" font-size="5.0" text-anchor="end" fill="#333" textLength="7.95" lengthAdjust="spacingAndGlyphs">200</text>
<line x1="354.00" y1="376.20" x2="357.80" y2="376.20" stroke="#000" stroke-width="0.8" />
<text x="351.40" y="377.95" font-size="5.0" text-anchor="end" fill="#333" textLength="7.95" lengthAdjust="spacingAndGlyphs">100</text>
<line x1="354.00" y1="399.30" x2="357.80" y2="399.30" stroke="#000" stroke-width="0.8" />
<text x="351.40" y="401.05" font-size="5.0" text-anchor="end" fill="#333" textLength="2.65" lengthAdjust="spacingAndGlyphs">0</text>
<line x1="372.70" y1="399.30" x2="372.70" y2="402.50" stroke="#000" stroke-width="0.8" />
<line x1="396.10" y1="399.30" x2="396.10" y2="402.50" stroke="#000" stroke-width="0.8" />
<text x="337.20" y="364.50" font-size="6.6" text-anchor="middle" fill="#333" textLength="63.50" lengthAdjust="spacingAndGlyphs" transform="rotate(-90 337.20 364.50)">Relative gene expression</text>
<circle cx="372.70" cy="391.20" r="1.65" fill="#2b3a67" />
<circle cx="369.00" cy="396.50" r="1.65" fill="#2b3a67" />
<circle cx="371.00" cy="396.70" r="1.65" fill="#2b3a67" />
<circle cx="373.00" cy="396.50" r="1.65" fill="#2b3a67" />
<circle cx="375.00" cy="396.70" r="1.65" fill="#2b3a67" />
<circle cx="376.60" cy="396.50" r="1.65" fill="#2b3a67" />
<circle cx="372.70" cy="398.00" r="1.65" fill="#2b3a67" />
<line x1="366.50" y1="396.50" x2="379.30" y2="396.50" stroke="#000" stroke-width="1.0" />
<circle cx="394.70" cy="345.30" r="1.65" fill="#b5122f" />
<circle cx="397.00" cy="345.30" r="1.65" fill="#b5122f" />
<circle cx="397.00" cy="355.80" r="1.65" fill="#b5122f" />
<circle cx="395.00" cy="356.80" r="1.65" fill="#b5122f" />
<circle cx="396.10" cy="361.60" r="1.65" fill="#b5122f" />
<circle cx="396.10" cy="395.80" r="1.65" fill="#b5122f" />
<line x1="389.90" y1="353.90" x2="402.70" y2="353.90" stroke="#000" stroke-width="1.0" />
<path d="M372.7,388.8 V337.6 H396.1 V341.2" fill="none" stroke="#000" stroke-width="0.9" />
<text x="384.40" y="338.20" font-size="5.5" text-anchor="middle" font-weight="bold" fill="#000">***</text>
<text x="477.60" y="321.20" font-size="7.4" text-anchor="middle" font-style="italic" fill="#222" textLength="24.00" lengthAdjust="spacingAndGlyphs">S100a4</text>
<line x1="450.80" y1="329.20" x2="450.80" y2="400.00" stroke="#000" stroke-width="1.0" />
<line x1="450.30" y1="399.50" x2="509.00" y2="399.50" stroke="#000" stroke-width="1.0" />
<line x1="447.00" y1="331.80" x2="450.80" y2="331.80" stroke="#000" stroke-width="0.8" />
<text x="444.40" y="333.55" font-size="5.0" text-anchor="end" fill="#333" textLength="5.30" lengthAdjust="spacingAndGlyphs">10</text>
<line x1="447.00" y1="345.40" x2="450.80" y2="345.40" stroke="#000" stroke-width="0.8" />
<text x="444.40" y="347.15" font-size="5.0" text-anchor="end" fill="#333" textLength="2.65" lengthAdjust="spacingAndGlyphs">8</text>
<line x1="447.00" y1="358.90" x2="450.80" y2="358.90" stroke="#000" stroke-width="0.8" />
<text x="444.40" y="360.65" font-size="5.0" text-anchor="end" fill="#333" textLength="2.65" lengthAdjust="spacingAndGlyphs">6</text>
<line x1="447.00" y1="372.50" x2="450.80" y2="372.50" stroke="#000" stroke-width="0.8" />
<text x="444.40" y="374.25" font-size="5.0" text-anchor="end" fill="#333" textLength="2.65" lengthAdjust="spacingAndGlyphs">4</text>
<line x1="447.00" y1="386.00" x2="450.80" y2="386.00" stroke="#000" stroke-width="0.8" />
<text x="444.40" y="387.75" font-size="5.0" text-anchor="end" fill="#333" textLength="2.65" lengthAdjust="spacingAndGlyphs">2</text>
<line x1="447.00" y1="399.50" x2="450.80" y2="399.50" stroke="#000" stroke-width="0.8" />
<text x="444.40" y="401.25" font-size="5.0" text-anchor="end" fill="#333" textLength="2.65" lengthAdjust="spacingAndGlyphs">0</text>
<line x1="461.20" y1="399.50" x2="461.20" y2="402.70" stroke="#000" stroke-width="0.8" />
<line x1="477.20" y1="399.50" x2="477.20" y2="402.70" stroke="#000" stroke-width="0.8" />
<line x1="493.40" y1="399.50" x2="493.40" y2="402.70" stroke="#000" stroke-width="0.8" />
<text x="433.60" y="362.70" font-size="6.6" text-anchor="middle" fill="#333" textLength="63.50" lengthAdjust="spacingAndGlyphs" transform="rotate(-90 433.60 362.70)">Relative gene expression</text>
<circle cx="461.50" cy="365.10" r="1.65" fill="#c9c9cf" />
<circle cx="461.50" cy="378.20" r="1.65" fill="#c9c9cf" />
<circle cx="461.50" cy="381.50" r="1.65" fill="#c9c9cf" />
<circle cx="461.50" cy="393.10" r="1.65" fill="#c9c9cf" />
<circle cx="476.20" cy="376.50" r="1.65" fill="#9c9cb8" />
<circle cx="478.50" cy="376.30" r="1.65" fill="#9c9cb8" />
<circle cx="475.40" cy="392.60" r="1.65" fill="#9c9cb8" />
<circle cx="479.20" cy="391.50" r="1.65" fill="#9c9cb8" />
<circle cx="477.40" cy="393.10" r="1.65" fill="#9c9cb8" />
<circle cx="477.20" cy="396.50" r="1.65" fill="#9c9cb8" />
<circle cx="493.40" cy="348.20" r="1.65" fill="#4a2370" />
<circle cx="493.40" cy="359.70" r="1.65" fill="#4a2370" />
<circle cx="493.40" cy="361.80" r="1.65" fill="#4a2370" />
<circle cx="494.60" cy="377.70" r="1.65" fill="#4a2370" />
<circle cx="492.30" cy="379.20" r="1.65" fill="#4a2370" />
<line x1="486.50" y1="362.00" x2="501.50" y2="362.00" stroke="#000" stroke-width="1.0" />
<path d="M477.2,370.8 V339.2 H493.4 V343" fill="none" stroke="#000" stroke-width="0.9" />
<text x="485.30" y="339.80" font-size="5.5" text-anchor="middle" font-weight="bold" fill="#000">*</text>
<text x="384.60" y="419.50" font-size="7.4" text-anchor="middle" font-style="italic" fill="#222" textLength="16.20" lengthAdjust="spacingAndGlyphs">Hes1</text>
<line x1="357.80" y1="425.40" x2="357.80" y2="505.90" stroke="#000" stroke-width="1.0" />
<line x1="357.30" y1="505.40" x2="411.20" y2="505.40" stroke="#000" stroke-width="1.0" />
<line x1="354.00" y1="428.50" x2="357.80" y2="428.50" stroke="#000" stroke-width="0.8" />
<text x="351.40" y="430.25" font-size="5.0" text-anchor="end" fill="#333" textLength="2.65" lengthAdjust="spacingAndGlyphs">6</text>
<line x1="354.00" y1="454.30" x2="357.80" y2="454.30" stroke="#000" stroke-width="0.8" />
<text x="351.40" y="456.05" font-size="5.0" text-anchor="end" fill="#333" textLength="2.65" lengthAdjust="spacingAndGlyphs">4</text>
<line x1="354.00" y1="480.00" x2="357.80" y2="480.00" stroke="#000" stroke-width="0.8" />
<text x="351.40" y="481.75" font-size="5.0" text-anchor="end" fill="#333" textLength="2.65" lengthAdjust="spacingAndGlyphs">2</text>
<line x1="354.00" y1="505.40" x2="357.80" y2="505.40" stroke="#000" stroke-width="0.8" />
<text x="351.40" y="507.15" font-size="5.0" text-anchor="end" fill="#333" textLength="2.65" lengthAdjust="spacingAndGlyphs">0</text>
<line x1="372.70" y1="505.40" x2="372.70" y2="508.60" stroke="#000" stroke-width="0.8" />
<line x1="396.10" y1="505.40" x2="396.10" y2="508.60" stroke="#000" stroke-width="0.8" />
<text x="342.80" y="468.10" font-size="6.6" text-anchor="middle" fill="#333" textLength="63.50" lengthAdjust="spacingAndGlyphs" transform="rotate(-90 342.80 468.10)">Relative gene expression</text>
<circle cx="372.70" cy="481.80" r="1.65" fill="#2a4f94" />
<circle cx="372.70" cy="491.10" r="1.65" fill="#2a4f94" />
<circle cx="371.20" cy="494.30" r="1.65" fill="#2a4f94" />
<circle cx="374.70" cy="494.30" r="1.65" fill="#2a4f94" />
<circle cx="371.20" cy="499.20" r="1.65" fill="#2a4f94" />
<circle cx="374.50" cy="499.20" r="1.65" fill="#2a4f94" />
<line x1="366.20" y1="494.30" x2="379.60" y2="494.30" stroke="#000" stroke-width="1.0" />
<circle cx="396.10" cy="451.80" r="1.65" fill="#b5122f" />
<circle cx="396.10" cy="456.90" r="1.65" fill="#b5122f" />
<circle cx="396.10" cy="468.00" r="1.65" fill="#b5122f" />
<circle cx="396.10" cy="473.10" r="1.65" fill="#b5122f" />
<circle cx="396.10" cy="477.20" r="1.65" fill="#b5122f" />
<circle cx="394.20" cy="485.40" r="1.65" fill="#b5122f" />
<circle cx="397.80" cy="485.40" r="1.65" fill="#b5122f" />
<line x1="389.20" y1="473.40" x2="402.70" y2="473.40" stroke="#000" stroke-width="1.0" />
<path d="M372.7,477.7 V436.9 H396.1 V448.5" fill="none" stroke="#000" stroke-width="0.9" />
<text x="384.40" y="437.50" font-size="5.5" text-anchor="middle" font-weight="bold" fill="#000">**</text>
<text x="479.10" y="419.60" font-size="7.2" text-anchor="middle" fill="#222" textLength="45.20" lengthAdjust="spacingAndGlyphs">Cd274 (Pd-l1)</text>
<path d="M450.40,498.50 C450.92,497.40 451.88,495.70 453.00,493.00 C454.12,490.30 454.80,488.20 456.00,485.00 C457.20,481.80 457.94,479.12 459.00,477.00 C460.06,474.88 460.40,474.40 461.30,474.40 C462.20,474.40 462.56,474.88 463.50,477.00 C464.44,479.12 464.90,481.20 466.00,485.00 C467.10,488.80 467.80,492.40 469.00,496.00 C470.20,499.60 471.00,501.20 472.00,503.00 C473.00,504.80 473.60,504.60 474.00,505.00 L474,505.2 L450.4,505.2 Z" fill="#4a5068" />
<path d="M462.00,505.00 C462.60,504.00 463.80,503.00 465.00,500.00 C466.20,497.00 466.90,494.60 468.00,490.00 C469.10,485.40 469.50,482.60 470.50,477.00 C471.50,471.40 472.06,466.48 473.00,462.00 C473.94,457.52 474.40,455.60 475.20,454.60 C476.00,453.60 476.34,453.92 477.00,457.00 C477.66,460.08 477.78,463.40 478.50,470.00 C479.22,476.60 479.70,483.40 480.60,490.00 C481.50,496.60 482.12,500.00 483.00,503.00 C483.88,506.00 484.60,504.60 485.00,505.00 L485,505.2 L462,505.2 Z" fill="#2a4f94" />
<path d="M464.00,505.00 C465.20,504.60 467.80,503.90 470.00,503.00 C472.20,502.10 473.26,501.60 475.00,500.50 C476.74,499.40 477.60,500.00 478.70,497.50 C479.80,495.00 479.84,494.30 480.50,488.00 C481.16,481.70 481.40,474.40 482.00,466.00 C482.60,457.60 483.02,451.16 483.50,446.00 C483.98,440.84 483.98,440.20 484.40,440.20 C484.82,440.20 485.08,441.24 485.60,446.00 C486.12,450.76 486.36,456.00 487.00,464.00 C487.64,472.00 488.10,479.00 488.80,486.00 C489.50,493.00 489.76,495.40 490.50,499.00 C491.24,502.60 491.80,502.80 492.50,504.00 C493.20,505.20 493.70,504.80 494.00,505.00 L494,505.2 L464,505.2 Z" fill="#b5122f" />
<path d="M502.50,505.20 L504.00,502.90 L505.50,505.20 Z" fill="#b5122f" />
<line x1="450.40" y1="429.20" x2="450.40" y2="505.70" stroke="#000" stroke-width="1.0" />
<line x1="449.90" y1="505.20" x2="507.50" y2="505.20" stroke="#000" stroke-width="1.0" />
<line x1="447.60" y1="432.10" x2="450.40" y2="432.10" stroke="#000" stroke-width="0.8" />
<text x="445.00" y="433.85" font-size="4.4" text-anchor="end" fill="#333" textLength="9.33" lengthAdjust="spacingAndGlyphs">1,2K</text>
<line x1="447.60" y1="450.40" x2="450.40" y2="450.40" stroke="#000" stroke-width="0.8" />
<text x="445.00" y="452.15" font-size="4.4" text-anchor="end" fill="#333" textLength="7.00" lengthAdjust="spacingAndGlyphs">900</text>
<line x1="447.60" y1="468.70" x2="450.40" y2="468.70" stroke="#000" stroke-width="0.8" />
<text x="445.00" y="470.45" font-size="4.4" text-anchor="end" fill="#333" textLength="7.00" lengthAdjust="spacingAndGlyphs">600</text>
<line x1="447.60" y1="486.90" x2="450.40" y2="486.90" stroke="#000" stroke-width="0.8" />
<text x="445.00" y="488.65" font-size="4.4" text-anchor="end" fill="#333" textLength="7.00" lengthAdjust="spacingAndGlyphs">300</text>
<line x1="447.60" y1="505.20" x2="450.40" y2="505.20" stroke="#000" stroke-width="0.8" />
<text x="445.00" y="506.95" font-size="4.4" text-anchor="end" fill="#333" textLength="2.33" lengthAdjust="spacingAndGlyphs">0</text>
<line x1="450.80" y1="505.20" x2="450.80" y2="508.00" stroke="#000" stroke-width="0.8" />
<line x1="464.20" y1="505.20" x2="464.20" y2="508.00" stroke="#000" stroke-width="0.8" />
<line x1="477.70" y1="505.20" x2="477.70" y2="508.00" stroke="#000" stroke-width="0.8" />
<line x1="491.20" y1="505.20" x2="491.20" y2="508.00" stroke="#000" stroke-width="0.8" />
<line x1="504.60" y1="505.20" x2="504.60" y2="508.00" stroke="#000" stroke-width="0.8" />
<text x="450.80" y="516.60" font-size="4.3" text-anchor="middle" fill="#333">10<tspan font-size="2.8" dy="-2">1</tspan></text>
<text x="464.20" y="516.60" font-size="4.3" text-anchor="middle" fill="#333">10<tspan font-size="2.8" dy="-2">0</tspan></text>
<text x="477.70" y="516.60" font-size="4.3" text-anchor="middle" fill="#333">10<tspan font-size="2.8" dy="-2">1</tspan></text>
<text x="491.20" y="516.60" font-size="4.3" text-anchor="middle" fill="#333">10<tspan font-size="2.8" dy="-2">2</tspan></text>
<text x="504.60" y="516.60" font-size="4.3" text-anchor="middle" fill="#333">10<tspan font-size="2.8" dy="-2">3</tspan></text>
<text x="477.10" y="527.40" font-size="5.6" text-anchor="middle" fill="#333" textLength="8.50" lengthAdjust="spacingAndGlyphs">MFI</text>
<text x="428.40" y="469.10" font-size="6.2" text-anchor="middle" fill="#333" textLength="14.40" lengthAdjust="spacingAndGlyphs" transform="rotate(-90 428.40 469.10)">Count</text>
</g>
<g id="panel_e">
<text x="8.00" y="551.50" font-size="13.5" font-weight="bold" fill="#000">E</text>
<text x="54.00" y="552.20" font-size="7.4" fill="#222" textLength="41.50" lengthAdjust="spacingAndGlyphs"><tspan font-style="italic">Cd4</tspan><tspan font-size="4.2" dy="-3">+</tspan><tspan dy="3"> T-cells</tspan></text>
<line x1="44.80" y1="557.50" x2="44.80" y2="674.20" stroke="#000" stroke-width="0.9" />
<line x1="44.40" y1="673.80" x2="103.50" y2="673.80" stroke="#000" stroke-width="0.9" />
<line x1="41.20" y1="673.80" x2="44.80" y2="673.80" stroke="#000" stroke-width="0.8" />
<text x="39.60" y="675.70" font-size="5.4" text-anchor="end" fill="#333" textLength="2.90" lengthAdjust="spacingAndGlyphs">0</text>
<line x1="41.20" y1="651.12" x2="44.80" y2="651.12" stroke="#000" stroke-width="0.8" />
<text x="39.60" y="653.02" font-size="5.4" text-anchor="end" fill="#333" textLength="5.80" lengthAdjust="spacingAndGlyphs">10</text>
<line x1="41.20" y1="628.44" x2="44.80" y2="628.44" stroke="#000" stroke-width="0.8" />
<text x="39.60" y="630.34" font-size="5.4" text-anchor="end" fill="#333" textLength="5.80" lengthAdjust="spacingAndGlyphs">20</text>
<line x1="41.20" y1="605.76" x2="44.80" y2="605.76" stroke="#000" stroke-width="0.8" />
<text x="39.60" y="607.66" font-size="5.4" text-anchor="end" fill="#333" textLength="5.80" lengthAdjust="spacingAndGlyphs">30</text>
<line x1="41.20" y1="583.08" x2="44.80" y2="583.08" stroke="#000" stroke-width="0.8" />
<text x="39.60" y="584.98" font-size="5.4" text-anchor="end" fill="#333" textLength="5.80" lengthAdjust="spacingAndGlyphs">40</text>
<line x1="41.20" y1="560.40" x2="44.80" y2="560.40" stroke="#000" stroke-width="0.8" />
<text x="39.60" y="562.30" font-size="5.4" text-anchor="end" fill="#333" textLength="5.80" lengthAdjust="spacingAndGlyphs">50</text>
<line x1="57.20" y1="673.80" x2="57.20" y2="677.00" stroke="#000" stroke-width="0.7" />
<line x1="76.80" y1="673.80" x2="76.80" y2="677.00" stroke="#000" stroke-width="0.7" />
<line x1="96.40" y1="673.80" x2="96.40" y2="677.00" stroke="#000" stroke-width="0.7" />
<text x="28.50" y="615.50" font-size="6.4" text-anchor="middle" fill="#333" textLength="28.70" lengthAdjust="spacingAndGlyphs" transform="rotate(-90 28.50 615.50)">% all T-cells</text>
<circle cx="57.50" cy="616.60" r="1.55" fill="#111" />
<circle cx="57.50" cy="630.00" r="1.55" fill="#111" />
<line x1="50.00" y1="623.10" x2="65.00" y2="623.10" stroke="#000" stroke-width="0.9" />
<circle cx="76.80" cy="565.00" r="1.55" fill="#2a4f94" />
<circle cx="76.80" cy="630.30" r="1.55" fill="#2a4f94" />
<circle cx="76.80" cy="640.50" r="1.55" fill="#2a4f94" />
<circle cx="76.80" cy="652.50" r="1.55" fill="#2a4f94" />
<line x1="69.00" y1="635.60" x2="84.00" y2="635.60" stroke="#000" stroke-width="0.9" />
<circle cx="96.20" cy="566.90" r="1.55" fill="#b5122f" />
<circle cx="96.20" cy="573.10" r="1.55" fill="#b5122f" />
<circle cx="96.20" cy="581.60" r="1.55" fill="#b5122f" />
<circle cx="96.20" cy="597.30" r="1.55" fill="#b5122f" />
<line x1="88.50" y1="577.70" x2="104.00" y2="577.70" stroke="#000" stroke-width="0.9" />
<line x1="106.20" y1="580.00" x2="117.50" y2="580.00" stroke="#000" stroke-width="1.2" />
<path d="M121.60,580.00 L117.00,582.40 L117.00,577.60 Z" fill="#000" />
<line x1="87.30" y1="635.20" x2="115.30" y2="628.90" stroke="#000" stroke-width="1.2" />
<path d="M119.30,628.00 L115.34,631.35 L114.29,626.67 Z" fill="#000" />
<text x="136.60" y="551.20" font-size="4.7" text-anchor="middle" fill="#222">Differential Gene</text>
<text x="136.60" y="557.20" font-size="4.7" text-anchor="middle" fill="#222">Expression Analysis</text>
<text x="137.00" y="565.50" font-size="4.9" text-anchor="middle" fill="#333">Eµ-<tspan font-style="italic">TCL1</tspan><tspan font-size="2.8" dy="-1.9" font-style="italic">Akt-C</tspan></text>
<line x1="125.80" y1="568.20" x2="148.70" y2="568.20" stroke="#c8243f" stroke-width="1.1" />
<circle cx="137.30" cy="581.80" r="11.20" fill="#a39a1e" />
<circle cx="137.58" cy="584.94" r="3.52" fill="#a69c1f" stroke="#8a8218" stroke-width="0.4" />
<circle cx="138.72" cy="583.89" r="3.52" fill="#a69c1f" stroke="#8a8218" stroke-width="0.4" />
<circle cx="144.93" cy="577.48" r="3.81" fill="#a69c1f" stroke="#8a8218" stroke-width="0.4" />
<circle cx="138.56" cy="588.87" r="3.42" fill="#a69c1f" stroke="#8a8218" stroke-width="0.4" />
<circle cx="138.79" cy="584.62" r="3.37" fill="#a69c1f" stroke="#8a8218" stroke-width="0.4" />
<circle cx="145.31" cy="577.87" r="3.85" fill="#a69c1f" stroke="#8a8218" stroke-width="0.4" />
<circle cx="138.64" cy="577.70" r="3.45" fill="#a69c1f" stroke="#8a8218" stroke-width="0.4" />
<circle cx="131.45" cy="575.80" r="3.88" fill="#a69c1f" stroke="#8a8218" stroke-width="0.4" />
<circle cx="139.40" cy="579.83" r="3.68" fill="#a69c1f" stroke="#8a8218" stroke-width="0.4" />
<circle cx="134.01" cy="575.66" r="3.34" fill="#a69c1f" stroke="#8a8218" stroke-width="0.4" />
<circle cx="134.41" cy="582.28" r="3.95" fill="#a69c1f" stroke="#8a8218" stroke-width="0.4" />
<circle cx="142.11" cy="576.37" r="3.44" fill="#a69c1f" stroke="#8a8218" stroke-width="0.4" />
<circle cx="143.53" cy="577.78" r="3.91" fill="#a69c1f" stroke="#8a8218" stroke-width="0.4" />
<circle cx="141.34" cy="576.10" r="3.53" fill="#a69c1f" stroke="#8a8218" stroke-width="0.4" />
<circle cx="132.07" cy="578.05" r="3.33" fill="#a69c1f" stroke="#8a8218" stroke-width="0.4" />
<circle cx="134.30" cy="590.11" r="3.23" fill="#a69c1f" stroke="#8a8218" stroke-width="0.4" />
<circle cx="144.73" cy="584.03" r="3.42" fill="#a69c1f" stroke="#8a8218" stroke-width="0.4" />
<circle cx="130.73" cy="580.35" r="3.47" fill="#a69c1f" stroke="#8a8218" stroke-width="0.4" />
<circle cx="141.63" cy="581.73" r="3.53" fill="#a69c1f" stroke="#8a8218" stroke-width="0.4" />
<circle cx="139.58" cy="589.25" r="3.42" fill="#a69c1f" stroke="#8a8218" stroke-width="0.4" />
<circle cx="132.07" cy="588.47" r="3.46" fill="#a69c1f" stroke="#8a8218" stroke-width="0.4" />
<circle cx="128.60" cy="578.45" r="3.28" fill="#a69c1f" stroke="#8a8218" stroke-width="0.4" />
<circle cx="141.64" cy="583.57" r="3.81" fill="#a69c1f" stroke="#8a8218" stroke-width="0.4" />
<circle cx="133.73" cy="578.63" r="3.46" fill="#a69c1f" stroke="#8a8218" stroke-width="0.4" />
<circle cx="140.22" cy="587.76" r="3.23" fill="#a69c1f" stroke="#8a8218" stroke-width="0.4" />
<circle cx="134.28" cy="573.03" r="3.96" fill="#a69c1f" stroke="#8a8218" stroke-width="0.4" />
<circle cx="136.39" cy="572.24" r="3.21" fill="#a69c1f" stroke="#8a8218" stroke-width="0.4" />
<circle cx="134.96" cy="591.14" r="3.82" fill="#a69c1f" stroke="#8a8218" stroke-width="0.4" />
<circle cx="129.25" cy="586.88" r="3.70" fill="#a69c1f" stroke="#8a8218" stroke-width="0.4" />
<circle cx="139.50" cy="576.97" r="3.35" fill="#a69c1f" stroke="#8a8218" stroke-width="0.4" />
<text x="137.00" y="601.80" font-size="4.2" text-anchor="middle" fill="#333">vs.</text>
<text x="137.00" y="611.30" font-size="4.9" text-anchor="middle" fill="#333">Eµ-<tspan font-style="italic">TCL1</tspan></text>
<line x1="125.80" y1="614.00" x2="148.70" y2="614.00" stroke="#3f5fa8" stroke-width="1.1" />
<circle cx="137.30" cy="627.60" r="11.20" fill="#a39a1e" />
<circle cx="131.25" cy="621.71" r="3.84" fill="#a69c1f" stroke="#8a8218" stroke-width="0.4" />
<circle cx="145.18" cy="624.62" r="3.94" fill="#a69c1f" stroke="#8a8218" stroke-width="0.4" />
<circle cx="143.88" cy="628.81" r="3.95" fill="#a69c1f" stroke="#8a8218" stroke-width="0.4" />
<circle cx="131.78" cy="620.11" r="3.29" fill="#a69c1f" stroke="#8a8218" stroke-width="0.4" />
<circle cx="132.53" cy="628.54" r="3.64" fill="#a69c1f" stroke="#8a8218" stroke-width="0.4" />
<circle cx="136.30" cy="627.10" r="3.37" fill="#a69c1f" stroke="#8a8218" stroke-width="0.4" />
<circle cx="135.57" cy="636.82" r="3.81" fill="#a69c1f" stroke="#8a8218" stroke-width="0.4" />
<circle cx="142.01" cy="634.98" r="3.31" fill="#a69c1f" stroke="#8a8218" stroke-width="0.4" />
<circle cx="134.72" cy="625.25" r="3.20" fill="#a69c1f" stroke="#8a8218" stroke-width="0.4" />
<circle cx="140.40" cy="624.36" r="3.37" fill="#a69c1f" stroke="#8a8218" stroke-width="0.4" />
<circle cx="146.40" cy="626.59" r="3.43" fill="#a69c1f" stroke="#8a8218" stroke-width="0.4" />
<circle cx="144.29" cy="625.88" r="3.74" fill="#a69c1f" stroke="#8a8218" stroke-width="0.4" />
<circle cx="139.96" cy="636.73" r="3.75" fill="#a69c1f" stroke="#8a8218" stroke-width="0.4" />
<circle cx="146.36" cy="625.67" r="3.44" fill="#a69c1f" stroke="#8a8218" stroke-width="0.4" />
<circle cx="134.73" cy="630.66" r="3.32" fill="#a69c1f" stroke="#8a8218" stroke-width="0.4" />
<circle cx="142.24" cy="629.74" r="3.68" fill="#a69c1f" stroke="#8a8218" stroke-width="0.4" />
<circle cx="145.37" cy="627.77" r="3.47" fill="#a69c1f" stroke="#8a8218" stroke-width="0.4" />
<circle cx="134.04" cy="635.84" r="3.58" fill="#a69c1f" stroke="#8a8218" stroke-width="0.4" />
<circle cx="134.57" cy="633.83" r="3.76" fill="#a69c1f" stroke="#8a8218" stroke-width="0.4" />
<circle cx="146.36" cy="630.99" r="3.22" fill="#a69c1f" stroke="#8a8218" stroke-width="0.4" />
<circle cx="137.29" cy="618.59" r="3.21" fill="#a69c1f" stroke="#8a8218" stroke-width="0.4" />
<circle cx="138.69" cy="621.84" r="3.66" fill="#a69c1f" stroke="#8a8218" stroke-width="0.4" />
<circle cx="139.41" cy="627.72" r="3.34" fill="#a69c1f" stroke="#8a8218" stroke-width="0.4" />
<circle cx="141.47" cy="626.39" r="3.80" fill="#a69c1f" stroke="#8a8218" stroke-width="0.4" />
<circle cx="145.90" cy="623.53" r="3.48" fill="#a69c1f" stroke="#8a8218" stroke-width="0.4" />
<circle cx="132.96" cy="633.21" r="3.82" fill="#a69c1f" stroke="#8a8218" stroke-width="0.4" />
<circle cx="143.90" cy="632.92" r="3.84" fill="#a69c1f" stroke="#8a8218" stroke-width="0.4" />
<circle cx="138.49" cy="626.15" r="3.96" fill="#a69c1f" stroke="#8a8218" stroke-width="0.4" />
<circle cx="142.11" cy="630.70" r="3.69" fill="#a69c1f" stroke="#8a8218" stroke-width="0.4" />
<circle cx="142.27" cy="624.79" r="3.94" fill="#a69c1f" stroke="#8a8218" stroke-width="0.4" />
<text x="137.00" y="651.00" font-size="5.0" text-anchor="middle" font-weight="bold" fill="#000">483</text>
<text x="137.00" y="657.40" font-size="5.0" text-anchor="middle" font-weight="bold" fill="#000">DE Genes</text>
<line x1="137.30" y1="660.70" x2="137.30" y2="673.20" stroke="#000" stroke-width="1.2" />
<path d="M137.30,677.30 L134.90,672.70 L139.70,672.70 Z" fill="#000" />
<rect x="45.50" y="689.20" width="9.80" height="17.80" fill="#e6862a" />
<rect x="55.00" y="689.20" width="7.30" height="17.80" fill="#e58228" />
<rect x="62.00" y="689.20" width="8.30" height="17.80" fill="#e07628" />
<rect x="70.00" y="689.20" width="5.30" height="17.80" fill="#de7026" />
<rect x="75.00" y="689.20" width="9.30" height="17.80" fill="#e37e29" />
<rect x="84.00" y="689.20" width="6.30" height="17.80" fill="#e07527" />
<rect x="90.00" y="689.20" width="10.30" height="17.80" fill="#e58529" />
<rect x="100.00" y="689.20" width="12.30" height="17.80" fill="#e88f2b" />
<rect x="112.00" y="689.20" width="8.30" height="17.80" fill="#e68729" />
<rect x="120.00" y="689.20" width="4.00" height="17.80" fill="#e37d28" />
<rect x="123.70" y="689.20" width="3.30" height="17.80" fill="#d1301f" />
<rect x="126.70" y="689.20" width="4.60" height="17.80" fill="#fbdc3c" />
<rect x="131.00" y="689.20" width="3.30" height="17.80" fill="#f7c433" />
<rect x="134.00" y="689.20" width="5.30" height="17.80" fill="#fbd83a" />
<rect x="139.00" y="689.20" width="4.30" height="17.80" fill="#f9cf38" />
<rect x="143.00" y="689.20" width="4.10" height="17.80" fill="#fbe04a" />
<line x1="45.50" y1="698.00" x2="146.80" y2="698.00" stroke="#a9c9bd" stroke-width="0.4" stroke-dasharray="1.3 1"/>
<path d="M45.50,700.20 L60.00,700.40 L68.00,701.00 L75.00,702.00 L78.00,700.50 L90.00,699.80 L105.00,699.00 L120.00,698.00 L123.00,697.50 L124.00,704.00 L126.50,705.00 L127.00,692.00 L129.00,696.00 L135.00,697.50 L140.00,696.50 L146.80,697.00" fill="none" stroke="#8fb9b4" stroke-width="0.45" />
<defs><linearGradient id="key4" x1="0" x2="1" y1="0" y2="0"><stop offset="0" stop-color="#d2281e"/><stop offset="0.25" stop-color="#df5a22"/><stop offset="0.45" stop-color="#ee9626"/><stop offset="0.62" stop-color="#f8c534"/><stop offset="0.78" stop-color="#fbe04a"/><stop offset="0.9" stop-color="#fdf0a8"/><stop offset="1" stop-color="#fffbe0"/></linearGradient></defs>
<rect x="45.50" y="708.00" width="6.63" height="6.50" fill="#d42a20" />
<rect x="51.83" y="708.00" width="6.63" height="6.50" fill="#d93d22" />
<rect x="58.16" y="708.00" width="6.63" height="6.50" fill="#de5224" />
<rect x="64.49" y="708.00" width="6.63" height="6.50" fill="#e26a26" />
<rect x="70.83" y="708.00" width="6.63" height="6.50" fill="#e67d28" />
<rect x="77.16" y="708.00" width="6.63" height="6.50" fill="#ea8f2a" />
<rect x="83.49" y="708.00" width="6.63" height="6.50" fill="#f0a22c" />
<rect x="89.82" y="708.00" width="6.63" height="6.50" fill="#f5b530" />
<rect x="96.15" y="708.00" width="6.63" height="6.50" fill="#f8c434" />
<rect x="102.48" y="708.00" width="6.63" height="6.50" fill="#fad23c" />
<rect x="108.81" y="708.00" width="6.63" height="6.50" fill="#fbe048" />
<rect x="115.14" y="708.00" width="6.63" height="6.50" fill="#fbe660" />
<rect x="121.48" y="708.00" width="6.63" height="6.50" fill="#fbec80" />
<rect x="127.81" y="708.00" width="6.63" height="6.50" fill="#fcf2a8" />
<rect x="134.14" y="708.00" width="6.63" height="6.50" fill="#fdf6c0" />
<rect x="140.47" y="708.00" width="6.63" height="6.50" fill="#fef9d8" />
<rect x="45.50" y="708.00" width="101.30" height="6.50" fill="none" stroke="#777" stroke-width="0.25" />
<path d="M45.50,714.20 L72.00,714.20 L72.00,712.50 L80.00,712.50 L80.00,709.30 L92.00,709.30 L92.00,711.00 L100.00,711.00 L100.00,712.50 L112.00,712.50 L112.00,714.00 L146.80,714.20" fill="none" stroke="#9fc4b8" stroke-width="0.4" />
<text x="36.50" y="711.30" font-size="2.3" text-anchor="middle" fill="#333" transform="rotate(-90 36.50 711.30)">Count</text>
<line x1="44.20" y1="708.50" x2="45.50" y2="708.50" stroke="#444" stroke-width="0.25" />
<line x1="44.20" y1="710.40" x2="45.50" y2="710.40" stroke="#444" stroke-width="0.25" />
<line x1="44.20" y1="712.30" x2="45.50" y2="712.30" stroke="#444" stroke-width="0.25" />
<line x1="44.20" y1="714.20" x2="45.50" y2="714.20" stroke="#444" stroke-width="0.25" />
<text x="62.50" y="720.80" font-size="3.3" text-anchor="middle" fill="#222">-50</text>
<line x1="62.50" y1="714.50" x2="62.50" y2="715.80" stroke="#444" stroke-width="0.3" />
<text x="96.20" y="720.80" font-size="3.3" text-anchor="middle" fill="#222">0</text>
<line x1="96.20" y1="714.50" x2="96.20" y2="715.80" stroke="#444" stroke-width="0.3" />
<text x="130.00" y="720.80" font-size="3.3" text-anchor="middle" fill="#222">50</text>
<line x1="130.00" y1="714.50" x2="130.00" y2="715.80" stroke="#444" stroke-width="0.3" />
<line x1="78.00" y1="723.00" x2="95.50" y2="723.00" stroke="#8a8a8a" stroke-width="0.8" />
<path d="M75.50,723.00 L79.00,721.60 L79.00,724.40 Z" fill="#8a8a8a" />
<line x1="98.00" y1="723.00" x2="113.50" y2="723.00" stroke="#8a8a8a" stroke-width="0.8" />
<path d="M116.20,723.00 L112.70,721.60 L112.70,724.40 Z" fill="#8a8a8a" />
<text x="85.50" y="727.80" font-size="3.2" text-anchor="middle" fill="#222" textLength="17.00" lengthAdjust="spacingAndGlyphs">Downregulated</text>
<text x="107.50" y="727.80" font-size="3.2" text-anchor="middle" fill="#222" textLength="14.00" lengthAdjust="spacingAndGlyphs">Upregulated</text>
<path d="M106,683 V679.5 H130 V684 M88,685 V683 H116 V686 M67.5,687 V685 H97.5 V687 M125.5,686.5 V684 H136 V686.5 M58,688.3 V687 H78 V688.3 M92,688.3 V687 H104 V688.3 M110,688.3 V686 H121 V688.3 M131,688.3 V686.5 H142 V688.3 M124,688.5 V686.5 H127 V688.5 " fill="none" stroke="#555" stroke-width="0.35" />
<path d="M46.5,689 V688.0 H49.0 V689 M49.4,689 V687.7 H53.0 V689 M53.8,689 V687.8 H57.5 V689 M58.3,689 V687.7 H61.2 V689 M61.9,689 V688.1 H65.1 V689 M66.0,689 V687.9 H67.6 V689 M68.0,689 V688.4 H70.7 V689 M71.5,689 V688.0 H74.9 V689 M75.8,689 V687.9 H77.3 V689 M78.2,689 V688.0 H81.5 V689 M81.8,689 V687.9 H83.8 V689 M84.3,689 V687.9 H87.8 V689 M88.9,689 V687.7 H92.6 V689 M93.2,689 V687.7 H95.8 V689 M96.5,689 V687.8 H100.2 V689 M101.0,689 V688.2 H102.6 V689 M103.7,689 V687.7 H105.5 V689 M105.8,689 V687.7 H108.5 V689 M108.9,689 V688.4 H111.5 V689 M112.2,689 V688.2 H114.5 V689 M114.9,689 V687.8 H117.7 V689 M118.6,689 V687.7 H122.4 V689 M123.2,689 V687.8 H126.1 V689 M126.7,689 V688.5 H130.7 V689 M131.1,689 V688.5 H134.2 V689 M134.8,689 V687.7 H137.7 V689 M138.3,689 V688.2 H141.4 V689 M142.4,689 V688.0 H143.8 V689 M144.9,689 V688.1 H147.7 V689 " fill="none" stroke="#555" stroke-width="0.25" />
</g>
<g id="panel_f">
<text x="175.00" y="551.00" font-size="13.5" font-weight="bold" fill="#000">F</text>
<circle cx="193.80" cy="545.00" r="3.00" fill="#c9c9ce" />
<text x="200.00" y="546.20" font-size="3.6" fill="#222" textLength="71.00" lengthAdjust="spacingAndGlyphs"><tspan font-style="italic">Cd4</tspan><tspan font-size="2.2" dy="-1.2">+</tspan><tspan dy="1.2"> T cell cell death associated GO terms</tspan></text>
<circle cx="193.80" cy="550.80" r="0.95" fill="#b5122f" />
<text x="200.00" y="552.00" font-size="3.6" fill="#222" textLength="48.00" lengthAdjust="spacingAndGlyphs">Eµ-<tspan font-style="italic">TCL1</tspan><tspan font-size="2.2" dy="-1.2" font-style="italic">Akt-C</tspan><tspan dy="1.2"> significant genes</tspan></text>
<circle cx="193.80" cy="557.00" r="0.95" fill="#1f3f8f" />
<text x="200.00" y="558.20" font-size="3.6" fill="#222" textLength="42.50" lengthAdjust="spacingAndGlyphs">Eµ-<tspan font-style="italic">TCL1</tspan> significant genes</text>
<path d="M248.0,571.2L286.5,601.5M258.0,568.2L286.5,601.5M262.0,561.6L286.5,601.5M272.0,559.1L286.5,601.5M283.8,556.7L286.5,601.5M279.8,565.9L286.5,601.5M296.9,558.0L286.5,601.5M296.0,566.7L286.5,601.5M314.4,549.4L286.5,601.5M309.0,566.7L286.5,601.5M318.7,568.7L286.5,601.5M323.0,575.8L286.5,601.5M331.7,577.3L286.5,601.5M335.6,585.0L286.5,601.5M339.4,593.3L286.5,601.5M258.8,616.7L286.5,601.5M258.8,616.7L236.5,667.5M239.6,625.8L286.5,601.5M239.6,625.8L236.5,667.5M244.4,625.0L286.5,601.5M244.4,625.0L236.5,667.5M244.4,625.0L265.6,668.5M236.3,628.7L286.5,601.5M236.3,628.7L236.5,667.5M236.3,628.7L265.6,668.5M244.0,632.7L286.5,601.5M244.0,632.7L236.5,667.5M244.0,632.7L265.6,668.5M244.0,632.7L299.5,667.5M252.7,626.3L286.5,601.5M252.7,626.3L236.5,667.5M252.7,626.3L265.6,668.5M252.7,633.5L286.5,601.5M252.7,633.5L236.5,667.5M252.7,633.5L265.6,668.5M252.7,633.5L299.5,667.5M257.9,629.8L286.5,601.5M257.9,629.8L236.5,667.5M257.9,629.8L265.6,668.5M266.9,639.4L286.5,601.5M266.9,639.4L236.5,667.5M266.9,639.4L265.6,668.5M268.0,643.7L286.5,601.5M268.0,643.7L236.5,667.5M268.0,643.7L265.6,668.5M268.0,643.7L299.5,667.5M271.3,637.5L286.5,601.5M271.3,637.5L265.6,668.5M271.3,637.5L299.5,667.5M273.3,642.3L286.5,601.5M273.3,642.3L236.5,667.5M273.3,642.3L265.6,668.5M273.3,642.3L299.5,667.5M278.7,644.2L286.5,601.5M278.7,644.2L236.5,667.5M278.7,644.2L265.6,668.5M278.7,644.2L299.5,667.5M285.4,632.7L286.5,601.5M285.4,632.7L265.6,668.5M285.4,632.7L299.5,667.5M289.2,630.2L286.5,601.5M289.2,630.2L265.6,668.5M289.2,630.2L299.5,667.5M296.0,630.2L286.5,601.5M296.0,630.2L265.6,668.5M296.0,630.2L299.5,667.5M293.0,635.0L286.5,601.5M293.0,635.0L265.6,668.5M293.0,635.0L299.5,667.5M304.0,630.8L286.5,601.5M304.0,630.8L265.6,668.5M304.0,630.8L299.5,667.5M309.8,633.0L286.5,601.5M309.8,633.0L265.6,668.5M309.8,633.0L299.5,667.5M315.6,635.0L286.5,601.5M315.6,635.0L236.5,667.5M315.6,635.0L265.6,668.5M315.6,635.0L299.5,667.5M316.9,638.5L286.5,601.5M316.9,638.5L265.6,668.5M316.9,638.5L299.5,667.5M315.6,642.7L286.5,601.5M315.6,642.7L265.6,668.5M315.6,642.7L299.5,667.5M310.8,642.7L286.5,601.5M310.8,642.7L236.5,667.5M310.8,642.7L265.6,668.5M310.8,642.7L299.5,667.5M303.7,642.1L286.5,601.5M303.7,642.1L236.5,667.5M303.7,642.1L265.6,668.5M303.7,642.1L299.5,667.5M296.3,639.8L286.5,601.5M296.3,639.8L265.6,668.5M296.3,639.8L299.5,667.5M301.2,645.0L286.5,601.5M301.2,645.0L236.5,667.5M301.2,645.0L265.6,668.5M301.2,645.0L299.5,667.5M216.2,640.8L236.5,667.5M216.2,640.8L265.6,668.5M210.8,644.6L236.5,667.5M210.8,644.6L265.6,668.5M218.5,644.6L236.5,667.5M218.5,644.6L265.6,668.5M207.9,650.0L236.5,667.5M207.9,650.0L265.6,668.5M202.7,653.8L236.5,667.5M202.7,653.8L265.6,668.5M207.9,654.6L236.5,667.5M207.9,654.6L265.6,668.5M201.7,659.6L236.5,667.5M201.7,659.6L265.6,668.5M206.9,662.9L236.5,667.5M206.9,662.9L265.6,668.5M199.2,666.2L236.5,667.5M199.2,666.2L265.6,668.5M205.0,667.7L236.5,667.5M205.0,667.7L265.6,668.5M200.8,671.5L236.5,667.5M200.8,671.5L265.6,668.5M204.0,675.4L236.5,667.5M204.0,675.4L265.6,668.5M197.3,677.3L236.5,667.5M197.3,677.3L265.6,668.5M206.0,682.1L236.5,667.5M206.0,682.1L265.6,668.5M213.0,680.8L236.5,667.5M213.0,680.8L265.6,668.5M206.0,687.3L236.5,667.5M206.0,687.3L265.6,668.5M192.0,689.8L236.5,667.5M192.0,689.8L265.6,668.5M209.8,690.8L236.5,667.5M209.8,690.8L265.6,668.5M220.8,692.1L236.5,667.5M220.8,692.1L265.6,668.5M218.5,697.5L236.5,667.5M218.5,697.5L265.6,668.5M224.2,701.3L236.5,667.5M224.2,701.3L265.6,668.5M233.3,703.8L236.5,667.5M233.3,703.8L265.6,668.5M229.4,706.2L236.5,667.5M229.4,706.2L265.6,668.5M210.4,710.4L236.5,667.5M210.4,710.4L265.6,668.5M240.2,703.7L236.5,667.5M240.2,703.7L265.6,668.5M240.2,703.7L299.5,667.5M242.5,708.7L236.5,667.5M242.5,708.7L265.6,668.5M251.2,714.8L236.5,667.5M251.2,714.8L265.6,668.5M257.9,701.3L236.5,667.5M257.9,701.3L265.6,668.5M257.9,701.3L299.5,667.5M263.7,692.3L236.5,667.5M263.7,692.3L265.6,668.5M263.7,692.3L299.5,667.5M268.8,697.7L236.5,667.5M268.8,697.7L265.6,668.5M268.8,697.7L299.5,667.5M270.6,687.9L236.5,667.5M270.6,687.9L265.6,668.5M270.6,687.9L299.5,667.5M278.5,683.7L236.5,667.5M278.5,683.7L265.6,668.5M278.5,683.7L299.5,667.5M277.7,692.1L236.5,667.5M277.7,692.1L265.6,668.5M277.7,692.1L299.5,667.5M280.0,701.9L236.5,667.5M280.0,701.9L265.6,668.5M280.0,701.9L299.5,667.5M271.7,721.5L265.6,668.5M325.8,663.5L265.6,668.5M325.8,663.5L299.5,667.5M327.7,666.3L265.6,668.5M327.7,666.3L299.5,667.5M324.2,671.5L265.6,668.5M324.2,671.5L299.5,667.5M328.0,672.5L265.6,668.5M328.0,672.5L299.5,667.5M329.0,675.8L265.6,668.5M329.0,675.8L299.5,667.5M324.2,679.2L265.6,668.5M324.2,679.2L299.5,667.5M324.2,682.7L265.6,668.5M324.2,682.7L299.5,667.5M326.2,684.0L265.6,668.5M326.2,684.0L299.5,667.5M324.2,689.8L265.6,668.5M324.2,689.8L299.5,667.5M312.1,691.7L265.6,668.5M312.1,691.7L299.5,667.5M320.4,694.2L265.6,668.5M320.4,694.2L299.5,667.5M312.7,695.6L265.6,668.5M312.7,695.6L299.5,667.5M313.3,699.4L265.6,668.5M313.3,699.4L299.5,667.5M327.7,705.6L265.6,668.5M327.7,705.6L299.5,667.5M315.0,714.4L265.6,668.5M315.0,714.4L299.5,667.5M302.1,703.8L236.5,667.5M302.1,703.8L265.6,668.5M302.1,703.8L299.5,667.5M293.5,707.5L236.5,667.5M293.5,707.5L265.6,668.5M293.5,707.5L299.5,667.5M298.3,707.5L265.6,668.5M298.3,707.5L299.5,667.5M236.5,667.5L265.6,668.5M265.6,668.5L299.5,667.5" fill="none" stroke="#b7b7bc" stroke-width="0.62" />
<circle cx="286.50" cy="601.50" r="2.60" fill="#c9c9ce" stroke="none" stroke-width="0" opacity="0.8"/>
<circle cx="236.50" cy="667.50" r="2.60" fill="#c9c9ce" stroke="none" stroke-width="0" opacity="0.8"/>
<circle cx="265.60" cy="668.50" r="2.60" fill="#c9c9ce" stroke="none" stroke-width="0" opacity="0.8"/>
<circle cx="299.50" cy="667.50" r="2.60" fill="#c9c9ce" stroke="none" stroke-width="0" opacity="0.8"/>
<circle cx="248.00" cy="571.20" r="0.95" fill="#1f3f8f" />
<circle cx="258.00" cy="568.20" r="0.95" fill="#b5122f" />
<circle cx="262.00" cy="561.60" r="0.95" fill="#1f3f8f" />
<circle cx="272.00" cy="559.10" r="0.95" fill="#1f3f8f" />
<circle cx="283.80" cy="556.70" r="0.95" fill="#b5122f" />
<circle cx="279.80" cy="565.90" r="0.95" fill="#1f3f8f" />
<circle cx="296.90" cy="558.00" r="0.95" fill="#1f3f8f" />
<circle cx="296.00" cy="566.70" r="0.95" fill="#1f3f8f" />
<circle cx="314.40" cy="549.40" r="0.95" fill="#1f3f8f" />
<circle cx="309.00" cy="566.70" r="0.95" fill="#1f3f8f" />
<circle cx="318.70" cy="568.70" r="0.95" fill="#1f3f8f" />
<circle cx="323.00" cy="575.80" r="0.95" fill="#1f3f8f" />
<circle cx="331.70" cy="577.30" r="0.95" fill="#1f3f8f" />
<circle cx="335.60" cy="585.00" r="0.95" fill="#1f3f8f" />
<circle cx="339.40" cy="593.30" r="0.95" fill="#1f3f8f" />
<circle cx="258.80" cy="616.70" r="0.95" fill="#1f3f8f" />
<circle cx="239.60" cy="625.80" r="0.95" fill="#1f3f8f" />
<circle cx="244.40" cy="625.00" r="0.95" fill="#1f3f8f" />
<circle cx="236.30" cy="628.70" r="0.95" fill="#1f3f8f" />
<circle cx="244.00" cy="632.70" r="0.95" fill="#b5122f" />
<circle cx="252.70" cy="626.30" r="0.95" fill="#1f3f8f" />
<circle cx="252.70" cy="633.50" r="0.95" fill="#1f3f8f" />
<circle cx="257.90" cy="629.80" r="0.95" fill="#1f3f8f" />
<circle cx="266.90" cy="639.40" r="0.95" fill="#1f3f8f" />
<circle cx="268.00" cy="643.70" r="0.95" fill="#1f3f8f" />
<circle cx="271.30" cy="637.50" r="0.95" fill="#1f3f8f" />
<circle cx="273.30" cy="642.30" r="0.95" fill="#1f3f8f" />
<circle cx="278.70" cy="644.20" r="0.95" fill="#1f3f8f" />
<circle cx="285.40" cy="632.70" r="0.95" fill="#1f3f8f" />
<circle cx="289.20" cy="630.20" r="0.95" fill="#1f3f8f" />
<circle cx="296.00" cy="630.20" r="0.95" fill="#b5122f" />
<circle cx="293.00" cy="635.00" r="0.95" fill="#1f3f8f" />
<circle cx="304.00" cy="630.80" r="0.95" fill="#1f3f8f" />
<circle cx="309.80" cy="633.00" r="0.95" fill="#1f3f8f" />
<circle cx="315.60" cy="635.00" r="0.95" fill="#1f3f8f" />
<circle cx="316.90" cy="638.50" r="0.95" fill="#1f3f8f" />
<circle cx="315.60" cy="642.70" r="0.95" fill="#1f3f8f" />
<circle cx="310.80" cy="642.70" r="0.95" fill="#b5122f" />
<circle cx="303.70" cy="642.10" r="0.95" fill="#b5122f" />
<circle cx="296.30" cy="639.80" r="0.95" fill="#1f3f8f" />
<circle cx="301.20" cy="645.00" r="0.95" fill="#1f3f8f" />
<circle cx="216.20" cy="640.80" r="0.95" fill="#1f3f8f" />
<circle cx="210.80" cy="644.60" r="0.95" fill="#b5122f" />
<circle cx="218.50" cy="644.60" r="0.95" fill="#b5122f" />
<circle cx="207.90" cy="650.00" r="0.95" fill="#1f3f8f" />
<circle cx="202.70" cy="653.80" r="0.95" fill="#1f3f8f" />
<circle cx="207.90" cy="654.60" r="0.95" fill="#1f3f8f" />
<circle cx="201.70" cy="659.60" r="0.95" fill="#1f3f8f" />
<circle cx="206.90" cy="662.90" r="0.95" fill="#1f3f8f" />
<circle cx="199.20" cy="666.20" r="0.95" fill="#1f3f8f" />
<circle cx="205.00" cy="667.70" r="0.95" fill="#1f3f8f" />
<circle cx="200.80" cy="671.50" r="0.95" fill="#1f3f8f" />
<circle cx="204.00" cy="675.40" r="0.95" fill="#b5122f" />
<circle cx="197.30" cy="677.30" r="0.95" fill="#1f3f8f" />
<circle cx="206.00" cy="682.10" r="0.95" fill="#1f3f8f" />
<circle cx="213.00" cy="680.80" r="0.95" fill="#1f3f8f" />
<circle cx="206.00" cy="687.30" r="0.95" fill="#1f3f8f" />
<circle cx="192.00" cy="689.80" r="0.95" fill="#1f3f8f" />
<circle cx="209.80" cy="690.80" r="0.95" fill="#1f3f8f" />
<circle cx="220.80" cy="692.10" r="0.95" fill="#1f3f8f" />
<circle cx="218.50" cy="697.50" r="0.95" fill="#1f3f8f" />
<circle cx="224.20" cy="701.30" r="0.95" fill="#1f3f8f" />
<circle cx="233.30" cy="703.80" r="0.95" fill="#b5122f" />
<circle cx="229.40" cy="706.20" r="0.95" fill="#1f3f8f" />
<circle cx="210.40" cy="710.40" r="0.95" fill="#1f3f8f" />
<circle cx="240.20" cy="703.70" r="0.95" fill="#1f3f8f" />
<circle cx="242.50" cy="708.70" r="0.95" fill="#1f3f8f" />
<circle cx="251.20" cy="714.80" r="0.95" fill="#1f3f8f" />
<circle cx="257.90" cy="701.30" r="0.95" fill="#1f3f8f" />
<circle cx="263.70" cy="692.30" r="0.95" fill="#1f3f8f" />
<circle cx="268.80" cy="697.70" r="0.95" fill="#1f3f8f" />
<circle cx="270.60" cy="687.90" r="0.95" fill="#1f3f8f" />
<circle cx="278.50" cy="683.70" r="0.95" fill="#1f3f8f" />
<circle cx="277.70" cy="692.10" r="0.95" fill="#1f3f8f" />
<circle cx="280.00" cy="701.90" r="0.95" fill="#1f3f8f" />
<circle cx="271.70" cy="721.50" r="0.95" fill="#1f3f8f" />
<circle cx="325.80" cy="663.50" r="0.95" fill="#1f3f8f" />
<circle cx="327.70" cy="666.30" r="0.95" fill="#1f3f8f" />
<circle cx="324.20" cy="671.50" r="0.95" fill="#1f3f8f" />
<circle cx="328.00" cy="672.50" r="0.95" fill="#1f3f8f" />
<circle cx="329.00" cy="675.80" r="0.95" fill="#1f3f8f" />
<circle cx="324.20" cy="679.20" r="0.95" fill="#1f3f8f" />
<circle cx="324.20" cy="682.70" r="0.95" fill="#1f3f8f" />
<circle cx="326.20" cy="684.00" r="0.95" fill="#b5122f" />
<circle cx="324.20" cy="689.80" r="0.95" fill="#1f3f8f" />
<circle cx="312.10" cy="691.70" r="0.95" fill="#b5122f" />
<circle cx="320.40" cy="694.20" r="0.95" fill="#1f3f8f" />
<circle cx="312.70" cy="695.60" r="0.95" fill="#1f3f8f" />
<circle cx="313.30" cy="699.40" r="0.95" fill="#1f3f8f" />
<circle cx="327.70" cy="705.60" r="0.95" fill="#b5122f" />
<circle cx="315.00" cy="714.40" r="0.95" fill="#b5122f" />
<circle cx="302.10" cy="703.80" r="0.95" fill="#1f3f8f" />
<circle cx="293.50" cy="707.50" r="0.95" fill="#1f3f8f" />
<circle cx="298.30" cy="707.50" r="0.95" fill="#1f3f8f" />
<text x="246.40" y="572.30" font-size="3.5" text-anchor="end" font-style="italic" fill="#222">Pkm</text>
<text x="256.80" y="567.30" font-size="3.5" text-anchor="end" font-style="italic" fill="#222">Lcn2</text>
<text x="260.80" y="560.70" font-size="3.5" text-anchor="end" font-style="italic" fill="#222">Pdcl3</text>
<text x="270.80" y="558.20" font-size="3.5" text-anchor="end" font-style="italic" fill="#222">Lsp1</text>
<text x="283.80" y="555.10" font-size="3.5" text-anchor="middle" font-style="italic" fill="#222">Lgals7</text>
<text x="278.60" y="565.00" font-size="3.5" text-anchor="end" font-style="italic" fill="#222">Rtn3</text>
<text x="298.50" y="559.10" font-size="3.5" font-style="italic" fill="#222">Mcm2</text>
<text x="297.20" y="565.80" font-size="3.5" font-style="italic" fill="#222">Itpk1</text>
<text x="315.60" y="548.50" font-size="3.5" font-style="italic" fill="#222">Emp3</text>
<text x="310.20" y="565.80" font-size="3.5" font-style="italic" fill="#222">P4hb</text>
<text x="319.90" y="567.80" font-size="3.5" font-style="italic" fill="#222">Gzmb</text>
<text x="323.00" y="574.20" font-size="3.5" text-anchor="middle" font-style="italic" fill="#222">Srgn</text>
<text x="332.90" y="576.40" font-size="3.5" font-style="italic" fill="#222">Lgals1</text>
<text x="336.80" y="584.10" font-size="3.5" font-style="italic" fill="#222">Serpina3g</text>
<text x="340.60" y="592.40" font-size="3.5" font-style="italic" fill="#222">Pglyrp1</text>
<text x="260.00" y="615.80" font-size="3.5" font-style="italic" fill="#222">Swf1</text>
<text x="238.00" y="626.90" font-size="3.5" text-anchor="end" font-style="italic" fill="#222">Arl6ip1</text>
<text x="245.60" y="624.10" font-size="3.5" font-style="italic" fill="#222">Adrd1b</text>
<text x="234.70" y="629.80" font-size="3.5" text-anchor="end" font-style="italic" fill="#222">Tnfrsf18</text>
<text x="245.20" y="631.80" font-size="3.5" font-style="italic" fill="#222">Bcl2</text>
<text x="254.30" y="627.40" font-size="3.5" font-style="italic" fill="#222">Birc3</text>
<text x="254.30" y="634.60" font-size="3.5" font-style="italic" fill="#222">Bim2</text>
<text x="259.50" y="630.90" font-size="3.5" font-style="italic" fill="#222">Tmbap3</text>
<text x="265.70" y="638.50" font-size="3.5" text-anchor="end" font-style="italic" fill="#222">Ptma</text>
<text x="266.40" y="644.80" font-size="3.5" text-anchor="end" font-style="italic" fill="#222">Casp8b</text>
<text x="272.50" y="636.60" font-size="3.5" font-style="italic" fill="#222">Bad</text>
<text x="274.50" y="641.40" font-size="3.5" font-style="italic" fill="#222">Bax</text>
<text x="279.90" y="647.40" font-size="3.5" font-style="italic" fill="#222">Bcl2l11</text>
<text x="283.80" y="633.80" font-size="3.5" text-anchor="end" font-style="italic" fill="#222">Casp1</text>
<text x="288.00" y="629.30" font-size="3.5" text-anchor="end" font-style="italic" fill="#222">Mtch1</text>
<text x="297.20" y="629.30" font-size="3.5" font-style="italic" fill="#222">S100a9</text>
<text x="291.40" y="636.10" font-size="3.5" text-anchor="end" font-style="italic" fill="#222">Tnfg</text>
<text x="302.80" y="634.00" font-size="3.5" text-anchor="end" font-style="italic" fill="#222">Ddit</text>
<text x="311.00" y="632.10" font-size="3.5" font-style="italic" fill="#222">Siva1</text>
<text x="317.20" y="636.10" font-size="3.5" font-style="italic" fill="#222">Gadd45b</text>
<text x="318.50" y="639.60" font-size="3.5" font-style="italic" fill="#222">Bak1</text>
<text x="317.20" y="643.80" font-size="3.5" font-style="italic" fill="#222">Pmaip1</text>
<text x="309.60" y="641.80" font-size="3.5" text-anchor="end" font-style="italic" fill="#222">Mcl1</text>
<text x="294.70" y="640.90" font-size="3.5" text-anchor="end" font-style="italic" fill="#222">Sik11b</text>
<text x="300.00" y="648.20" font-size="3.5" text-anchor="end" font-style="italic" fill="#222">Gadd45g</text>
<text x="215.00" y="639.90" font-size="3.5" text-anchor="end" font-style="italic" fill="#222">Bcl3</text>
<text x="209.20" y="645.70" font-size="3.5" text-anchor="end" font-style="italic" fill="#222">Fcer1g</text>
<text x="220.10" y="645.70" font-size="3.5" font-style="italic" fill="#222">Atf</text>
<text x="206.30" y="651.10" font-size="3.5" text-anchor="end" font-style="italic" fill="#222">Ybx3</text>
<text x="201.10" y="654.90" font-size="3.5" text-anchor="end" font-style="italic" fill="#222">Cd74</text>
<text x="209.50" y="655.70" font-size="3.5" font-style="italic" fill="#222">Dtgpr</text>
<text x="200.10" y="660.70" font-size="3.5" text-anchor="end" font-style="italic" fill="#222">Icam1</text>
<text x="208.50" y="664.00" font-size="3.5" font-style="italic" fill="#222">Htgm1</text>
<text x="197.60" y="667.30" font-size="3.5" text-anchor="end" font-style="italic" fill="#222">Ybx</text>
<text x="206.60" y="668.80" font-size="3.5" font-style="italic" fill="#222">Hspa8</text>
<text x="199.20" y="672.60" font-size="3.5" text-anchor="end" font-style="italic" fill="#222">Bcl2a1d</text>
<text x="205.60" y="676.50" font-size="3.5" font-style="italic" fill="#222">Ccnd2</text>
<text x="195.70" y="678.40" font-size="3.5" text-anchor="end" font-style="italic" fill="#222">Atf5</text>
<text x="204.40" y="683.20" font-size="3.5" text-anchor="end" font-style="italic" fill="#222">Tnfrsf4</text>
<text x="214.60" y="681.90" font-size="3.5" font-style="italic" fill="#222">Cotsp1</text>
<text x="207.60" y="688.40" font-size="3.5" font-style="italic" fill="#222">Cdkn2</text>
<text x="190.80" y="688.90" font-size="3.5" text-anchor="end" font-style="italic" fill="#222">Tsg1</text>
<text x="208.60" y="694.00" font-size="3.5" text-anchor="end" font-style="italic" fill="#222">Hsp90b1</text>
<text x="222.40" y="693.20" font-size="3.5" font-style="italic" fill="#222">Sfrs</text>
<text x="216.90" y="698.60" font-size="3.5" text-anchor="end" font-style="italic" fill="#222">Il2rb</text>
<text x="222.60" y="702.40" font-size="3.5" text-anchor="end" font-style="italic" fill="#222">Hcls1</text>
<text x="232.10" y="702.90" font-size="3.5" text-anchor="end" font-style="italic" fill="#222">Ccr7</text>
<text x="228.20" y="709.40" font-size="3.5" text-anchor="end" font-style="italic" fill="#222">Coro1a</text>
<text x="209.20" y="709.50" font-size="3.5" text-anchor="end" font-style="italic" fill="#222">Hdac7</text>
<text x="241.40" y="702.80" font-size="3.5" font-style="italic" fill="#222">Hmgb2</text>
<text x="243.70" y="707.80" font-size="3.5" font-style="italic" fill="#222">Lgals3</text>
<text x="252.40" y="713.90" font-size="3.5" font-style="italic" fill="#222">Cst3</text>
<text x="256.70" y="700.40" font-size="3.5" text-anchor="end" font-style="italic" fill="#222">Apoe</text>
<text x="262.50" y="691.40" font-size="3.5" text-anchor="end" font-style="italic" fill="#222">Casp1</text>
<text x="268.80" y="696.10" font-size="3.5" text-anchor="middle" font-style="italic" fill="#222">Dnaja1</text>
<text x="269.40" y="687.00" font-size="3.5" text-anchor="end" font-style="italic" fill="#222">Ctsb</text>
<text x="279.70" y="682.80" font-size="3.5" font-style="italic" fill="#222">Hspd1</text>
<text x="278.90" y="691.20" font-size="3.5" font-style="italic" fill="#222">Sin3</text>
<text x="278.80" y="705.10" font-size="3.5" text-anchor="end" font-style="italic" fill="#222">Tnfrsf1b</text>
<text x="272.90" y="720.60" font-size="3.5" font-style="italic" fill="#222">Gimap8</text>
<text x="327.00" y="662.60" font-size="3.5" font-style="italic" fill="#222">Runx3</text>
<text x="329.30" y="667.40" font-size="3.5" font-style="italic" fill="#222">Eif2s1</text>
<text x="323.00" y="670.60" font-size="3.5" text-anchor="end" font-style="italic" fill="#222">Cdc42</text>
<text x="329.20" y="671.60" font-size="3.5" font-style="italic" fill="#222">Capn2</text>
<text x="330.60" y="676.90" font-size="3.5" font-style="italic" fill="#222">Itga6</text>
<text x="325.80" y="680.30" font-size="3.5" font-style="italic" fill="#222">Gzma</text>
<text x="322.60" y="683.80" font-size="3.5" text-anchor="end" font-style="italic" fill="#222">Stat1</text>
<text x="327.80" y="685.10" font-size="3.5" font-style="italic" fill="#222">Rpl26</text>
<text x="325.40" y="688.90" font-size="3.5" font-style="italic" fill="#222">Ctsd</text>
<text x="313.30" y="690.80" font-size="3.5" font-style="italic" fill="#222">Ifi5</text>
<text x="322.00" y="695.30" font-size="3.5" font-style="italic" fill="#222">Nupr1</text>
<text x="311.10" y="696.70" font-size="3.5" text-anchor="end" font-style="italic" fill="#222">Chchd10</text>
<text x="314.50" y="702.60" font-size="3.5" font-style="italic" fill="#222">Ctla4</text>
<text x="328.90" y="704.70" font-size="3.5" font-style="italic" fill="#222">Ramp3</text>
<text x="316.20" y="713.50" font-size="3.5" font-style="italic" fill="#222">Eef1a1</text>
<text x="300.90" y="702.90" font-size="3.5" text-anchor="end" font-style="italic" fill="#222">Dap3</text>
<text x="292.30" y="710.70" font-size="3.5" text-anchor="end" font-style="italic" fill="#222">Top2a</text>
<text x="299.50" y="710.70" font-size="3.5" font-style="italic" fill="#222">Ppp1ca</text>
<text x="286.50" y="603.60" font-size="3.7" text-anchor="middle" fill="#333">Programmed</text>
<text x="286.50" y="607.90" font-size="3.7" text-anchor="middle" fill="#333">cell death</text>
<text x="238.00" y="655.20" font-size="3.7" text-anchor="middle" fill="#333">Negative regulation</text>
<text x="238.00" y="659.50" font-size="3.7" text-anchor="middle" fill="#333">of programmed</text>
<text x="238.00" y="663.80" font-size="3.7" text-anchor="middle" fill="#333">cell death</text>
<text x="265.60" y="667.50" font-size="3.7" text-anchor="middle" fill="#333">Regulation</text>
<text x="265.60" y="671.80" font-size="3.7" text-anchor="middle" fill="#333">of programmed</text>
<text x="265.60" y="676.10" font-size="3.7" text-anchor="middle" fill="#333">cell death</text>
<text x="299.50" y="665.80" font-size="3.7" text-anchor="middle" fill="#333">Positive regulation</text>
<text x="299.50" y="670.10" font-size="3.7" text-anchor="middle" fill="#333">of programmed</text>
<text x="299.50" y="674.40" font-size="3.7" text-anchor="middle" fill="#333">cell death</text>
</g>
<g id="panel_g">
<text x="370.80" y="551.50" font-size="13.5" font-weight="bold" fill="#000">G</text>
<text x="428.40" y="553.80" font-size="7.3" fill="#111" textLength="38.50" lengthAdjust="spacingAndGlyphs" stroke="#111" stroke-width="0.18"><tspan font-style="italic">Cd4</tspan><tspan font-size="3.8" dy="-3.2">+</tspan><tspan dy="3.2"> T cells</tspan></text>
<text x="415.80" y="560.80" font-size="7.0" text-anchor="middle" fill="#222" textLength="43.50" lengthAdjust="spacingAndGlyphs">Mean expression</text>
<text x="412.00" y="568.60" font-size="4.6" text-anchor="middle" fill="#222">0.5</text>
<text x="436.00" y="568.60" font-size="4.6" text-anchor="middle" fill="#222">1.0</text>
<line x1="412.00" y1="570.80" x2="412.00" y2="572.20" stroke="#555" stroke-width="0.4" />
<line x1="436.00" y1="570.80" x2="436.00" y2="572.20" stroke="#555" stroke-width="0.4" />
<line x1="412.00" y1="576.60" x2="412.00" y2="578.00" stroke="#555" stroke-width="0.4" />
<line x1="436.00" y1="576.60" x2="436.00" y2="578.00" stroke="#555" stroke-width="0.4" />
<defs><linearGradient id="key5" x1="0" x2="1" y1="0" y2="0"><stop offset="0" stop-color="#fffef4"/><stop offset="0.45" stop-color="#fbeb9a"/><stop offset="1" stop-color="#f2d22e"/></linearGradient></defs>
<rect x="388.20" y="570.80" width="55.60" height="7.20" fill="url(#key5)" stroke="#888" stroke-width="0.4" />
<text x="476.50" y="561.60" font-size="4.7" text-anchor="middle" fill="#111" textLength="38.50" lengthAdjust="spacingAndGlyphs">% Cells expressed</text>
<circle cx="455.20" cy="573.50" r="0.80" fill="#000" />
<circle cx="460.10" cy="573.50" r="1.80" fill="#000" />
<circle cx="468.30" cy="573.50" r="4.00" fill="#000" />
<circle cx="481.40" cy="573.50" r="6.20" fill="#000" />
<circle cx="498.70" cy="573.50" r="9.00" fill="#000" />
<text x="456.50" y="584.50" font-size="3.5" text-anchor="end" fill="#222" transform="rotate(-55 456.50 584.50)">12.5%</text>
<text x="461.00" y="584.50" font-size="3.5" text-anchor="end" fill="#222" transform="rotate(-55 461.00 584.50)">25%</text>
<text x="469.30" y="585.50" font-size="3.5" text-anchor="end" fill="#222" transform="rotate(-55 469.30 585.50)">50%</text>
<text x="482.20" y="586.50" font-size="3.5" text-anchor="end" fill="#222" transform="rotate(-55 482.20 586.50)">75%</text>
<text x="499.50" y="588.00" font-size="3.5" text-anchor="end" fill="#222" transform="rotate(-55 499.50 588.00)">100%</text>
<circle cx="407.50" cy="600.50" r="0.40" fill="#999" stroke="#777" stroke-width="0.4" />
<circle cx="420.80" cy="600.50" r="5.00" fill="#faea8c" stroke="#777" stroke-width="0.4" />
<text x="440.00" y="602.50" font-size="5.6" text-anchor="middle" font-style="italic" fill="#222">Ccr7</text>
<rect x="452.90" y="596.90" width="5.72" height="7.20" fill="#a8181f" />
<circle cx="407.50" cy="610.50" r="0.90" fill="#fbeb90" stroke="#777" stroke-width="0.4" />
<circle cx="420.80" cy="610.50" r="4.90" fill="#f8e473" stroke="#777" stroke-width="0.4" />
<text x="440.00" y="612.50" font-size="5.6" text-anchor="middle" font-style="italic" fill="#222">Malt1</text>
<rect x="452.90" y="606.90" width="24.49" height="7.20" fill="#a8181f" />
<circle cx="407.50" cy="620.00" r="0.30" fill="#999" stroke="#777" stroke-width="0.4" />
<circle cx="420.80" cy="620.00" r="3.40" fill="#fbeb90" stroke="#777" stroke-width="0.4" />
<text x="440.00" y="622.00" font-size="5.6" text-anchor="middle" font-style="italic" fill="#222">Il4</text>
<rect x="452.90" y="616.40" width="37.05" height="7.20" fill="#a8181f" />
<circle cx="407.50" cy="629.50" r="2.60" fill="#fcf0a8" stroke="#777" stroke-width="0.4" />
<circle cx="420.80" cy="629.50" r="5.00" fill="#f5dc4a" stroke="#777" stroke-width="0.4" />
<text x="440.00" y="631.50" font-size="5.6" text-anchor="middle" font-style="italic" fill="#222">Bcl2</text>
<rect x="452.90" y="625.90" width="37.05" height="7.20" fill="#a8181f" />
<circle cx="407.50" cy="640.00" r="2.50" fill="#fcf0a8" stroke="#777" stroke-width="0.4" />
<circle cx="420.80" cy="640.00" r="5.20" fill="#f5dc4a" stroke="#777" stroke-width="0.4" />
<text x="440.00" y="642.00" font-size="5.6" text-anchor="middle" font-style="italic" fill="#222">Gadd45g</text>
<rect x="452.90" y="636.40" width="36.57" height="7.20" fill="#a8181f" />
<circle cx="407.50" cy="650.50" r="2.00" fill="#fcf0a8" stroke="#777" stroke-width="0.4" />
<circle cx="420.80" cy="650.50" r="1.20" fill="#f0d030" stroke="#777" stroke-width="0.4" />
<text x="440.00" y="652.50" font-size="5.6" text-anchor="middle" font-style="italic" fill="#222">Bad</text>
<circle cx="407.50" cy="658.20" r="2.00" fill="#fcf0a8" stroke="#777" stroke-width="0.4" />
<circle cx="420.80" cy="658.20" r="1.20" fill="#f0d030" stroke="#777" stroke-width="0.4" />
<text x="440.00" y="660.20" font-size="5.6" text-anchor="middle" font-style="italic" fill="#222">Pmaip1</text>
<circle cx="407.50" cy="666.80" r="4.00" fill="#f8e473" stroke="#777" stroke-width="0.4" />
<circle cx="420.80" cy="666.80" r="2.40" fill="#fbeb90" stroke="#777" stroke-width="0.4" />
<text x="440.00" y="668.80" font-size="5.6" text-anchor="middle" font-style="italic" fill="#222">Bak1</text>
<circle cx="407.50" cy="680.00" r="7.50" fill="#f2d22e" stroke="#777" stroke-width="0.4" />
<circle cx="420.80" cy="680.00" r="5.00" fill="#f5dc4a" stroke="#777" stroke-width="0.4" />
<text x="440.00" y="682.00" font-size="5.6" text-anchor="middle" font-style="italic" fill="#222">Bax</text>
<rect x="452.90" y="676.40" width="18.29" height="7.20" fill="#4472c4" />
<circle cx="407.50" cy="692.50" r="4.40" fill="#f8e473" stroke="#777" stroke-width="0.4" />
<circle cx="420.80" cy="692.50" r="2.20" fill="#fbeb90" stroke="#777" stroke-width="0.4" />
<text x="440.00" y="694.50" font-size="5.6" text-anchor="middle" font-style="italic" fill="#222">Casp3</text>
<line x1="427.50" y1="593.00" x2="427.50" y2="698.70" stroke="#000" stroke-width="1.0" />
<line x1="398.70" y1="698.20" x2="428.00" y2="698.20" stroke="#000" stroke-width="1.0" />
<line x1="452.50" y1="593.00" x2="452.50" y2="698.70" stroke="#000" stroke-width="1.0" />
<line x1="452.00" y1="698.20" x2="502.50" y2="698.20" stroke="#000" stroke-width="1.0" />
<line x1="385.00" y1="645.80" x2="502.50" y2="645.80" stroke="#000" stroke-width="0.9" stroke-dasharray="3.4 2"/>
<line x1="397.00" y1="613.00" x2="397.00" y2="643.70" stroke="#6e6e6e" stroke-width="1.0" />
<path d="M397.00,608.20 L394.60,614.00 L399.40,614.00 Z" fill="#6e6e6e" />
<line x1="397.00" y1="648.70" x2="397.00" y2="679.50" stroke="#6e6e6e" stroke-width="1.0" />
<path d="M397.00,684.00 L394.60,678.20 L399.40,678.20 Z" fill="#6e6e6e" />
<text x="392.20" y="626.00" font-size="6.8" text-anchor="middle" fill="#444" textLength="37.00" lengthAdjust="spacingAndGlyphs" transform="rotate(-90 392.20 626.00)">Anti-apoptotic</text>
<text x="392.20" y="667.00" font-size="6.8" text-anchor="middle" fill="#444" textLength="35.00" lengthAdjust="spacingAndGlyphs" transform="rotate(-90 392.20 667.00)">Pro-apoptotic</text>
<line x1="452.50" y1="698.20" x2="452.50" y2="701.60" stroke="#000" stroke-width="0.8" />
<text x="452.50" y="709.80" font-size="5.2" text-anchor="middle" fill="#333" textLength="2.70" lengthAdjust="spacingAndGlyphs">0</text>
<line x1="468.40" y1="698.20" x2="468.40" y2="701.60" stroke="#000" stroke-width="0.8" />
<text x="468.40" y="709.80" font-size="5.2" text-anchor="middle" fill="#333" textLength="5.40" lengthAdjust="spacingAndGlyphs">10</text>
<line x1="484.30" y1="698.20" x2="484.30" y2="701.60" stroke="#000" stroke-width="0.8" />
<text x="484.30" y="709.80" font-size="5.2" text-anchor="middle" fill="#333" textLength="5.40" lengthAdjust="spacingAndGlyphs">20</text>
<line x1="500.20" y1="698.20" x2="500.20" y2="701.60" stroke="#000" stroke-width="0.8" />
<text x="500.20" y="709.80" font-size="5.2" text-anchor="middle" fill="#333" textLength="5.40" lengthAdjust="spacingAndGlyphs">30</text>
<text x="477.50" y="721.00" font-size="7.5" text-anchor="middle" fill="#222" textLength="59.50" lengthAdjust="spacingAndGlyphs">% gene in <tspan font-style="italic">Cd4</tspan><tspan font-size="3.6" dy="-2.4">+</tspan><tspan dy="2.4"> top 25</tspan></text>
<text x="477.50" y="729.60" font-size="7.5" text-anchor="middle" fill="#222" textLength="43.00" lengthAdjust="spacingAndGlyphs">GO term ranking</text>
<text x="390.50" y="726.20" font-size="8" fill="#3d5a99" textLength="28.00" lengthAdjust="spacingAndGlyphs" transform="rotate(-45 390.50 726.20)">Eµ-<tspan font-style="italic">TCL1</tspan></text>
<text x="395.00" y="735.80" font-size="8" fill="#c0243c" textLength="39.00" lengthAdjust="spacingAndGlyphs" transform="rotate(-45 395.00 735.80)">Eµ-<tspan font-style="italic">TCL1</tspan><tspan font-size="4.6" dy="-3.2" font-style="italic">Akt-C</tspan></text>
</g>

<rect x="0.5" y="0.5" width="519" height="745" fill="none" stroke="#000" stroke-width="1.15"/>
</svg>
</body></html>
